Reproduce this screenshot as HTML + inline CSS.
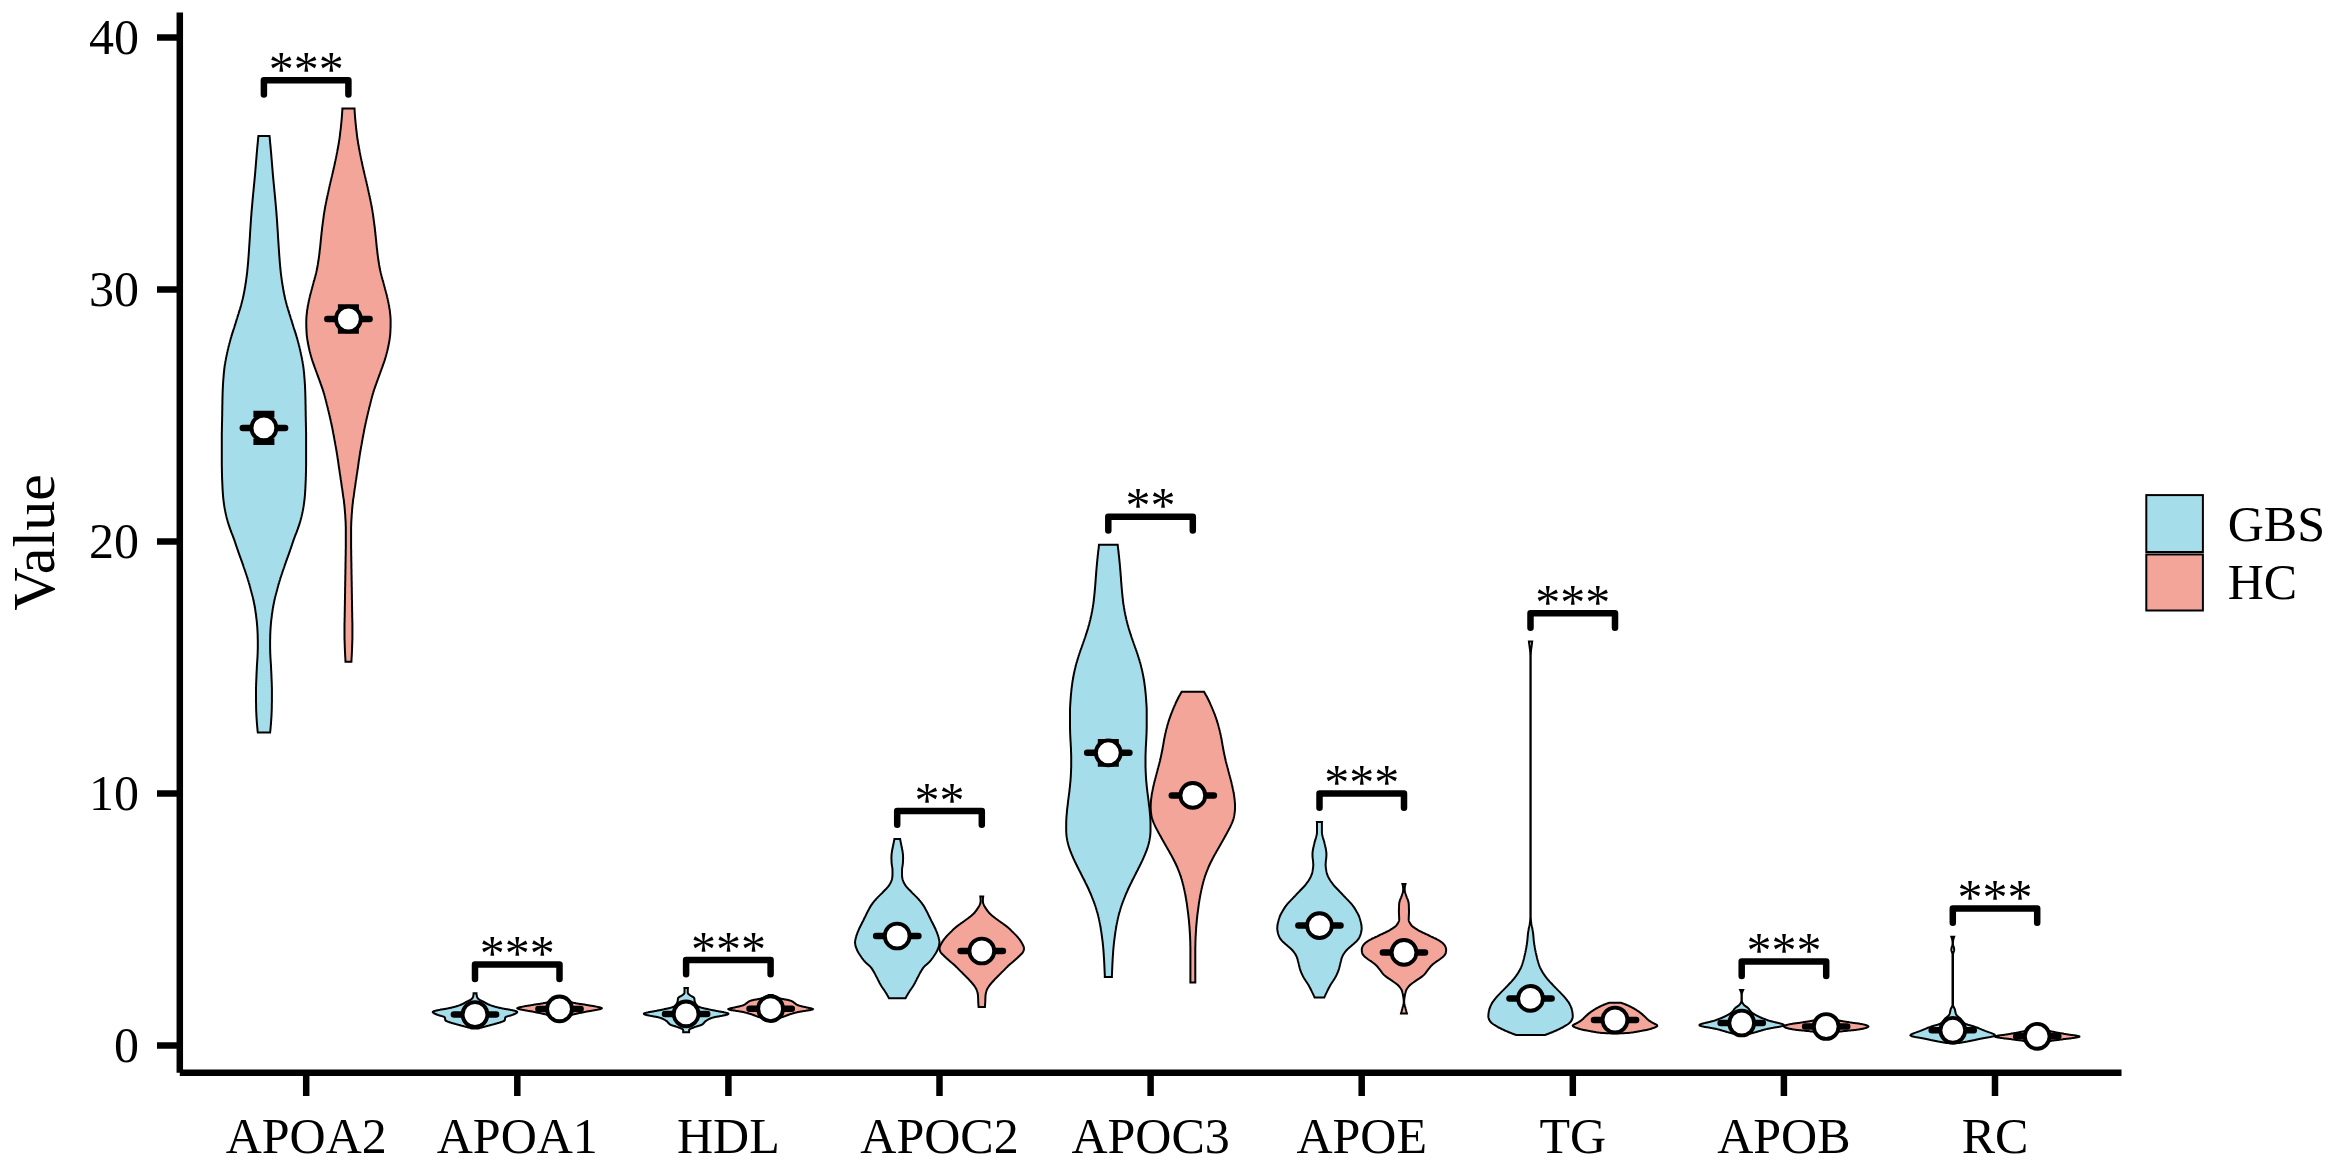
<!DOCTYPE html>
<html lang="en"><head><meta charset="utf-8"><title>Violin plot</title>
<style>html,body{margin:0;padding:0;background:#fff}body{width:2335px;height:1166px;overflow:hidden}svg{display:block}text{font-family:"Liberation Serif",serif;fill:#000}</style>
</head><body>
<svg width="2335" height="1166" viewBox="0 0 2335 1166">
<rect width="2335" height="1166" fill="#fff"/>
<g stroke="#000" stroke-width="2.0" stroke-linejoin="miter" stroke-miterlimit="10">
<path fill="#A6DDEA" d="M269.5,136.1 269.6,136.9 269.7,137.6 269.8,138.4 269.8,139.1 269.9,139.9 270.0,140.6 270.0,141.4 270.1,142.1 270.2,142.9 270.2,143.6 270.3,144.4 270.4,145.1 270.5,145.9 270.5,146.6 270.6,147.4 270.7,148.1 270.7,148.9 270.8,149.6 270.9,150.4 270.9,151.1 271.0,151.9 271.1,152.6 271.1,153.4 271.2,154.1 271.3,154.9 271.3,155.6 271.4,156.4 271.4,157.1 271.5,157.9 271.6,158.6 271.6,159.4 271.7,160.1 271.8,160.9 271.8,161.6 271.9,162.4 271.9,163.1 272.0,163.9 272.1,164.6 272.1,165.4 272.2,166.1 272.2,166.9 272.3,167.6 272.4,168.4 272.4,169.1 272.5,169.9 272.6,170.7 272.6,171.4 272.7,172.2 272.7,172.9 272.8,173.7 272.9,174.4 272.9,175.2 273.0,175.9 273.1,176.7 273.1,177.4 273.2,178.2 273.3,178.9 273.4,179.7 273.4,180.4 273.5,181.2 273.6,181.9 273.6,182.7 273.7,183.4 273.8,184.2 273.9,184.9 273.9,185.7 274.0,186.4 274.1,187.2 274.2,187.9 274.2,188.7 274.3,189.4 274.4,190.2 274.4,190.9 274.5,191.7 274.6,192.4 274.7,193.2 274.7,193.9 274.8,194.7 274.9,195.4 274.9,196.2 275.0,196.9 275.1,197.7 275.2,198.4 275.2,199.2 275.3,199.9 275.4,200.7 275.4,201.4 275.5,202.2 275.6,203.0 275.6,203.7 275.7,204.5 275.8,205.2 275.8,206.0 275.9,206.7 276.0,207.5 276.0,208.2 276.1,209.0 276.2,209.7 276.2,210.5 276.3,211.2 276.4,212.0 276.4,212.7 276.5,213.5 276.5,214.2 276.6,215.0 276.6,215.7 276.7,216.5 276.8,217.2 276.8,218.0 276.9,218.7 276.9,219.5 277.0,220.2 277.0,221.0 277.1,221.7 277.1,222.5 277.2,223.2 277.2,224.0 277.3,224.7 277.3,225.5 277.4,226.2 277.4,227.0 277.5,227.7 277.5,228.5 277.6,229.2 277.6,230.0 277.7,230.7 277.7,231.5 277.8,232.2 277.8,233.0 277.9,233.7 277.9,234.5 277.9,235.2 278.0,236.0 278.0,236.8 278.1,237.5 278.1,238.3 278.2,239.0 278.2,239.8 278.3,240.5 278.3,241.3 278.4,242.0 278.4,242.8 278.5,243.5 278.5,244.3 278.6,245.0 278.6,245.8 278.7,246.5 278.7,247.3 278.8,248.0 278.8,248.8 278.9,249.5 278.9,250.3 279.0,251.0 279.0,251.8 279.1,252.5 279.1,253.3 279.2,254.0 279.2,254.8 279.3,255.5 279.3,256.3 279.4,257.0 279.5,257.8 279.5,258.5 279.6,259.3 279.6,260.0 279.7,260.8 279.7,261.5 279.8,262.3 279.9,263.0 279.9,263.8 280.0,264.5 280.1,265.3 280.1,266.0 280.2,266.8 280.3,267.5 280.4,268.3 280.4,269.1 280.5,269.8 280.6,270.6 280.7,271.3 280.7,272.1 280.8,272.8 280.9,273.6 281.0,274.3 281.1,275.1 281.2,275.8 281.3,276.6 281.4,277.3 281.5,278.1 281.6,278.8 281.7,279.6 281.8,280.3 281.9,281.1 282.0,281.8 282.1,282.6 282.2,283.3 282.4,284.1 282.5,284.8 282.6,285.6 282.7,286.3 282.8,287.1 283.0,287.8 283.1,288.6 283.2,289.3 283.4,290.1 283.5,290.8 283.6,291.6 283.8,292.3 283.9,293.1 284.1,293.8 284.2,294.6 284.4,295.3 284.5,296.1 284.7,296.8 284.9,297.6 285.0,298.3 285.2,299.1 285.4,299.8 285.6,300.6 285.8,301.3 286.0,302.1 286.2,302.9 286.4,303.6 286.6,304.4 286.8,305.1 287.0,305.9 287.2,306.6 287.4,307.4 287.7,308.1 287.9,308.9 288.1,309.6 288.4,310.4 288.6,311.1 288.8,311.9 289.1,312.6 289.3,313.4 289.5,314.1 289.8,314.9 290.0,315.6 290.2,316.4 290.5,317.1 290.7,317.9 290.9,318.6 291.2,319.4 291.4,320.1 291.6,320.9 291.9,321.6 292.1,322.4 292.3,323.1 292.5,323.9 292.8,324.6 293.0,325.4 293.3,326.1 293.5,326.9 293.7,327.6 294.0,328.4 294.2,329.1 294.5,329.9 294.7,330.6 294.9,331.4 295.2,332.1 295.4,332.9 295.7,333.6 295.9,334.4 296.1,335.2 296.4,335.9 296.6,336.7 296.8,337.4 297.1,338.2 297.3,338.9 297.5,339.7 297.7,340.4 297.9,341.2 298.1,341.9 298.3,342.7 298.5,343.4 298.7,344.2 298.9,344.9 299.1,345.7 299.3,346.4 299.5,347.2 299.6,347.9 299.8,348.7 300.0,349.4 300.2,350.2 300.3,350.9 300.5,351.7 300.7,352.4 300.8,353.2 301.0,353.9 301.1,354.7 301.3,355.4 301.5,356.2 301.6,356.9 301.8,357.7 301.9,358.4 302.0,359.2 302.2,359.9 302.3,360.7 302.5,361.4 302.6,362.2 302.7,362.9 302.8,363.7 303.0,364.4 303.1,365.2 303.2,365.9 303.3,366.7 303.4,367.4 303.5,368.2 303.6,369.0 303.7,369.7 303.8,370.5 303.8,371.2 303.9,372.0 304.0,372.7 304.1,373.5 304.1,374.2 304.2,375.0 304.3,375.7 304.3,376.5 304.4,377.2 304.4,378.0 304.5,378.7 304.6,379.5 304.6,380.2 304.7,381.0 304.7,381.7 304.8,382.5 304.8,383.2 304.9,384.0 304.9,384.7 305.0,385.5 305.0,386.2 305.0,387.0 305.1,387.7 305.1,388.5 305.1,389.2 305.2,390.0 305.2,390.7 305.2,391.5 305.3,392.2 305.3,393.0 305.3,393.7 305.3,394.5 305.3,395.2 305.4,396.0 305.4,396.7 305.4,397.5 305.4,398.2 305.4,399.0 305.5,399.7 305.5,400.5 305.5,401.3 305.5,402.0 305.5,402.8 305.5,403.5 305.5,404.3 305.6,405.0 305.6,405.8 305.6,406.5 305.6,407.3 305.6,408.0 305.6,408.8 305.6,409.5 305.6,410.3 305.7,411.0 305.7,411.8 305.7,412.5 305.7,413.3 305.7,414.0 305.7,414.8 305.7,415.5 305.7,416.3 305.8,417.0 305.8,417.8 305.8,418.5 305.8,419.3 305.8,420.0 305.8,420.8 305.8,421.5 305.9,422.3 305.9,423.0 305.9,423.8 305.9,424.5 305.9,425.3 305.9,426.0 306.0,426.8 306.0,427.5 306.0,428.3 306.0,429.0 306.0,429.8 306.0,430.5 306.0,431.3 306.1,432.0 306.1,432.8 306.1,433.5 306.1,434.3 306.1,435.1 306.1,435.8 306.1,436.6 306.1,437.3 306.1,438.1 306.1,438.8 306.1,439.6 306.1,440.3 306.1,441.1 306.1,441.8 306.1,442.6 306.1,443.3 306.1,444.1 306.1,444.8 306.1,445.6 306.1,446.3 306.1,447.1 306.1,447.8 306.1,448.6 306.1,449.3 306.1,450.1 306.1,450.8 306.1,451.6 306.1,452.3 306.1,453.1 306.1,453.8 306.1,454.6 306.1,455.3 306.1,456.1 306.1,456.8 306.1,457.6 306.1,458.3 306.1,459.1 306.1,459.8 306.1,460.6 306.1,461.3 306.1,462.1 306.1,462.8 306.1,463.6 306.1,464.3 306.1,465.1 306.1,465.8 306.1,466.6 306.0,467.3 306.0,468.1 306.0,468.9 306.0,469.6 306.0,470.4 306.0,471.1 306.0,471.9 306.0,472.6 305.9,473.4 305.9,474.1 305.9,474.9 305.9,475.6 305.9,476.4 305.8,477.1 305.8,477.9 305.8,478.6 305.8,479.4 305.7,480.1 305.7,480.9 305.7,481.6 305.6,482.4 305.6,483.1 305.6,483.9 305.5,484.6 305.5,485.4 305.5,486.1 305.4,486.9 305.4,487.6 305.4,488.4 305.3,489.1 305.3,489.9 305.2,490.6 305.2,491.4 305.1,492.1 305.1,492.9 305.0,493.6 305.0,494.4 304.9,495.1 304.9,495.9 304.8,496.6 304.7,497.4 304.6,498.1 304.6,498.9 304.5,499.6 304.4,500.4 304.3,501.2 304.2,501.9 304.1,502.7 304.0,503.4 303.9,504.2 303.8,504.9 303.7,505.7 303.6,506.4 303.4,507.2 303.3,507.9 303.2,508.7 303.0,509.4 302.9,510.2 302.7,510.9 302.6,511.7 302.4,512.4 302.3,513.2 302.1,513.9 301.9,514.7 301.8,515.4 301.6,516.2 301.4,516.9 301.2,517.7 301.0,518.4 300.8,519.2 300.6,519.9 300.4,520.7 300.2,521.4 300.0,522.2 299.8,522.9 299.5,523.7 299.3,524.4 299.1,525.2 298.8,525.9 298.6,526.7 298.3,527.4 298.1,528.2 297.8,528.9 297.5,529.7 297.2,530.4 297.0,531.2 296.7,531.9 296.4,532.7 296.1,533.4 295.8,534.2 295.5,535.0 295.2,535.7 294.9,536.5 294.6,537.2 294.4,538.0 294.1,538.7 293.8,539.5 293.5,540.2 293.3,541.0 293.0,541.7 292.8,542.5 292.5,543.2 292.3,544.0 292.0,544.7 291.8,545.5 291.5,546.2 291.3,547.0 291.0,547.7 290.8,548.5 290.5,549.2 290.2,550.0 290.0,550.7 289.7,551.5 289.5,552.2 289.2,553.0 288.9,553.7 288.7,554.5 288.4,555.2 288.1,556.0 287.9,556.7 287.6,557.5 287.3,558.2 287.0,559.0 286.8,559.7 286.5,560.5 286.2,561.2 286.0,562.0 285.7,562.7 285.4,563.5 285.2,564.2 284.9,565.0 284.6,565.7 284.4,566.5 284.1,567.3 283.8,568.0 283.6,568.8 283.3,569.5 283.0,570.3 282.8,571.0 282.5,571.8 282.3,572.5 282.0,573.3 281.8,574.0 281.5,574.8 281.3,575.5 281.0,576.3 280.8,577.0 280.5,577.8 280.3,578.5 280.1,579.3 279.9,580.0 279.6,580.8 279.4,581.5 279.2,582.3 279.0,583.0 278.7,583.8 278.5,584.5 278.3,585.3 278.1,586.0 277.9,586.8 277.7,587.5 277.5,588.3 277.3,589.0 277.1,589.8 276.9,590.5 276.7,591.3 276.5,592.0 276.3,592.8 276.1,593.5 275.9,594.3 275.7,595.0 275.5,595.8 275.3,596.5 275.1,597.3 274.9,598.0 274.8,598.8 274.6,599.5 274.4,600.3 274.3,601.1 274.1,601.8 274.0,602.6 273.8,603.3 273.7,604.1 273.5,604.8 273.4,605.6 273.2,606.3 273.1,607.1 273.0,607.8 272.8,608.6 272.7,609.3 272.6,610.1 272.5,610.8 272.4,611.6 272.3,612.3 272.2,613.1 272.1,613.8 271.9,614.6 271.8,615.3 271.8,616.1 271.7,616.8 271.6,617.6 271.5,618.3 271.4,619.1 271.3,619.8 271.2,620.6 271.1,621.3 271.1,622.1 271.0,622.8 270.9,623.6 270.9,624.3 270.8,625.1 270.7,625.8 270.7,626.6 270.6,627.3 270.6,628.1 270.5,628.8 270.5,629.6 270.4,630.3 270.4,631.1 270.4,631.8 270.3,632.6 270.3,633.4 270.3,634.1 270.2,634.9 270.2,635.6 270.2,636.4 270.2,637.1 270.2,637.9 270.2,638.6 270.1,639.4 270.1,640.1 270.1,640.9 270.1,641.6 270.1,642.4 270.1,643.1 270.1,643.9 270.1,644.6 270.1,645.4 270.1,646.1 270.1,646.9 270.1,647.6 270.1,648.4 270.1,649.1 270.2,649.9 270.2,650.6 270.2,651.4 270.2,652.1 270.2,652.9 270.3,653.6 270.3,654.4 270.3,655.1 270.4,655.9 270.4,656.6 270.4,657.4 270.5,658.1 270.5,658.9 270.6,659.6 270.6,660.4 270.7,661.1 270.7,661.9 270.8,662.6 270.8,663.4 270.9,664.1 270.9,664.9 271.0,665.6 271.0,666.4 271.0,667.2 271.1,667.9 271.1,668.7 271.1,669.4 271.2,670.2 271.2,670.9 271.3,671.7 271.3,672.4 271.3,673.2 271.4,673.9 271.4,674.7 271.4,675.4 271.5,676.2 271.5,676.9 271.5,677.7 271.5,678.4 271.6,679.2 271.6,679.9 271.6,680.7 271.7,681.4 271.7,682.2 271.7,682.9 271.8,683.7 271.8,684.4 271.8,685.2 271.8,685.9 271.8,686.7 271.9,687.4 271.9,688.2 271.9,688.9 271.9,689.7 271.9,690.4 271.9,691.2 271.9,691.9 271.9,692.7 271.9,693.4 271.9,694.2 271.9,694.9 271.9,695.7 271.9,696.4 271.9,697.2 271.9,697.9 271.9,698.7 271.9,699.5 271.9,700.2 271.9,701.0 271.9,701.7 271.9,702.5 271.8,703.2 271.8,704.0 271.8,704.7 271.8,705.5 271.8,706.2 271.8,707.0 271.8,707.7 271.8,708.5 271.7,709.2 271.7,710.0 271.7,710.7 271.7,711.5 271.6,712.2 271.6,713.0 271.6,713.7 271.5,714.5 271.5,715.2 271.5,716.0 271.4,716.7 271.4,717.5 271.3,718.2 271.3,719.0 271.2,719.7 271.2,720.5 271.1,721.2 271.1,722.0 271.0,722.7 271.0,723.5 270.9,724.2 270.8,725.0 270.8,725.7 270.7,726.5 270.6,727.2 270.6,728.0 270.5,728.7 270.4,729.5 270.4,730.2 270.3,731.0 270.2,731.7 270.1,732.5 257.8,732.5 257.7,731.7 257.6,731.0 257.5,730.2 257.5,729.5 257.4,728.7 257.3,728.0 257.3,727.2 257.2,726.5 257.1,725.7 257.1,725.0 257.0,724.2 256.9,723.5 256.9,722.7 256.8,722.0 256.8,721.2 256.7,720.5 256.7,719.7 256.6,719.0 256.6,718.2 256.5,717.5 256.5,716.7 256.4,716.0 256.4,715.2 256.4,714.5 256.3,713.7 256.3,713.0 256.3,712.2 256.2,711.5 256.2,710.7 256.2,710.0 256.2,709.2 256.1,708.5 256.1,707.7 256.1,707.0 256.1,706.2 256.1,705.5 256.1,704.7 256.1,704.0 256.1,703.2 256.0,702.5 256.0,701.7 256.0,701.0 256.0,700.2 256.0,699.5 256.0,698.7 256.0,697.9 256.0,697.2 256.0,696.4 256.0,695.7 256.0,694.9 256.0,694.2 256.0,693.4 256.0,692.7 256.0,691.9 256.0,691.2 256.0,690.4 256.0,689.7 256.0,688.9 256.0,688.2 256.0,687.4 256.1,686.7 256.1,685.9 256.1,685.2 256.1,684.4 256.1,683.7 256.2,682.9 256.2,682.2 256.2,681.4 256.3,680.7 256.3,679.9 256.3,679.2 256.4,678.4 256.4,677.7 256.4,676.9 256.4,676.2 256.5,675.4 256.5,674.7 256.5,673.9 256.6,673.2 256.6,672.4 256.6,671.7 256.7,670.9 256.7,670.2 256.8,669.4 256.8,668.7 256.8,667.9 256.9,667.2 256.9,666.4 256.9,665.6 257.0,664.9 257.0,664.1 257.1,663.4 257.1,662.6 257.2,661.9 257.2,661.1 257.3,660.4 257.3,659.6 257.4,658.9 257.4,658.1 257.5,657.4 257.5,656.6 257.5,655.9 257.6,655.1 257.6,654.4 257.6,653.6 257.7,652.9 257.7,652.1 257.7,651.4 257.7,650.6 257.7,649.9 257.8,649.1 257.8,648.4 257.8,647.6 257.8,646.9 257.8,646.1 257.8,645.4 257.8,644.6 257.8,643.9 257.8,643.1 257.8,642.4 257.8,641.6 257.8,640.9 257.8,640.1 257.8,639.4 257.7,638.6 257.7,637.9 257.7,637.1 257.7,636.4 257.7,635.6 257.7,634.9 257.6,634.1 257.6,633.4 257.6,632.6 257.5,631.8 257.5,631.1 257.5,630.3 257.4,629.6 257.4,628.8 257.3,628.1 257.3,627.3 257.2,626.6 257.2,625.8 257.1,625.1 257.0,624.3 257.0,623.6 256.9,622.8 256.8,622.1 256.8,621.3 256.7,620.6 256.6,619.8 256.5,619.1 256.4,618.3 256.3,617.6 256.2,616.8 256.1,616.1 256.1,615.3 256.0,614.6 255.8,613.8 255.7,613.1 255.6,612.3 255.5,611.6 255.4,610.8 255.3,610.1 255.2,609.3 255.1,608.6 254.9,607.8 254.8,607.1 254.7,606.3 254.5,605.6 254.4,604.8 254.2,604.1 254.1,603.3 253.9,602.6 253.8,601.8 253.6,601.1 253.5,600.3 253.3,599.5 253.1,598.8 253.0,598.0 252.8,597.3 252.6,596.5 252.4,595.8 252.2,595.0 252.0,594.3 251.8,593.5 251.6,592.8 251.4,592.0 251.2,591.3 251.0,590.5 250.8,589.8 250.6,589.0 250.4,588.3 250.2,587.5 250.0,586.8 249.8,586.0 249.6,585.3 249.4,584.5 249.2,583.8 248.9,583.0 248.7,582.3 248.5,581.5 248.3,580.8 248.0,580.0 247.8,579.3 247.6,578.5 247.4,577.8 247.1,577.0 246.9,576.3 246.6,575.5 246.4,574.8 246.1,574.0 245.9,573.3 245.6,572.5 245.4,571.8 245.1,571.0 244.9,570.3 244.6,569.5 244.3,568.8 244.1,568.0 243.8,567.3 243.5,566.5 243.3,565.7 243.0,565.0 242.7,564.2 242.5,563.5 242.2,562.7 241.9,562.0 241.7,561.2 241.4,560.5 241.1,559.7 240.9,559.0 240.6,558.2 240.3,557.5 240.0,556.7 239.8,556.0 239.5,555.2 239.2,554.5 239.0,553.7 238.7,553.0 238.4,552.2 238.2,551.5 237.9,550.7 237.7,550.0 237.4,549.2 237.1,548.5 236.9,547.7 236.6,547.0 236.4,546.2 236.1,545.5 235.9,544.7 235.6,544.0 235.4,543.2 235.1,542.5 234.9,541.7 234.6,541.0 234.4,540.2 234.1,539.5 233.8,538.7 233.5,538.0 233.3,537.2 233.0,536.5 232.7,535.7 232.4,535.0 232.1,534.2 231.8,533.4 231.5,532.7 231.2,531.9 230.9,531.2 230.7,530.4 230.4,529.7 230.1,528.9 229.8,528.2 229.6,527.4 229.3,526.7 229.1,525.9 228.8,525.2 228.6,524.4 228.4,523.7 228.1,522.9 227.9,522.2 227.7,521.4 227.5,520.7 227.3,519.9 227.1,519.2 226.9,518.4 226.7,517.7 226.5,516.9 226.3,516.2 226.1,515.4 226.0,514.7 225.8,513.9 225.6,513.2 225.5,512.4 225.3,511.7 225.2,510.9 225.0,510.2 224.9,509.4 224.7,508.7 224.6,507.9 224.5,507.2 224.3,506.4 224.2,505.7 224.1,504.9 224.0,504.2 223.9,503.4 223.8,502.7 223.7,501.9 223.6,501.2 223.5,500.4 223.4,499.6 223.3,498.9 223.3,498.1 223.2,497.4 223.1,496.6 223.0,495.9 223.0,495.1 222.9,494.4 222.9,493.6 222.8,492.9 222.8,492.1 222.7,491.4 222.7,490.6 222.6,489.9 222.6,489.1 222.5,488.4 222.5,487.6 222.5,486.9 222.4,486.1 222.4,485.4 222.4,484.6 222.3,483.9 222.3,483.1 222.3,482.4 222.2,481.6 222.2,480.9 222.2,480.1 222.1,479.4 222.1,478.6 222.1,477.9 222.1,477.1 222.0,476.4 222.0,475.6 222.0,474.9 222.0,474.1 222.0,473.4 221.9,472.6 221.9,471.9 221.9,471.1 221.9,470.4 221.9,469.6 221.9,468.9 221.9,468.1 221.9,467.3 221.8,466.6 221.8,465.8 221.8,465.1 221.8,464.3 221.8,463.6 221.8,462.8 221.8,462.1 221.8,461.3 221.8,460.6 221.8,459.8 221.8,459.1 221.8,458.3 221.8,457.6 221.8,456.8 221.8,456.1 221.8,455.3 221.8,454.6 221.8,453.8 221.8,453.1 221.8,452.3 221.8,451.6 221.8,450.8 221.8,450.1 221.8,449.3 221.8,448.6 221.8,447.8 221.8,447.1 221.8,446.3 221.8,445.6 221.8,444.8 221.8,444.1 221.8,443.3 221.8,442.6 221.8,441.8 221.8,441.1 221.8,440.3 221.8,439.6 221.8,438.8 221.8,438.1 221.8,437.3 221.8,436.6 221.8,435.8 221.8,435.1 221.8,434.3 221.8,433.5 221.8,432.8 221.8,432.0 221.9,431.3 221.9,430.5 221.9,429.8 221.9,429.0 221.9,428.3 221.9,427.5 221.9,426.8 222.0,426.0 222.0,425.3 222.0,424.5 222.0,423.8 222.0,423.0 222.0,422.3 222.1,421.5 222.1,420.8 222.1,420.0 222.1,419.3 222.1,418.5 222.1,417.8 222.1,417.0 222.2,416.3 222.2,415.5 222.2,414.8 222.2,414.0 222.2,413.3 222.2,412.5 222.2,411.8 222.2,411.0 222.3,410.3 222.3,409.5 222.3,408.8 222.3,408.0 222.3,407.3 222.3,406.5 222.3,405.8 222.3,405.0 222.4,404.3 222.4,403.5 222.4,402.8 222.4,402.0 222.4,401.3 222.4,400.5 222.4,399.7 222.5,399.0 222.5,398.2 222.5,397.5 222.5,396.7 222.5,396.0 222.6,395.2 222.6,394.5 222.6,393.7 222.6,393.0 222.6,392.2 222.7,391.5 222.7,390.7 222.7,390.0 222.8,389.2 222.8,388.5 222.8,387.7 222.9,387.0 222.9,386.2 222.9,385.5 223.0,384.7 223.0,384.0 223.1,383.2 223.1,382.5 223.2,381.7 223.2,381.0 223.3,380.2 223.3,379.5 223.4,378.7 223.5,378.0 223.5,377.2 223.6,376.5 223.6,375.7 223.7,375.0 223.8,374.2 223.8,373.5 223.9,372.7 224.0,372.0 224.1,371.2 224.1,370.5 224.2,369.7 224.3,369.0 224.4,368.2 224.5,367.4 224.6,366.7 224.7,365.9 224.8,365.2 224.9,364.4 225.1,363.7 225.2,362.9 225.3,362.2 225.4,361.4 225.6,360.7 225.7,359.9 225.9,359.2 226.0,358.4 226.1,357.7 226.3,356.9 226.4,356.2 226.6,355.4 226.8,354.7 226.9,353.9 227.1,353.2 227.2,352.4 227.4,351.7 227.6,350.9 227.7,350.2 227.9,349.4 228.1,348.7 228.3,347.9 228.4,347.2 228.6,346.4 228.8,345.7 229.0,344.9 229.2,344.2 229.4,343.4 229.6,342.7 229.8,341.9 230.0,341.2 230.2,340.4 230.4,339.7 230.6,338.9 230.8,338.2 231.1,337.4 231.3,336.7 231.5,335.9 231.8,335.2 232.0,334.4 232.2,333.6 232.5,332.9 232.7,332.1 233.0,331.4 233.2,330.6 233.4,329.9 233.7,329.1 233.9,328.4 234.2,327.6 234.4,326.9 234.6,326.1 234.9,325.4 235.1,324.6 235.4,323.9 235.6,323.1 235.8,322.4 236.0,321.6 236.3,320.9 236.5,320.1 236.7,319.4 237.0,318.6 237.2,317.9 237.4,317.1 237.7,316.4 237.9,315.6 238.1,314.9 238.4,314.1 238.6,313.4 238.8,312.6 239.1,311.9 239.3,311.1 239.5,310.4 239.8,309.6 240.0,308.9 240.2,308.1 240.5,307.4 240.7,306.6 240.9,305.9 241.1,305.1 241.3,304.4 241.5,303.6 241.7,302.9 241.9,302.1 242.1,301.3 242.3,300.6 242.5,299.8 242.7,299.1 242.9,298.3 243.0,297.6 243.2,296.8 243.4,296.1 243.5,295.3 243.7,294.6 243.8,293.8 244.0,293.1 244.1,292.3 244.3,291.6 244.4,290.8 244.5,290.1 244.7,289.3 244.8,288.6 244.9,287.8 245.1,287.1 245.2,286.3 245.3,285.6 245.4,284.8 245.5,284.1 245.7,283.3 245.8,282.6 245.9,281.8 246.0,281.1 246.1,280.3 246.2,279.6 246.3,278.8 246.4,278.1 246.5,277.3 246.6,276.6 246.7,275.8 246.8,275.1 246.9,274.3 247.0,273.6 247.1,272.8 247.2,272.1 247.2,271.3 247.3,270.6 247.4,269.8 247.5,269.1 247.5,268.3 247.6,267.5 247.7,266.8 247.8,266.0 247.8,265.3 247.9,264.5 248.0,263.8 248.0,263.0 248.1,262.3 248.2,261.5 248.2,260.8 248.3,260.0 248.3,259.3 248.4,258.5 248.4,257.8 248.5,257.0 248.6,256.3 248.6,255.5 248.7,254.8 248.7,254.0 248.8,253.3 248.8,252.5 248.9,251.8 248.9,251.0 249.0,250.3 249.0,249.5 249.1,248.8 249.1,248.0 249.2,247.3 249.2,246.5 249.3,245.8 249.3,245.0 249.4,244.3 249.4,243.5 249.5,242.8 249.5,242.0 249.6,241.3 249.6,240.5 249.7,239.8 249.7,239.0 249.8,238.3 249.8,237.5 249.9,236.8 249.9,236.0 250.0,235.2 250.0,234.5 250.0,233.7 250.1,233.0 250.1,232.2 250.2,231.5 250.2,230.7 250.3,230.0 250.3,229.2 250.4,228.5 250.4,227.7 250.5,227.0 250.5,226.2 250.6,225.5 250.6,224.7 250.7,224.0 250.7,223.2 250.8,222.5 250.8,221.7 250.9,221.0 250.9,220.2 251.0,219.5 251.0,218.7 251.1,218.0 251.1,217.2 251.2,216.5 251.3,215.7 251.3,215.0 251.4,214.2 251.4,213.5 251.5,212.7 251.5,212.0 251.6,211.2 251.7,210.5 251.7,209.7 251.8,209.0 251.9,208.2 251.9,207.5 252.0,206.7 252.1,206.0 252.1,205.2 252.2,204.5 252.3,203.7 252.3,203.0 252.4,202.2 252.5,201.4 252.5,200.7 252.6,199.9 252.7,199.2 252.7,198.4 252.8,197.7 252.9,196.9 253.0,196.2 253.0,195.4 253.1,194.7 253.2,193.9 253.2,193.2 253.3,192.4 253.4,191.7 253.5,190.9 253.5,190.2 253.6,189.4 253.7,188.7 253.7,187.9 253.8,187.2 253.9,186.4 254.0,185.7 254.0,184.9 254.1,184.2 254.2,183.4 254.3,182.7 254.3,181.9 254.4,181.2 254.5,180.4 254.5,179.7 254.6,178.9 254.7,178.2 254.8,177.4 254.8,176.7 254.9,175.9 255.0,175.2 255.0,174.4 255.1,173.7 255.2,172.9 255.2,172.2 255.3,171.4 255.3,170.7 255.4,169.9 255.5,169.1 255.5,168.4 255.6,167.6 255.7,166.9 255.7,166.1 255.8,165.4 255.8,164.6 255.9,163.9 256.0,163.1 256.0,162.4 256.1,161.6 256.1,160.9 256.2,160.1 256.3,159.4 256.3,158.6 256.4,157.9 256.5,157.1 256.5,156.4 256.6,155.6 256.6,154.9 256.7,154.1 256.8,153.4 256.8,152.6 256.9,151.9 257.0,151.1 257.0,150.4 257.1,149.6 257.2,148.9 257.2,148.1 257.3,147.4 257.4,146.6 257.4,145.9 257.5,145.1 257.6,144.4 257.7,143.6 257.7,142.9 257.8,142.1 257.9,141.4 257.9,140.6 258.0,139.9 258.1,139.1 258.1,138.4 258.2,137.6 258.3,136.9 258.4,136.1Z"/>
<path fill="#F3A59A" d="M354.5,108.5 354.5,109.3 354.6,110.0 354.6,110.8 354.7,111.5 354.7,112.3 354.8,113.0 354.8,113.8 354.9,114.5 354.9,115.3 355.0,116.0 355.0,116.8 355.1,117.5 355.2,118.3 355.2,119.0 355.3,119.8 355.4,120.5 355.4,121.3 355.5,122.0 355.6,122.8 355.7,123.5 355.7,124.3 355.8,125.0 355.9,125.8 356.0,126.5 356.0,127.3 356.1,128.0 356.2,128.8 356.3,129.5 356.4,130.3 356.5,131.1 356.6,131.8 356.7,132.6 356.8,133.3 356.8,134.1 356.9,134.8 357.0,135.6 357.1,136.3 357.2,137.1 357.3,137.8 357.4,138.6 357.5,139.3 357.6,140.1 357.8,140.8 357.9,141.6 358.0,142.3 358.1,143.1 358.2,143.8 358.4,144.6 358.5,145.3 358.6,146.1 358.8,146.8 358.9,147.6 359.0,148.3 359.2,149.1 359.3,149.8 359.5,150.6 359.6,151.4 359.8,152.1 359.9,152.9 360.1,153.6 360.2,154.4 360.4,155.1 360.5,155.9 360.7,156.6 360.8,157.4 361.0,158.1 361.1,158.9 361.3,159.6 361.4,160.4 361.6,161.1 361.8,161.9 361.9,162.6 362.1,163.4 362.2,164.1 362.4,164.9 362.6,165.6 362.7,166.4 362.9,167.1 363.1,167.9 363.2,168.6 363.4,169.4 363.6,170.1 363.8,170.9 363.9,171.6 364.1,172.4 364.3,173.2 364.5,173.9 364.7,174.7 364.8,175.4 365.0,176.2 365.2,176.9 365.4,177.7 365.6,178.4 365.7,179.2 365.9,179.9 366.1,180.7 366.3,181.4 366.5,182.2 366.6,182.9 366.8,183.7 367.0,184.4 367.1,185.2 367.3,185.9 367.5,186.7 367.7,187.4 367.8,188.2 368.0,188.9 368.1,189.7 368.3,190.4 368.5,191.2 368.6,191.9 368.8,192.7 369.0,193.4 369.1,194.2 369.3,195.0 369.5,195.7 369.6,196.5 369.8,197.2 369.9,198.0 370.1,198.7 370.3,199.5 370.4,200.2 370.6,201.0 370.7,201.7 370.9,202.5 371.0,203.2 371.2,204.0 371.3,204.7 371.5,205.5 371.6,206.2 371.7,207.0 371.9,207.7 372.0,208.5 372.1,209.2 372.3,210.0 372.4,210.7 372.5,211.5 372.6,212.2 372.8,213.0 372.9,213.7 373.0,214.5 373.1,215.3 373.2,216.0 373.3,216.8 373.4,217.5 373.5,218.3 373.6,219.0 373.7,219.8 373.8,220.5 373.9,221.3 374.0,222.0 374.1,222.8 374.2,223.5 374.3,224.3 374.4,225.0 374.5,225.8 374.6,226.5 374.7,227.3 374.8,228.0 374.9,228.8 374.9,229.5 375.0,230.3 375.1,231.0 375.2,231.8 375.3,232.5 375.4,233.3 375.4,234.0 375.5,234.8 375.6,235.5 375.7,236.3 375.8,237.1 375.8,237.8 375.9,238.6 376.0,239.3 376.1,240.1 376.1,240.8 376.2,241.6 376.3,242.3 376.4,243.1 376.4,243.8 376.5,244.6 376.6,245.3 376.7,246.1 376.7,246.8 376.8,247.6 376.9,248.3 377.0,249.1 377.1,249.8 377.2,250.6 377.3,251.3 377.3,252.1 377.4,252.8 377.5,253.6 377.6,254.3 377.7,255.1 377.8,255.8 377.9,256.6 378.0,257.3 378.1,258.1 378.2,258.9 378.3,259.6 378.4,260.4 378.5,261.1 378.7,261.9 378.8,262.6 378.9,263.4 379.0,264.1 379.1,264.9 379.3,265.6 379.4,266.4 379.5,267.1 379.7,267.9 379.8,268.6 380.0,269.4 380.1,270.1 380.3,270.9 380.5,271.6 380.6,272.4 380.8,273.1 381.0,273.9 381.2,274.6 381.4,275.4 381.6,276.1 381.8,276.9 382.0,277.6 382.2,278.4 382.4,279.2 382.6,279.9 382.8,280.7 383.1,281.4 383.3,282.2 383.5,282.9 383.7,283.7 383.9,284.4 384.1,285.2 384.3,285.9 384.5,286.7 384.7,287.4 384.9,288.2 385.1,288.9 385.3,289.7 385.5,290.4 385.7,291.2 385.9,291.9 386.1,292.7 386.3,293.4 386.5,294.2 386.7,294.9 386.9,295.7 387.0,296.4 387.2,297.2 387.4,297.9 387.6,298.7 387.7,299.4 387.9,300.2 388.1,301.0 388.2,301.7 388.4,302.5 388.5,303.2 388.7,304.0 388.8,304.7 389.0,305.5 389.1,306.2 389.2,307.0 389.3,307.7 389.4,308.5 389.6,309.2 389.7,310.0 389.8,310.7 389.9,311.5 390.0,312.2 390.0,313.0 390.1,313.7 390.2,314.5 390.3,315.2 390.4,316.0 390.4,316.7 390.5,317.5 390.5,318.2 390.6,319.0 390.6,319.7 390.6,320.5 390.6,321.2 390.6,322.0 390.6,322.8 390.6,323.5 390.6,324.3 390.6,325.0 390.6,325.8 390.6,326.5 390.6,327.3 390.5,328.0 390.5,328.8 390.5,329.5 390.4,330.3 390.4,331.0 390.4,331.8 390.3,332.5 390.3,333.3 390.2,334.0 390.2,334.8 390.1,335.5 390.0,336.3 389.9,337.0 389.8,337.8 389.7,338.5 389.6,339.3 389.5,340.0 389.4,340.8 389.2,341.5 389.1,342.3 389.0,343.1 388.8,343.8 388.7,344.6 388.5,345.3 388.4,346.1 388.2,346.8 388.1,347.6 387.9,348.3 387.7,349.1 387.6,349.8 387.4,350.6 387.2,351.3 387.0,352.1 386.8,352.8 386.6,353.6 386.4,354.3 386.2,355.1 386.0,355.8 385.8,356.6 385.6,357.3 385.3,358.1 385.1,358.8 384.9,359.6 384.6,360.3 384.4,361.1 384.1,361.8 383.9,362.6 383.6,363.3 383.3,364.1 383.1,364.9 382.8,365.6 382.5,366.4 382.3,367.1 382.0,367.9 381.7,368.6 381.4,369.4 381.2,370.1 380.9,370.9 380.6,371.6 380.3,372.4 380.1,373.1 379.8,373.9 379.5,374.6 379.3,375.4 379.0,376.1 378.7,376.9 378.4,377.6 378.2,378.4 377.9,379.1 377.6,379.9 377.3,380.6 377.1,381.4 376.8,382.1 376.5,382.9 376.3,383.6 376.0,384.4 375.7,385.1 375.5,385.9 375.2,386.7 374.9,387.4 374.7,388.2 374.4,388.9 374.1,389.7 373.9,390.4 373.7,391.2 373.4,391.9 373.2,392.7 373.0,393.4 372.7,394.2 372.5,394.9 372.3,395.7 372.1,396.4 371.9,397.2 371.7,397.9 371.5,398.7 371.3,399.4 371.1,400.2 370.9,400.9 370.7,401.7 370.5,402.4 370.4,403.2 370.2,403.9 370.0,404.7 369.8,405.4 369.6,406.2 369.4,407.0 369.2,407.7 369.0,408.5 368.9,409.2 368.7,410.0 368.5,410.7 368.3,411.5 368.1,412.2 368.0,413.0 367.8,413.7 367.6,414.5 367.4,415.2 367.3,416.0 367.1,416.7 366.9,417.5 366.7,418.2 366.6,419.0 366.4,419.7 366.2,420.5 366.1,421.2 365.9,422.0 365.7,422.7 365.6,423.5 365.4,424.2 365.3,425.0 365.1,425.7 364.9,426.5 364.8,427.2 364.6,428.0 364.5,428.8 364.3,429.5 364.2,430.3 364.0,431.0 363.9,431.8 363.8,432.5 363.6,433.3 363.5,434.0 363.3,434.8 363.2,435.5 363.1,436.3 362.9,437.0 362.8,437.8 362.6,438.5 362.5,439.3 362.4,440.0 362.2,440.8 362.1,441.5 362.0,442.3 361.8,443.0 361.7,443.8 361.6,444.5 361.4,445.3 361.3,446.0 361.1,446.8 361.0,447.5 360.9,448.3 360.7,449.1 360.6,449.8 360.5,450.6 360.4,451.3 360.2,452.1 360.1,452.8 360.0,453.6 359.9,454.3 359.7,455.1 359.6,455.8 359.5,456.6 359.4,457.3 359.3,458.1 359.2,458.8 359.1,459.6 358.9,460.3 358.8,461.1 358.7,461.8 358.6,462.6 358.5,463.3 358.4,464.1 358.3,464.8 358.2,465.6 358.1,466.3 358.0,467.1 357.9,467.8 357.8,468.6 357.6,469.3 357.5,470.1 357.4,470.9 357.3,471.6 357.2,472.4 357.1,473.1 357.0,473.9 356.8,474.6 356.7,475.4 356.6,476.1 356.5,476.9 356.4,477.6 356.3,478.4 356.2,479.1 356.1,479.9 355.9,480.6 355.8,481.4 355.7,482.1 355.6,482.9 355.5,483.6 355.4,484.4 355.3,485.1 355.2,485.9 355.1,486.6 355.0,487.4 354.8,488.1 354.7,488.9 354.6,489.6 354.5,490.4 354.4,491.1 354.3,491.9 354.2,492.7 354.1,493.4 354.0,494.2 353.9,494.9 353.8,495.7 353.7,496.4 353.6,497.2 353.4,497.9 353.3,498.7 353.2,499.4 353.1,500.2 353.0,500.9 352.9,501.7 352.9,502.4 352.8,503.2 352.7,503.9 352.6,504.7 352.5,505.4 352.4,506.2 352.4,506.9 352.3,507.7 352.2,508.4 352.2,509.2 352.1,509.9 352.0,510.7 352.0,511.4 351.9,512.2 351.9,513.0 351.8,513.7 351.7,514.5 351.7,515.2 351.6,516.0 351.6,516.7 351.6,517.5 351.5,518.2 351.5,519.0 351.4,519.7 351.4,520.5 351.3,521.2 351.3,522.0 351.3,522.7 351.2,523.5 351.2,524.2 351.2,525.0 351.2,525.7 351.1,526.5 351.1,527.2 351.1,528.0 351.1,528.7 351.1,529.5 351.1,530.2 351.1,531.0 351.1,531.7 351.1,532.5 351.1,533.2 351.1,534.0 351.1,534.8 351.1,535.5 351.1,536.3 351.1,537.0 351.1,537.8 351.1,538.5 351.1,539.3 351.1,540.0 351.1,540.8 351.1,541.5 351.1,542.3 351.1,543.0 351.1,543.8 351.1,544.5 351.1,545.3 351.1,546.0 351.1,546.8 351.1,547.5 351.1,548.3 351.1,549.0 351.2,549.8 351.2,550.5 351.2,551.3 351.2,552.0 351.2,552.8 351.2,553.5 351.2,554.3 351.2,555.0 351.2,555.8 351.3,556.6 351.3,557.3 351.3,558.1 351.3,558.8 351.3,559.6 351.3,560.3 351.3,561.1 351.3,561.8 351.4,562.6 351.4,563.3 351.4,564.1 351.4,564.8 351.4,565.6 351.4,566.3 351.4,567.1 351.4,567.8 351.4,568.6 351.5,569.3 351.5,570.1 351.5,570.8 351.5,571.6 351.5,572.3 351.5,573.1 351.5,573.8 351.5,574.6 351.6,575.3 351.6,576.1 351.6,576.9 351.6,577.6 351.6,578.4 351.6,579.1 351.6,579.9 351.6,580.6 351.7,581.4 351.7,582.1 351.7,582.9 351.7,583.6 351.7,584.4 351.7,585.1 351.7,585.9 351.7,586.6 351.8,587.4 351.8,588.1 351.8,588.9 351.8,589.6 351.8,590.4 351.8,591.1 351.8,591.9 351.8,592.6 351.8,593.4 351.9,594.1 351.9,594.9 351.9,595.6 351.9,596.4 351.9,597.1 351.9,597.9 351.9,598.7 351.9,599.4 352.0,600.2 352.0,600.9 352.0,601.7 352.0,602.4 352.0,603.2 352.0,603.9 352.0,604.7 352.0,605.4 352.1,606.2 352.1,606.9 352.1,607.7 352.1,608.4 352.1,609.2 352.1,609.9 352.1,610.7 352.1,611.4 352.2,612.2 352.2,612.9 352.2,613.7 352.2,614.4 352.2,615.2 352.2,615.9 352.2,616.7 352.2,617.4 352.3,618.2 352.3,618.9 352.3,619.7 352.3,620.5 352.3,621.2 352.3,622.0 352.4,622.7 352.4,623.5 352.4,624.2 352.4,625.0 352.4,625.7 352.4,626.5 352.4,627.2 352.4,628.0 352.4,628.7 352.4,629.5 352.4,630.2 352.4,631.0 352.4,631.7 352.4,632.5 352.4,633.2 352.4,634.0 352.4,634.7 352.4,635.5 352.4,636.2 352.4,637.0 352.4,637.7 352.4,638.5 352.4,639.2 352.3,640.0 352.3,640.8 352.3,641.5 352.3,642.3 352.2,643.0 352.2,643.8 352.2,644.5 352.2,645.3 352.1,646.0 352.1,646.8 352.1,647.5 352.1,648.3 352.0,649.0 352.0,649.8 352.0,650.5 351.9,651.3 351.9,652.0 351.9,652.8 351.8,653.5 351.8,654.3 351.8,655.0 351.7,655.8 351.7,656.5 351.6,657.3 351.6,658.0 351.5,658.8 351.5,659.5 351.5,660.3 351.4,661.0 351.4,661.8 345.5,661.8 345.5,661.0 345.4,660.3 345.4,659.5 345.4,658.8 345.3,658.0 345.3,657.3 345.2,656.5 345.2,655.8 345.1,655.0 345.1,654.3 345.1,653.5 345.0,652.8 345.0,652.0 345.0,651.3 344.9,650.5 344.9,649.8 344.9,649.0 344.8,648.3 344.8,647.5 344.8,646.8 344.8,646.0 344.7,645.3 344.7,644.5 344.7,643.8 344.7,643.0 344.6,642.3 344.6,641.5 344.6,640.8 344.6,640.0 344.5,639.2 344.5,638.5 344.5,637.7 344.5,637.0 344.5,636.2 344.5,635.5 344.5,634.7 344.5,634.0 344.5,633.2 344.5,632.5 344.5,631.7 344.5,631.0 344.5,630.2 344.5,629.5 344.5,628.7 344.5,628.0 344.5,627.2 344.5,626.5 344.5,625.7 344.5,625.0 344.5,624.2 344.5,623.5 344.5,622.7 344.6,622.0 344.6,621.2 344.6,620.5 344.6,619.7 344.6,618.9 344.6,618.2 344.7,617.4 344.7,616.7 344.7,615.9 344.7,615.2 344.7,614.4 344.7,613.7 344.7,612.9 344.7,612.2 344.8,611.4 344.8,610.7 344.8,609.9 344.8,609.2 344.8,608.4 344.8,607.7 344.8,606.9 344.8,606.2 344.9,605.4 344.9,604.7 344.9,603.9 344.9,603.2 344.9,602.4 344.9,601.7 344.9,600.9 344.9,600.2 345.0,599.4 345.0,598.7 345.0,597.9 345.0,597.1 345.0,596.4 345.0,595.6 345.0,594.9 345.0,594.1 345.1,593.4 345.1,592.6 345.1,591.9 345.1,591.1 345.1,590.4 345.1,589.6 345.1,588.9 345.1,588.1 345.1,587.4 345.2,586.6 345.2,585.9 345.2,585.1 345.2,584.4 345.2,583.6 345.2,582.9 345.2,582.1 345.2,581.4 345.3,580.6 345.3,579.9 345.3,579.1 345.3,578.4 345.3,577.6 345.3,576.9 345.3,576.1 345.3,575.3 345.4,574.6 345.4,573.8 345.4,573.1 345.4,572.3 345.4,571.6 345.4,570.8 345.4,570.1 345.4,569.3 345.5,568.6 345.5,567.8 345.5,567.1 345.5,566.3 345.5,565.6 345.5,564.8 345.5,564.1 345.5,563.3 345.5,562.6 345.6,561.8 345.6,561.1 345.6,560.3 345.6,559.6 345.6,558.8 345.6,558.1 345.6,557.3 345.6,556.6 345.7,555.8 345.7,555.0 345.7,554.3 345.7,553.5 345.7,552.8 345.7,552.0 345.7,551.3 345.7,550.5 345.7,549.8 345.8,549.0 345.8,548.3 345.8,547.5 345.8,546.8 345.8,546.0 345.8,545.3 345.8,544.5 345.8,543.8 345.8,543.0 345.8,542.3 345.8,541.5 345.8,540.8 345.8,540.0 345.8,539.3 345.8,538.5 345.8,537.8 345.8,537.0 345.8,536.3 345.8,535.5 345.8,534.8 345.8,534.0 345.8,533.2 345.8,532.5 345.8,531.7 345.8,531.0 345.8,530.2 345.8,529.5 345.8,528.7 345.8,528.0 345.8,527.2 345.8,526.5 345.7,525.7 345.7,525.0 345.7,524.2 345.7,523.5 345.6,522.7 345.6,522.0 345.6,521.2 345.5,520.5 345.5,519.7 345.4,519.0 345.4,518.2 345.3,517.5 345.3,516.7 345.3,516.0 345.2,515.2 345.2,514.5 345.1,513.7 345.0,513.0 345.0,512.2 344.9,511.4 344.9,510.7 344.8,509.9 344.7,509.2 344.7,508.4 344.6,507.7 344.5,506.9 344.5,506.2 344.4,505.4 344.3,504.7 344.2,503.9 344.1,503.2 344.0,502.4 344.0,501.7 343.9,500.9 343.8,500.2 343.7,499.4 343.6,498.7 343.5,497.9 343.3,497.2 343.2,496.4 343.1,495.7 343.0,494.9 342.9,494.2 342.8,493.4 342.7,492.7 342.6,491.9 342.5,491.1 342.4,490.4 342.3,489.6 342.2,488.9 342.1,488.1 341.9,487.4 341.8,486.6 341.7,485.9 341.6,485.1 341.5,484.4 341.4,483.6 341.3,482.9 341.2,482.1 341.1,481.4 341.0,480.6 340.8,479.9 340.7,479.1 340.6,478.4 340.5,477.6 340.4,476.9 340.3,476.1 340.2,475.4 340.1,474.6 339.9,473.9 339.8,473.1 339.7,472.4 339.6,471.6 339.5,470.9 339.4,470.1 339.3,469.3 339.1,468.6 339.0,467.8 338.9,467.1 338.8,466.3 338.7,465.6 338.6,464.8 338.5,464.1 338.4,463.3 338.3,462.6 338.2,461.8 338.1,461.1 338.0,460.3 337.8,459.6 337.7,458.8 337.6,458.1 337.5,457.3 337.4,456.6 337.3,455.8 337.2,455.1 337.0,454.3 336.9,453.6 336.8,452.8 336.7,452.1 336.5,451.3 336.4,450.6 336.3,449.8 336.2,449.1 336.0,448.3 335.9,447.5 335.8,446.8 335.6,446.0 335.5,445.3 335.3,444.5 335.2,443.8 335.1,443.0 334.9,442.3 334.8,441.5 334.7,440.8 334.5,440.0 334.4,439.3 334.3,438.5 334.1,437.8 334.0,437.0 333.8,436.3 333.7,435.5 333.6,434.8 333.4,434.0 333.3,433.3 333.1,432.5 333.0,431.8 332.9,431.0 332.7,430.3 332.6,429.5 332.4,428.8 332.3,428.0 332.1,427.2 332.0,426.5 331.8,425.7 331.6,425.0 331.5,424.2 331.3,423.5 331.2,422.7 331.0,422.0 330.8,421.2 330.7,420.5 330.5,419.7 330.3,419.0 330.2,418.2 330.0,417.5 329.8,416.7 329.6,416.0 329.5,415.2 329.3,414.5 329.1,413.7 328.9,413.0 328.8,412.2 328.6,411.5 328.4,410.7 328.2,410.0 328.0,409.2 327.9,408.5 327.7,407.7 327.5,407.0 327.3,406.2 327.1,405.4 326.9,404.7 326.7,403.9 326.5,403.2 326.4,402.4 326.2,401.7 326.0,400.9 325.8,400.2 325.6,399.4 325.4,398.7 325.2,397.9 325.0,397.2 324.8,396.4 324.6,395.7 324.4,394.9 324.2,394.2 323.9,393.4 323.7,392.7 323.5,391.9 323.2,391.2 323.0,390.4 322.8,389.7 322.5,388.9 322.2,388.2 322.0,387.4 321.7,386.7 321.4,385.9 321.2,385.1 320.9,384.4 320.6,383.6 320.4,382.9 320.1,382.1 319.8,381.4 319.6,380.6 319.3,379.9 319.0,379.1 318.7,378.4 318.5,377.6 318.2,376.9 317.9,376.1 317.6,375.4 317.4,374.6 317.1,373.9 316.8,373.1 316.6,372.4 316.3,371.6 316.0,370.9 315.7,370.1 315.5,369.4 315.2,368.6 314.9,367.9 314.6,367.1 314.4,366.4 314.1,365.6 313.8,364.9 313.6,364.1 313.3,363.3 313.0,362.6 312.8,361.8 312.5,361.1 312.3,360.3 312.0,359.6 311.8,358.8 311.6,358.1 311.3,357.3 311.1,356.6 310.9,355.8 310.7,355.1 310.5,354.3 310.3,353.6 310.1,352.8 309.9,352.1 309.7,351.3 309.5,350.6 309.3,349.8 309.2,349.1 309.0,348.3 308.8,347.6 308.7,346.8 308.5,346.1 308.4,345.3 308.2,344.6 308.1,343.8 307.9,343.1 307.8,342.3 307.7,341.5 307.5,340.8 307.4,340.0 307.3,339.3 307.2,338.5 307.1,337.8 307.0,337.0 306.9,336.3 306.8,335.5 306.7,334.8 306.7,334.0 306.6,333.3 306.6,332.5 306.5,331.8 306.5,331.0 306.5,330.3 306.4,329.5 306.4,328.8 306.4,328.0 306.3,327.3 306.3,326.5 306.3,325.8 306.3,325.0 306.3,324.3 306.3,323.5 306.2,322.8 306.3,322.0 306.3,321.2 306.3,320.5 306.3,319.7 306.3,319.0 306.4,318.2 306.4,317.5 306.5,316.7 306.5,316.0 306.6,315.2 306.7,314.5 306.8,313.7 306.9,313.0 306.9,312.2 307.0,311.5 307.1,310.7 307.2,310.0 307.3,309.2 307.5,308.5 307.6,307.7 307.7,307.0 307.8,306.2 307.9,305.5 308.1,304.7 308.2,304.0 308.4,303.2 308.5,302.5 308.7,301.7 308.8,301.0 309.0,300.2 309.2,299.4 309.3,298.7 309.5,297.9 309.7,297.2 309.9,296.4 310.0,295.7 310.2,294.9 310.4,294.2 310.6,293.4 310.8,292.7 311.0,291.9 311.2,291.2 311.4,290.4 311.6,289.7 311.8,288.9 312.0,288.2 312.2,287.4 312.4,286.7 312.6,285.9 312.8,285.2 313.0,284.4 313.2,283.7 313.4,282.9 313.6,282.2 313.8,281.4 314.1,280.7 314.3,279.9 314.5,279.2 314.7,278.4 314.9,277.6 315.1,276.9 315.3,276.1 315.5,275.4 315.7,274.6 315.9,273.9 316.1,273.1 316.3,272.4 316.4,271.6 316.6,270.9 316.8,270.1 316.9,269.4 317.1,268.6 317.2,267.9 317.4,267.1 317.5,266.4 317.6,265.6 317.8,264.9 317.9,264.1 318.0,263.4 318.1,262.6 318.2,261.9 318.4,261.1 318.5,260.4 318.6,259.6 318.7,258.9 318.8,258.1 318.9,257.3 319.0,256.6 319.1,255.8 319.2,255.1 319.3,254.3 319.4,253.6 319.5,252.8 319.6,252.1 319.6,251.3 319.7,250.6 319.8,249.8 319.9,249.1 320.0,248.3 320.1,247.6 320.2,246.8 320.2,246.1 320.3,245.3 320.4,244.6 320.5,243.8 320.5,243.1 320.6,242.3 320.7,241.6 320.8,240.8 320.8,240.1 320.9,239.3 321.0,238.6 321.1,237.8 321.1,237.1 321.2,236.3 321.3,235.5 321.4,234.8 321.5,234.0 321.5,233.3 321.6,232.5 321.7,231.8 321.8,231.0 321.9,230.3 322.0,229.5 322.0,228.8 322.1,228.0 322.2,227.3 322.3,226.5 322.4,225.8 322.5,225.0 322.6,224.3 322.7,223.5 322.8,222.8 322.9,222.0 323.0,221.3 323.1,220.5 323.2,219.8 323.3,219.0 323.4,218.3 323.5,217.5 323.6,216.8 323.7,216.0 323.8,215.3 323.9,214.5 324.0,213.7 324.1,213.0 324.3,212.2 324.4,211.5 324.5,210.7 324.6,210.0 324.8,209.2 324.9,208.5 325.0,207.7 325.2,207.0 325.3,206.2 325.4,205.5 325.6,204.7 325.7,204.0 325.9,203.2 326.0,202.5 326.2,201.7 326.3,201.0 326.5,200.2 326.6,199.5 326.8,198.7 327.0,198.0 327.1,197.2 327.3,196.5 327.4,195.7 327.6,195.0 327.8,194.2 327.9,193.4 328.1,192.7 328.3,191.9 328.4,191.2 328.6,190.4 328.8,189.7 328.9,188.9 329.1,188.2 329.2,187.4 329.4,186.7 329.6,185.9 329.8,185.2 329.9,184.4 330.1,183.7 330.3,182.9 330.4,182.2 330.6,181.4 330.8,180.7 331.0,179.9 331.2,179.2 331.3,178.4 331.5,177.7 331.7,176.9 331.9,176.2 332.1,175.4 332.2,174.7 332.4,173.9 332.6,173.2 332.8,172.4 333.0,171.6 333.1,170.9 333.3,170.1 333.5,169.4 333.7,168.6 333.8,167.9 334.0,167.1 334.2,166.4 334.3,165.6 334.5,164.9 334.7,164.1 334.8,163.4 335.0,162.6 335.1,161.9 335.3,161.1 335.5,160.4 335.6,159.6 335.8,158.9 335.9,158.1 336.1,157.4 336.2,156.6 336.4,155.9 336.5,155.1 336.7,154.4 336.8,153.6 337.0,152.9 337.1,152.1 337.3,151.4 337.4,150.6 337.6,149.8 337.7,149.1 337.9,148.3 338.0,147.6 338.1,146.8 338.3,146.1 338.4,145.3 338.5,144.6 338.7,143.8 338.8,143.1 338.9,142.3 339.0,141.6 339.1,140.8 339.3,140.1 339.4,139.3 339.5,138.6 339.6,137.8 339.7,137.1 339.8,136.3 339.9,135.6 340.0,134.8 340.1,134.1 340.1,133.3 340.2,132.6 340.3,131.8 340.4,131.1 340.5,130.3 340.6,129.5 340.7,128.8 340.8,128.0 340.9,127.3 340.9,126.5 341.0,125.8 341.1,125.0 341.2,124.3 341.2,123.5 341.3,122.8 341.4,122.0 341.5,121.3 341.5,120.5 341.6,119.8 341.7,119.0 341.7,118.3 341.8,117.5 341.9,116.8 341.9,116.0 342.0,115.3 342.0,114.5 342.1,113.8 342.1,113.0 342.2,112.3 342.2,111.5 342.3,110.8 342.3,110.0 342.4,109.3 342.4,108.5Z"/>
<path fill="#A6DDEA" d="M476.5,993.2 476.5,993.4 476.5,993.5 476.5,993.7 476.5,993.8 476.5,994.0 476.5,994.1 476.5,994.3 476.5,994.4 476.6,994.6 476.6,994.7 476.6,994.9 476.6,995.0 476.6,995.2 476.7,995.3 476.7,995.5 476.7,995.6 476.8,995.8 476.8,995.9 476.8,996.1 476.8,996.2 476.9,996.4 476.9,996.5 477.0,996.7 477.0,996.8 477.1,997.0 477.1,997.1 477.2,997.3 477.3,997.4 477.4,997.6 477.4,997.7 477.5,997.9 477.6,998.0 477.7,998.2 477.8,998.3 478.0,998.5 478.1,998.6 478.2,998.8 478.4,998.9 478.5,999.1 478.7,999.2 478.9,999.4 479.2,999.5 479.4,999.7 479.6,999.8 479.9,1000.0 480.2,1000.1 480.4,1000.3 480.7,1000.4 481.0,1000.6 481.3,1000.7 481.6,1000.9 481.9,1001.0 482.3,1001.2 482.6,1001.3 482.9,1001.5 483.2,1001.6 483.5,1001.8 483.8,1001.9 484.0,1002.1 484.3,1002.3 484.6,1002.4 484.9,1002.6 485.2,1002.7 485.4,1002.9 485.7,1003.0 486.0,1003.2 486.2,1003.3 486.5,1003.5 486.8,1003.6 487.1,1003.8 487.4,1003.9 487.7,1004.1 488.0,1004.2 488.3,1004.4 488.7,1004.5 489.0,1004.7 489.4,1004.8 489.7,1005.0 490.1,1005.1 490.5,1005.3 490.9,1005.4 491.4,1005.6 491.8,1005.7 492.3,1005.9 492.8,1006.0 493.3,1006.2 493.8,1006.3 494.3,1006.5 494.8,1006.6 495.3,1006.8 495.9,1006.9 496.4,1007.1 497.0,1007.2 497.6,1007.4 498.2,1007.5 498.8,1007.7 499.5,1007.8 500.2,1008.0 500.9,1008.1 501.6,1008.3 502.4,1008.4 503.2,1008.6 504.1,1008.7 504.9,1008.9 505.8,1009.0 506.6,1009.2 507.5,1009.3 508.4,1009.5 509.3,1009.6 510.1,1009.8 510.9,1009.9 511.7,1010.1 512.5,1010.2 513.2,1010.4 513.9,1010.5 514.5,1010.7 515.1,1010.9 515.6,1011.0 516.0,1011.2 516.4,1011.3 516.7,1011.5 517.0,1011.6 517.1,1011.8 517.2,1011.9 517.2,1012.1 517.2,1012.2 517.2,1012.4 517.1,1012.5 516.9,1012.7 516.7,1012.8 516.5,1013.0 516.3,1013.1 516.1,1013.3 515.8,1013.4 515.5,1013.6 515.2,1013.7 514.9,1013.9 514.5,1014.0 514.2,1014.2 513.8,1014.3 513.5,1014.5 513.1,1014.6 512.7,1014.8 512.3,1014.9 511.9,1015.1 511.5,1015.2 511.0,1015.4 510.5,1015.5 509.9,1015.7 509.4,1015.8 508.8,1016.0 508.2,1016.1 507.6,1016.3 507.1,1016.4 506.7,1016.6 506.3,1016.7 506.0,1016.9 505.7,1017.0 505.5,1017.2 505.4,1017.3 505.3,1017.5 505.3,1017.6 505.2,1017.8 505.2,1017.9 505.1,1018.1 505.1,1018.2 505.1,1018.4 505.1,1018.5 505.0,1018.7 505.0,1018.8 505.0,1019.0 505.0,1019.1 505.0,1019.3 504.9,1019.4 504.9,1019.6 504.9,1019.8 504.8,1019.9 504.7,1020.1 504.7,1020.2 504.6,1020.4 504.4,1020.5 504.3,1020.7 504.1,1020.8 503.8,1021.0 503.5,1021.1 503.2,1021.3 502.9,1021.4 502.5,1021.6 502.1,1021.7 501.6,1021.9 501.2,1022.0 500.8,1022.2 500.3,1022.3 499.9,1022.5 499.4,1022.6 498.9,1022.8 498.4,1022.9 497.9,1023.1 497.4,1023.2 496.9,1023.4 496.3,1023.5 495.8,1023.7 495.3,1023.8 494.7,1024.0 494.2,1024.1 493.6,1024.3 493.1,1024.4 492.5,1024.6 492.0,1024.7 491.4,1024.9 490.9,1025.0 490.3,1025.2 489.7,1025.3 489.2,1025.5 488.6,1025.6 488.1,1025.8 487.5,1025.9 486.9,1026.1 486.4,1026.2 485.8,1026.4 485.2,1026.5 484.7,1026.7 484.1,1026.8 483.6,1027.0 483.0,1027.1 482.5,1027.3 482.0,1027.4 481.4,1027.6 480.9,1027.7 480.4,1027.9 479.9,1028.0 479.4,1028.2 478.9,1028.3 478.4,1028.5 471.7,1028.5 471.2,1028.3 470.7,1028.2 470.2,1028.0 469.7,1027.9 469.2,1027.7 468.7,1027.6 468.1,1027.4 467.6,1027.3 467.1,1027.1 466.5,1027.0 466.0,1026.8 465.4,1026.7 464.9,1026.5 464.3,1026.4 463.7,1026.2 463.2,1026.1 462.6,1025.9 462.0,1025.8 461.5,1025.6 460.9,1025.5 460.4,1025.3 459.8,1025.2 459.2,1025.0 458.7,1024.9 458.1,1024.7 457.6,1024.6 457.0,1024.4 456.5,1024.3 455.9,1024.1 455.4,1024.0 454.8,1023.8 454.3,1023.7 453.8,1023.5 453.2,1023.4 452.7,1023.2 452.2,1023.1 451.7,1022.9 451.2,1022.8 450.7,1022.6 450.2,1022.5 449.8,1022.3 449.3,1022.2 448.9,1022.0 448.5,1021.9 448.0,1021.7 447.6,1021.6 447.2,1021.4 446.9,1021.3 446.6,1021.1 446.3,1021.0 446.0,1020.8 445.8,1020.7 445.7,1020.5 445.5,1020.4 445.4,1020.2 445.4,1020.1 445.3,1019.9 445.2,1019.8 445.2,1019.6 445.2,1019.4 445.1,1019.3 445.1,1019.1 445.1,1019.0 445.1,1018.8 445.1,1018.7 445.0,1018.5 445.0,1018.4 445.0,1018.2 445.0,1018.1 444.9,1017.9 444.9,1017.8 444.8,1017.6 444.8,1017.5 444.7,1017.3 444.6,1017.2 444.4,1017.0 444.1,1016.9 443.8,1016.7 443.4,1016.6 443.0,1016.4 442.5,1016.3 441.9,1016.1 441.3,1016.0 440.7,1015.8 440.2,1015.7 439.6,1015.5 439.1,1015.4 438.6,1015.2 438.2,1015.1 437.8,1014.9 437.4,1014.8 437.0,1014.6 436.6,1014.5 436.3,1014.3 435.9,1014.2 435.6,1014.0 435.2,1013.9 434.9,1013.7 434.6,1013.6 434.3,1013.4 434.0,1013.3 433.8,1013.1 433.6,1013.0 433.4,1012.8 433.2,1012.7 433.0,1012.5 432.9,1012.4 432.9,1012.2 432.8,1012.1 432.9,1011.9 433.0,1011.8 433.1,1011.6 433.4,1011.5 433.7,1011.3 434.1,1011.2 434.5,1011.0 435.0,1010.9 435.6,1010.7 436.2,1010.5 436.9,1010.4 437.6,1010.2 438.4,1010.1 439.2,1009.9 440.0,1009.8 440.8,1009.6 441.7,1009.5 442.6,1009.3 443.5,1009.2 444.3,1009.0 445.2,1008.9 446.0,1008.7 446.9,1008.6 447.7,1008.4 448.5,1008.3 449.2,1008.1 449.9,1008.0 450.6,1007.8 451.3,1007.7 451.9,1007.5 452.5,1007.4 453.1,1007.2 453.7,1007.1 454.2,1006.9 454.8,1006.8 455.3,1006.6 455.8,1006.5 456.3,1006.3 456.8,1006.2 457.3,1006.0 457.8,1005.9 458.3,1005.7 458.7,1005.6 459.2,1005.4 459.6,1005.3 460.0,1005.1 460.4,1005.0 460.7,1004.8 461.1,1004.7 461.4,1004.5 461.8,1004.4 462.1,1004.2 462.4,1004.1 462.7,1003.9 463.0,1003.8 463.3,1003.6 463.6,1003.5 463.9,1003.3 464.1,1003.2 464.4,1003.0 464.7,1002.9 464.9,1002.7 465.2,1002.6 465.5,1002.4 465.8,1002.3 466.1,1002.1 466.3,1001.9 466.6,1001.8 466.9,1001.6 467.2,1001.5 467.5,1001.3 467.8,1001.2 468.2,1001.0 468.5,1000.9 468.8,1000.7 469.1,1000.6 469.4,1000.4 469.7,1000.3 469.9,1000.1 470.2,1000.0 470.5,999.8 470.7,999.7 470.9,999.5 471.2,999.4 471.4,999.2 471.6,999.1 471.7,998.9 471.9,998.8 472.0,998.6 472.1,998.5 472.3,998.3 472.4,998.2 472.5,998.0 472.6,997.9 472.7,997.7 472.7,997.6 472.8,997.4 472.9,997.3 473.0,997.1 473.0,997.0 473.1,996.8 473.1,996.7 473.2,996.5 473.2,996.4 473.3,996.2 473.3,996.1 473.3,995.9 473.3,995.8 473.4,995.6 473.4,995.5 473.4,995.3 473.5,995.2 473.5,995.0 473.5,994.9 473.5,994.7 473.5,994.6 473.6,994.4 473.6,994.3 473.6,994.1 473.6,994.0 473.6,993.8 473.6,993.7 473.6,993.5 473.6,993.4 473.6,993.2Z"/>
<path fill="#F3A59A" d="M561.6,999.0 561.8,999.2 562.1,999.3 562.3,999.5 562.6,999.6 562.9,999.8 563.2,999.9 563.6,1000.1 564.0,1000.2 564.4,1000.4 564.8,1000.5 565.2,1000.7 565.7,1000.8 566.2,1001.0 566.7,1001.1 567.2,1001.3 567.7,1001.4 568.3,1001.6 568.8,1001.7 569.4,1001.9 570.0,1002.0 570.6,1002.2 571.3,1002.3 572.0,1002.5 572.7,1002.6 573.4,1002.8 574.3,1003.0 575.1,1003.1 576.0,1003.3 576.9,1003.4 577.9,1003.6 578.9,1003.7 579.9,1003.9 580.9,1004.0 581.8,1004.2 582.8,1004.3 583.8,1004.5 584.7,1004.6 585.6,1004.8 586.5,1004.9 587.4,1005.1 588.3,1005.2 589.2,1005.4 590.1,1005.5 591.0,1005.7 591.9,1005.8 592.8,1006.0 593.7,1006.1 594.6,1006.3 595.5,1006.4 596.4,1006.6 597.2,1006.8 598.0,1006.9 598.7,1007.1 599.3,1007.2 599.9,1007.4 600.5,1007.5 600.9,1007.7 601.3,1007.8 601.5,1008.0 601.7,1008.1 601.8,1008.3 601.7,1008.4 601.5,1008.6 601.3,1008.7 600.9,1008.9 600.4,1009.0 599.9,1009.2 599.2,1009.3 598.5,1009.5 597.8,1009.6 597.0,1009.8 596.1,1009.9 595.2,1010.1 594.3,1010.2 593.4,1010.4 592.5,1010.6 591.5,1010.7 590.6,1010.9 589.8,1011.0 588.9,1011.2 588.1,1011.3 587.3,1011.5 586.5,1011.6 585.8,1011.8 585.0,1011.9 584.3,1012.1 583.5,1012.2 582.8,1012.4 582.0,1012.5 581.3,1012.7 580.6,1012.8 579.8,1013.0 579.1,1013.1 578.4,1013.3 577.7,1013.4 577.0,1013.6 576.3,1013.7 575.6,1013.9 574.9,1014.0 574.2,1014.2 573.6,1014.4 573.0,1014.5 572.4,1014.7 571.8,1014.8 571.2,1015.0 570.6,1015.1 570.0,1015.3 569.5,1015.4 569.0,1015.6 568.4,1015.7 567.9,1015.9 567.4,1016.0 566.9,1016.2 566.4,1016.3 565.9,1016.5 565.4,1016.6 565.0,1016.8 564.5,1016.9 564.1,1017.1 563.6,1017.2 563.2,1017.4 562.8,1017.5 562.4,1017.7 562.0,1017.8 561.6,1018.0 557.5,1018.0 557.1,1017.8 556.7,1017.7 556.3,1017.5 555.9,1017.4 555.5,1017.2 555.0,1017.1 554.6,1016.9 554.1,1016.8 553.7,1016.6 553.2,1016.5 552.7,1016.3 552.2,1016.2 551.7,1016.0 551.2,1015.9 550.7,1015.7 550.1,1015.6 549.6,1015.4 549.1,1015.3 548.5,1015.1 547.9,1015.0 547.3,1014.8 546.7,1014.7 546.1,1014.5 545.5,1014.4 544.9,1014.2 544.2,1014.0 543.5,1013.9 542.8,1013.7 542.1,1013.6 541.4,1013.4 540.7,1013.3 540.0,1013.1 539.3,1013.0 538.5,1012.8 537.8,1012.7 537.1,1012.5 536.3,1012.4 535.6,1012.2 534.8,1012.1 534.1,1011.9 533.3,1011.8 532.6,1011.6 531.8,1011.5 531.0,1011.3 530.2,1011.2 529.3,1011.0 528.5,1010.9 527.6,1010.7 526.6,1010.6 525.7,1010.4 524.8,1010.2 523.9,1010.1 523.0,1009.9 522.1,1009.8 521.3,1009.6 520.6,1009.5 519.9,1009.3 519.2,1009.2 518.7,1009.0 518.2,1008.9 517.8,1008.7 517.6,1008.6 517.4,1008.4 517.3,1008.3 517.4,1008.1 517.6,1008.0 517.8,1007.8 518.2,1007.7 518.6,1007.5 519.2,1007.4 519.8,1007.2 520.4,1007.1 521.1,1006.9 521.9,1006.8 522.7,1006.6 523.6,1006.4 524.5,1006.3 525.4,1006.1 526.3,1006.0 527.2,1005.8 528.1,1005.7 529.0,1005.5 529.9,1005.4 530.8,1005.2 531.7,1005.1 532.6,1004.9 533.5,1004.8 534.4,1004.6 535.3,1004.5 536.3,1004.3 537.3,1004.2 538.2,1004.0 539.2,1003.9 540.2,1003.7 541.2,1003.6 542.2,1003.4 543.1,1003.3 544.0,1003.1 544.8,1003.0 545.7,1002.8 546.4,1002.6 547.1,1002.5 547.8,1002.3 548.5,1002.2 549.1,1002.0 549.7,1001.9 550.3,1001.7 550.8,1001.6 551.4,1001.4 551.9,1001.3 552.4,1001.1 552.9,1001.0 553.4,1000.8 553.9,1000.7 554.3,1000.5 554.7,1000.4 555.1,1000.2 555.5,1000.1 555.9,999.9 556.2,999.8 556.5,999.6 556.8,999.5 557.0,999.3 557.3,999.2 557.5,999.0Z"/>
<path fill="#A6DDEA" d="M687.9,988.0 687.9,988.2 687.9,988.3 687.9,988.5 687.9,988.6 687.8,988.8 687.8,988.9 687.8,989.1 687.8,989.2 687.8,989.4 687.8,989.5 687.8,989.7 687.8,989.8 687.8,990.0 687.8,990.1 687.8,990.3 687.8,990.4 687.8,990.6 687.8,990.7 687.8,990.9 687.8,991.0 687.8,991.2 687.8,991.3 687.8,991.5 687.8,991.6 687.8,991.8 687.8,991.9 687.8,992.1 687.8,992.2 687.8,992.4 687.8,992.5 687.8,992.7 687.8,992.8 687.9,993.0 687.9,993.1 688.0,993.3 688.0,993.4 688.1,993.6 688.2,993.7 688.4,993.9 688.5,994.0 688.7,994.2 688.8,994.3 689.0,994.5 689.2,994.6 689.4,994.8 689.5,994.9 689.7,995.1 689.9,995.2 690.2,995.4 690.4,995.5 690.6,995.7 690.9,995.8 691.1,996.0 691.4,996.1 691.7,996.3 692.0,996.4 692.3,996.6 692.5,996.7 692.8,996.9 693.1,997.1 693.3,997.2 693.6,997.4 693.7,997.5 693.9,997.7 694.0,997.8 694.1,998.0 694.2,998.1 694.3,998.3 694.3,998.4 694.4,998.6 694.4,998.7 694.4,998.9 694.4,999.0 694.4,999.2 694.4,999.3 694.4,999.5 694.4,999.6 694.5,999.8 694.5,999.9 694.5,1000.1 694.5,1000.2 694.5,1000.4 694.5,1000.5 694.5,1000.7 694.6,1000.8 694.6,1001.0 694.6,1001.1 694.7,1001.3 694.7,1001.4 694.7,1001.6 694.8,1001.7 694.8,1001.9 694.9,1002.0 694.9,1002.2 695.0,1002.3 695.0,1002.5 695.1,1002.6 695.2,1002.8 695.2,1002.9 695.3,1003.1 695.4,1003.2 695.4,1003.4 695.5,1003.5 695.6,1003.7 695.7,1003.8 695.8,1004.0 695.9,1004.1 696.0,1004.3 696.1,1004.4 696.2,1004.6 696.3,1004.7 696.4,1004.9 696.6,1005.0 696.7,1005.2 696.8,1005.3 697.0,1005.5 697.2,1005.6 697.3,1005.8 697.5,1006.0 697.7,1006.1 697.9,1006.3 698.1,1006.4 698.4,1006.6 698.7,1006.7 699.0,1006.9 699.4,1007.0 699.7,1007.2 700.2,1007.3 700.7,1007.5 701.2,1007.6 701.7,1007.8 702.3,1007.9 702.9,1008.1 703.6,1008.2 704.2,1008.4 704.9,1008.5 705.6,1008.7 706.3,1008.8 707.0,1009.0 707.7,1009.1 708.4,1009.3 709.1,1009.4 709.8,1009.6 710.4,1009.7 711.1,1009.9 711.9,1010.0 712.6,1010.2 713.3,1010.3 714.1,1010.5 714.9,1010.6 715.7,1010.8 716.5,1010.9 717.3,1011.1 718.2,1011.2 719.0,1011.4 719.9,1011.5 720.7,1011.7 721.6,1011.8 722.4,1012.0 723.2,1012.1 723.9,1012.3 724.6,1012.4 725.3,1012.6 725.9,1012.7 726.5,1012.9 727.0,1013.0 727.4,1013.2 727.8,1013.3 728.1,1013.5 728.3,1013.6 728.3,1013.8 728.4,1013.9 728.3,1014.1 728.1,1014.2 727.8,1014.4 727.4,1014.6 727.0,1014.7 726.4,1014.9 725.8,1015.0 725.2,1015.2 724.5,1015.3 723.7,1015.5 722.9,1015.6 722.1,1015.8 721.2,1015.9 720.4,1016.1 719.5,1016.2 718.7,1016.4 717.8,1016.5 717.0,1016.7 716.2,1016.8 715.5,1017.0 714.8,1017.1 714.1,1017.3 713.5,1017.4 712.9,1017.6 712.4,1017.7 711.9,1017.9 711.5,1018.0 711.1,1018.2 710.7,1018.3 710.3,1018.5 710.0,1018.6 709.6,1018.8 709.3,1018.9 709.0,1019.1 708.7,1019.2 708.4,1019.4 708.2,1019.5 707.9,1019.7 707.6,1019.8 707.4,1020.0 707.1,1020.1 706.9,1020.3 706.7,1020.4 706.4,1020.6 706.2,1020.7 706.0,1020.9 705.8,1021.0 705.6,1021.2 705.4,1021.3 705.3,1021.5 705.1,1021.6 704.9,1021.8 704.8,1021.9 704.6,1022.1 704.5,1022.2 704.4,1022.4 704.2,1022.5 704.1,1022.7 704.0,1022.8 703.9,1023.0 703.7,1023.1 703.6,1023.3 703.5,1023.5 703.3,1023.6 703.2,1023.8 703.0,1023.9 702.8,1024.1 702.6,1024.2 702.4,1024.4 702.2,1024.5 701.9,1024.7 701.6,1024.8 701.2,1025.0 700.9,1025.1 700.5,1025.3 700.0,1025.4 699.6,1025.6 699.1,1025.7 698.6,1025.9 698.1,1026.0 697.6,1026.2 697.1,1026.3 696.6,1026.5 696.1,1026.6 695.6,1026.8 695.2,1026.9 694.7,1027.1 694.3,1027.2 693.9,1027.4 693.5,1027.5 693.1,1027.7 692.7,1027.8 692.3,1028.0 691.9,1028.1 691.6,1028.3 691.2,1028.4 690.9,1028.6 690.6,1028.7 690.3,1028.9 690.0,1029.0 689.8,1029.2 689.6,1029.3 689.5,1029.5 689.4,1029.6 689.3,1029.8 689.2,1029.9 689.2,1030.1 689.1,1030.2 689.1,1030.4 689.1,1030.5 689.1,1030.7 689.1,1030.8 689.1,1031.0 689.1,1031.1 689.1,1031.3 689.1,1031.4 689.1,1031.6 689.1,1031.7 689.1,1031.9 689.1,1032.0 689.1,1032.2 683.2,1032.2 683.2,1032.0 683.2,1031.9 683.2,1031.7 683.2,1031.6 683.2,1031.4 683.2,1031.3 683.2,1031.1 683.2,1031.0 683.2,1030.8 683.2,1030.7 683.2,1030.5 683.2,1030.4 683.2,1030.2 683.1,1030.1 683.1,1029.9 683.0,1029.8 682.9,1029.6 682.8,1029.5 682.7,1029.3 682.5,1029.2 682.3,1029.0 682.0,1028.9 681.7,1028.7 681.4,1028.6 681.1,1028.4 680.7,1028.3 680.4,1028.1 680.0,1028.0 679.6,1027.8 679.2,1027.7 678.8,1027.5 678.4,1027.4 678.0,1027.2 677.6,1027.1 677.1,1026.9 676.7,1026.8 676.2,1026.6 675.7,1026.5 675.2,1026.3 674.7,1026.2 674.2,1026.0 673.7,1025.9 673.2,1025.7 672.7,1025.6 672.3,1025.4 671.8,1025.3 671.4,1025.1 671.1,1025.0 670.7,1024.8 670.4,1024.7 670.1,1024.5 669.9,1024.4 669.7,1024.2 669.5,1024.1 669.3,1023.9 669.1,1023.8 669.0,1023.6 668.8,1023.5 668.7,1023.3 668.6,1023.1 668.4,1023.0 668.3,1022.8 668.2,1022.7 668.1,1022.5 667.9,1022.4 667.8,1022.2 667.7,1022.1 667.5,1021.9 667.4,1021.8 667.2,1021.6 667.0,1021.5 666.9,1021.3 666.7,1021.2 666.5,1021.0 666.3,1020.9 666.1,1020.7 665.9,1020.6 665.6,1020.4 665.4,1020.3 665.2,1020.1 664.9,1020.0 664.7,1019.8 664.4,1019.7 664.1,1019.5 663.9,1019.4 663.6,1019.2 663.3,1019.1 663.0,1018.9 662.7,1018.8 662.3,1018.6 662.0,1018.5 661.6,1018.3 661.2,1018.2 660.8,1018.0 660.4,1017.9 659.9,1017.7 659.4,1017.6 658.8,1017.4 658.2,1017.3 657.5,1017.1 656.8,1017.0 656.1,1016.8 655.3,1016.7 654.5,1016.5 653.6,1016.4 652.8,1016.2 651.9,1016.1 651.1,1015.9 650.2,1015.8 649.4,1015.6 648.6,1015.5 647.8,1015.3 647.1,1015.2 646.5,1015.0 645.9,1014.9 645.3,1014.7 644.9,1014.6 644.5,1014.4 644.2,1014.2 644.0,1014.1 643.9,1013.9 644.0,1013.8 644.0,1013.6 644.2,1013.5 644.5,1013.3 644.9,1013.2 645.3,1013.0 645.8,1012.9 646.4,1012.7 647.0,1012.6 647.7,1012.4 648.4,1012.3 649.1,1012.1 649.9,1012.0 650.7,1011.8 651.6,1011.7 652.4,1011.5 653.3,1011.4 654.1,1011.2 655.0,1011.1 655.8,1010.9 656.6,1010.8 657.4,1010.6 658.2,1010.5 659.0,1010.3 659.7,1010.2 660.4,1010.0 661.2,1009.9 661.9,1009.7 662.5,1009.6 663.2,1009.4 663.9,1009.3 664.6,1009.1 665.3,1009.0 666.0,1008.8 666.7,1008.7 667.4,1008.5 668.1,1008.4 668.7,1008.2 669.4,1008.1 670.0,1007.9 670.6,1007.8 671.1,1007.6 671.6,1007.5 672.1,1007.3 672.6,1007.2 672.9,1007.0 673.3,1006.9 673.6,1006.7 673.9,1006.6 674.2,1006.4 674.4,1006.3 674.6,1006.1 674.8,1006.0 675.0,1005.8 675.1,1005.6 675.3,1005.5 675.5,1005.3 675.6,1005.2 675.7,1005.0 675.9,1004.9 676.0,1004.7 676.1,1004.6 676.2,1004.4 676.3,1004.3 676.4,1004.1 676.5,1004.0 676.6,1003.8 676.7,1003.7 676.8,1003.5 676.9,1003.4 676.9,1003.2 677.0,1003.1 677.1,1002.9 677.1,1002.8 677.2,1002.6 677.3,1002.5 677.3,1002.3 677.4,1002.2 677.4,1002.0 677.5,1001.9 677.5,1001.7 677.6,1001.6 677.6,1001.4 677.6,1001.3 677.7,1001.1 677.7,1001.0 677.7,1000.8 677.8,1000.7 677.8,1000.5 677.8,1000.4 677.8,1000.2 677.8,1000.1 677.8,999.9 677.8,999.8 677.9,999.6 677.9,999.5 677.9,999.3 677.9,999.2 677.9,999.0 677.9,998.9 677.9,998.7 677.9,998.6 678.0,998.4 678.0,998.3 678.1,998.1 678.2,998.0 678.3,997.8 678.4,997.7 678.6,997.5 678.7,997.4 679.0,997.2 679.2,997.1 679.5,996.9 679.8,996.7 680.0,996.6 680.3,996.4 680.6,996.3 680.9,996.1 681.2,996.0 681.4,995.8 681.7,995.7 681.9,995.5 682.1,995.4 682.4,995.2 682.6,995.1 682.8,994.9 682.9,994.8 683.1,994.6 683.3,994.5 683.5,994.3 683.6,994.2 683.8,994.0 683.9,993.9 684.1,993.7 684.2,993.6 684.3,993.4 684.3,993.3 684.4,993.1 684.4,993.0 684.5,992.8 684.5,992.7 684.5,992.5 684.5,992.4 684.5,992.2 684.5,992.1 684.5,991.9 684.5,991.8 684.5,991.6 684.5,991.5 684.5,991.3 684.5,991.2 684.5,991.0 684.5,990.9 684.5,990.7 684.5,990.6 684.5,990.4 684.5,990.3 684.5,990.1 684.5,990.0 684.5,989.8 684.5,989.7 684.5,989.5 684.5,989.4 684.5,989.2 684.5,989.1 684.5,988.9 684.5,988.8 684.4,988.6 684.4,988.5 684.4,988.3 684.4,988.2 684.4,988.0Z"/>
<path fill="#F3A59A" d="M772.7,995.0 772.8,995.2 773.0,995.3 773.1,995.5 773.3,995.6 773.5,995.8 773.7,995.9 774.0,996.1 774.2,996.2 774.5,996.4 774.8,996.5 775.2,996.7 775.5,996.8 775.9,997.0 776.3,997.1 776.7,997.3 777.1,997.4 777.5,997.6 777.9,997.7 778.4,997.9 778.9,998.0 779.4,998.2 779.9,998.3 780.5,998.5 781.1,998.6 781.7,998.8 782.4,998.9 783.2,999.1 784.0,999.2 784.8,999.4 785.6,999.5 786.5,999.7 787.3,999.8 788.0,1000.0 788.7,1000.2 789.4,1000.3 789.9,1000.5 790.4,1000.6 790.9,1000.8 791.3,1000.9 791.6,1001.1 791.9,1001.2 792.2,1001.4 792.5,1001.5 792.7,1001.7 792.9,1001.8 793.1,1002.0 793.3,1002.1 793.5,1002.3 793.7,1002.4 793.9,1002.6 794.1,1002.7 794.3,1002.9 794.5,1003.0 794.7,1003.2 794.9,1003.3 795.1,1003.5 795.3,1003.6 795.5,1003.8 795.6,1003.9 795.8,1004.1 796.1,1004.2 796.3,1004.4 796.5,1004.5 796.8,1004.7 797.1,1004.8 797.4,1005.0 797.8,1005.2 798.2,1005.3 798.7,1005.5 799.2,1005.6 799.7,1005.8 800.3,1005.9 800.8,1006.1 801.4,1006.2 802.0,1006.4 802.7,1006.5 803.3,1006.7 803.9,1006.8 804.6,1007.0 805.3,1007.1 806.0,1007.3 806.7,1007.4 807.5,1007.6 808.2,1007.7 809.0,1007.9 809.7,1008.0 810.4,1008.2 811.0,1008.3 811.6,1008.5 812.1,1008.6 812.5,1008.8 812.7,1008.9 812.9,1009.1 812.8,1009.2 812.6,1009.4 812.3,1009.5 811.8,1009.7 811.2,1009.8 810.5,1010.0 809.7,1010.2 808.7,1010.3 807.8,1010.5 806.7,1010.6 805.7,1010.8 804.7,1010.9 803.6,1011.1 802.6,1011.2 801.7,1011.4 800.8,1011.5 800.0,1011.7 799.2,1011.8 798.5,1012.0 797.8,1012.1 797.1,1012.3 796.5,1012.4 795.9,1012.6 795.3,1012.7 794.7,1012.9 794.2,1013.0 793.6,1013.2 793.1,1013.3 792.6,1013.5 792.1,1013.6 791.6,1013.8 791.1,1013.9 790.6,1014.1 790.1,1014.2 789.7,1014.4 789.2,1014.5 788.8,1014.7 788.4,1014.8 787.9,1015.0 787.5,1015.2 787.1,1015.3 786.7,1015.5 786.3,1015.6 785.9,1015.8 785.5,1015.9 785.2,1016.1 784.8,1016.2 784.3,1016.4 783.9,1016.5 783.5,1016.7 783.1,1016.8 782.6,1017.0 782.2,1017.1 781.7,1017.3 781.3,1017.4 780.8,1017.6 780.4,1017.7 779.9,1017.9 779.4,1018.0 778.9,1018.2 778.4,1018.3 777.9,1018.5 777.4,1018.6 776.9,1018.8 776.4,1018.9 775.9,1019.1 775.4,1019.2 774.8,1019.4 774.3,1019.5 773.8,1019.7 773.2,1019.8 772.7,1020.0 768.6,1020.0 768.1,1019.8 767.5,1019.7 767.0,1019.5 766.5,1019.4 765.9,1019.2 765.4,1019.1 764.9,1018.9 764.4,1018.8 763.9,1018.6 763.4,1018.5 762.9,1018.3 762.4,1018.2 761.9,1018.0 761.4,1017.9 760.9,1017.7 760.5,1017.6 760.0,1017.4 759.6,1017.3 759.1,1017.1 758.7,1017.0 758.2,1016.8 757.8,1016.7 757.4,1016.5 757.0,1016.4 756.5,1016.2 756.1,1016.1 755.8,1015.9 755.4,1015.8 755.0,1015.6 754.6,1015.5 754.2,1015.3 753.8,1015.2 753.4,1015.0 752.9,1014.8 752.5,1014.7 752.1,1014.5 751.6,1014.4 751.2,1014.2 750.7,1014.1 750.2,1013.9 749.7,1013.8 749.2,1013.6 748.7,1013.5 748.2,1013.3 747.7,1013.2 747.1,1013.0 746.6,1012.9 746.0,1012.7 745.4,1012.6 744.8,1012.4 744.2,1012.3 743.5,1012.1 742.8,1012.0 742.1,1011.8 741.3,1011.7 740.5,1011.5 739.6,1011.4 738.7,1011.2 737.7,1011.1 736.6,1010.9 735.6,1010.8 734.6,1010.6 733.5,1010.5 732.6,1010.3 731.6,1010.2 730.8,1010.0 730.1,1009.8 729.5,1009.7 729.0,1009.5 728.7,1009.4 728.5,1009.2 728.4,1009.1 728.6,1008.9 728.8,1008.8 729.2,1008.6 729.7,1008.5 730.3,1008.3 730.9,1008.2 731.6,1008.0 732.3,1007.9 733.1,1007.7 733.8,1007.6 734.6,1007.4 735.3,1007.3 736.0,1007.1 736.7,1007.0 737.4,1006.8 738.0,1006.7 738.6,1006.5 739.3,1006.4 739.9,1006.2 740.5,1006.1 741.0,1005.9 741.6,1005.8 742.1,1005.6 742.6,1005.5 743.1,1005.3 743.5,1005.2 743.9,1005.0 744.2,1004.8 744.5,1004.7 744.8,1004.5 745.0,1004.4 745.2,1004.2 745.5,1004.1 745.7,1003.9 745.8,1003.8 746.0,1003.6 746.2,1003.5 746.4,1003.3 746.6,1003.2 746.8,1003.0 747.0,1002.9 747.2,1002.7 747.4,1002.6 747.6,1002.4 747.8,1002.3 748.0,1002.1 748.2,1002.0 748.4,1001.8 748.6,1001.7 748.8,1001.5 749.1,1001.4 749.4,1001.2 749.7,1001.1 750.0,1000.9 750.4,1000.8 750.9,1000.6 751.4,1000.5 751.9,1000.3 752.6,1000.2 753.3,1000.0 754.0,999.8 754.8,999.7 755.7,999.5 756.5,999.4 757.3,999.2 758.1,999.1 758.9,998.9 759.6,998.8 760.2,998.6 760.8,998.5 761.4,998.3 761.9,998.2 762.4,998.0 762.9,997.9 763.4,997.7 763.8,997.6 764.2,997.4 764.6,997.3 765.0,997.1 765.4,997.0 765.8,996.8 766.1,996.7 766.5,996.5 766.8,996.4 767.1,996.2 767.3,996.1 767.6,995.9 767.8,995.8 768.0,995.6 768.2,995.5 768.3,995.3 768.5,995.2 768.6,995.0Z"/>
<path fill="#A6DDEA" d="M900.1,839.0 900.2,839.8 900.4,840.5 900.5,841.3 900.7,842.0 900.8,842.8 901.0,843.5 901.1,844.3 901.3,845.0 901.4,845.8 901.6,846.5 901.7,847.3 901.9,848.1 902.0,848.8 902.2,849.6 902.3,850.3 902.5,851.1 902.6,851.8 902.7,852.6 902.8,853.3 902.9,854.1 903.0,854.9 903.0,855.6 903.0,856.4 903.1,857.1 903.1,857.9 903.1,858.6 903.0,859.4 903.0,860.1 903.0,860.9 903.0,861.6 902.9,862.4 902.9,863.2 902.8,863.9 902.7,864.7 902.6,865.4 902.5,866.2 902.3,866.9 902.2,867.7 902.1,868.4 902.1,869.2 902.0,870.0 902.0,870.7 902.0,871.5 902.0,872.2 902.0,873.0 902.0,873.7 902.0,874.5 902.0,875.2 902.1,876.0 902.1,876.7 902.2,877.5 902.4,878.3 902.5,879.0 902.7,879.8 903.0,880.5 903.3,881.3 903.6,882.0 903.9,882.8 904.3,883.5 904.8,884.3 905.3,885.1 905.8,885.8 906.4,886.6 907.0,887.3 907.7,888.1 908.3,888.8 909.0,889.6 909.8,890.3 910.5,891.1 911.3,891.8 912.0,892.6 912.8,893.4 913.6,894.1 914.3,894.9 915.1,895.6 915.8,896.4 916.6,897.1 917.3,897.9 918.0,898.6 918.7,899.4 919.3,900.2 920.0,900.9 920.6,901.7 921.2,902.4 921.8,903.2 922.3,903.9 922.8,904.7 923.4,905.4 923.8,906.2 924.3,906.9 924.8,907.7 925.2,908.5 925.6,909.2 926.0,910.0 926.4,910.7 926.8,911.5 927.2,912.2 927.6,913.0 927.9,913.7 928.3,914.5 928.7,915.3 929.0,916.0 929.4,916.8 929.8,917.5 930.1,918.3 930.5,919.0 930.9,919.8 931.2,920.5 931.6,921.3 932.0,922.0 932.4,922.8 932.8,923.6 933.1,924.3 933.5,925.1 933.9,925.8 934.3,926.6 934.6,927.3 935.0,928.1 935.4,928.8 935.7,929.6 936.0,930.4 936.4,931.1 936.7,931.9 937.0,932.6 937.3,933.4 937.5,934.1 937.8,934.9 938.1,935.6 938.3,936.4 938.5,937.1 938.7,937.9 938.9,938.7 939.1,939.4 939.2,940.2 939.4,940.9 939.4,941.7 939.5,942.4 939.4,943.2 939.3,943.9 939.2,944.7 939.1,945.5 938.9,946.2 938.7,947.0 938.4,947.7 938.1,948.5 937.8,949.2 937.5,950.0 937.1,950.7 936.7,951.5 936.3,952.2 935.9,953.0 935.4,953.8 934.9,954.5 934.4,955.3 933.9,956.0 933.4,956.8 932.9,957.5 932.3,958.3 931.7,959.0 931.2,959.8 930.6,960.6 929.9,961.3 929.2,962.1 928.5,962.8 927.7,963.6 926.9,964.3 926.0,965.1 925.1,965.8 924.3,966.6 923.6,967.3 923.0,968.1 922.5,968.9 922.0,969.6 921.5,970.4 921.1,971.1 920.7,971.9 920.2,972.6 919.8,973.4 919.4,974.1 919.0,974.9 918.6,975.7 918.2,976.4 917.8,977.2 917.4,977.9 917.0,978.7 916.7,979.4 916.3,980.2 915.9,980.9 915.5,981.7 915.2,982.4 914.8,983.2 914.3,984.0 913.9,984.7 913.4,985.5 913.0,986.2 912.5,987.0 912.0,987.7 911.5,988.5 911.0,989.2 910.4,990.0 909.9,990.8 909.4,991.5 909.0,992.3 908.5,993.0 908.0,993.8 907.6,994.5 907.2,995.3 906.7,996.0 906.3,996.8 905.9,997.5 905.5,998.3 889.0,998.3 888.6,997.5 888.2,996.8 887.8,996.0 887.3,995.3 886.9,994.5 886.5,993.8 886.0,993.0 885.5,992.3 885.1,991.5 884.6,990.8 884.1,990.0 883.5,989.2 883.0,988.5 882.5,987.7 882.0,987.0 881.5,986.2 881.1,985.5 880.6,984.7 880.2,984.0 879.7,983.2 879.3,982.4 879.0,981.7 878.6,980.9 878.2,980.2 877.8,979.4 877.5,978.7 877.1,977.9 876.7,977.2 876.3,976.4 875.9,975.7 875.5,974.9 875.1,974.1 874.7,973.4 874.3,972.6 873.8,971.9 873.4,971.1 873.0,970.4 872.5,969.6 872.0,968.9 871.5,968.1 870.9,967.3 870.2,966.6 869.4,965.8 868.5,965.1 867.6,964.3 866.8,963.6 866.0,962.8 865.3,962.1 864.6,961.3 863.9,960.6 863.3,959.8 862.8,959.0 862.2,958.3 861.6,957.5 861.1,956.8 860.6,956.0 860.1,955.3 859.6,954.5 859.1,953.8 858.6,953.0 858.2,952.2 857.8,951.5 857.4,950.7 857.0,950.0 856.7,949.2 856.4,948.5 856.1,947.7 855.8,947.0 855.6,946.2 855.4,945.5 855.3,944.7 855.2,943.9 855.1,943.2 855.0,942.4 855.1,941.7 855.1,940.9 855.3,940.2 855.4,939.4 855.6,938.7 855.8,937.9 856.0,937.1 856.2,936.4 856.4,935.6 856.7,934.9 857.0,934.1 857.2,933.4 857.5,932.6 857.8,931.9 858.1,931.1 858.5,930.4 858.8,929.6 859.1,928.8 859.5,928.1 859.9,927.3 860.2,926.6 860.6,925.8 861.0,925.1 861.4,924.3 861.7,923.6 862.1,922.8 862.5,922.0 862.9,921.3 863.3,920.5 863.6,919.8 864.0,919.0 864.4,918.3 864.7,917.5 865.1,916.8 865.5,916.0 865.8,915.3 866.2,914.5 866.6,913.7 866.9,913.0 867.3,912.2 867.7,911.5 868.1,910.7 868.5,910.0 868.9,909.2 869.3,908.5 869.7,907.7 870.2,906.9 870.7,906.2 871.1,905.4 871.7,904.7 872.2,903.9 872.7,903.2 873.3,902.4 873.9,901.7 874.5,900.9 875.2,900.2 875.8,899.4 876.5,898.6 877.2,897.9 877.9,897.1 878.7,896.4 879.4,895.6 880.2,894.9 880.9,894.1 881.7,893.4 882.5,892.6 883.2,891.8 884.0,891.1 884.7,890.3 885.5,889.6 886.2,888.8 886.8,888.1 887.5,887.3 888.1,886.6 888.7,885.8 889.2,885.1 889.7,884.3 890.2,883.5 890.6,882.8 890.9,882.0 891.2,881.3 891.5,880.5 891.8,879.8 892.0,879.0 892.1,878.3 892.3,877.5 892.4,876.7 892.4,876.0 892.5,875.2 892.5,874.5 892.5,873.7 892.5,873.0 892.5,872.2 892.5,871.5 892.5,870.7 892.5,870.0 892.4,869.2 892.4,868.4 892.3,867.7 892.2,866.9 892.0,866.2 891.9,865.4 891.8,864.7 891.7,863.9 891.6,863.2 891.6,862.4 891.5,861.6 891.5,860.9 891.5,860.1 891.5,859.4 891.4,858.6 891.4,857.9 891.4,857.1 891.5,856.4 891.5,855.6 891.5,854.9 891.6,854.1 891.7,853.3 891.8,852.6 891.9,851.8 892.0,851.1 892.2,850.3 892.3,849.6 892.5,848.8 892.6,848.1 892.8,847.3 892.9,846.5 893.1,845.8 893.2,845.0 893.4,844.3 893.5,843.5 893.7,842.8 893.8,842.0 894.0,841.3 894.1,840.5 894.3,839.8 894.4,839.0Z"/>
<path fill="#F3A59A" d="M983.2,896.6 983.1,897.4 983.0,898.1 982.9,898.9 982.9,899.6 982.9,900.4 982.9,901.1 982.9,901.9 983.0,902.6 983.2,903.4 983.5,904.2 983.8,904.9 984.2,905.7 984.6,906.4 985.0,907.2 985.5,907.9 986.0,908.7 986.5,909.4 987.0,910.2 987.6,911.0 988.2,911.7 988.8,912.5 989.5,913.2 990.3,914.0 991.1,914.7 991.9,915.5 992.8,916.2 993.8,917.0 994.8,917.8 995.7,918.5 996.8,919.3 997.8,920.0 998.8,920.8 999.9,921.5 1001.0,922.3 1002.1,923.0 1003.1,923.8 1004.2,924.6 1005.2,925.3 1006.2,926.1 1007.1,926.8 1008.0,927.6 1008.8,928.3 1009.7,929.1 1010.5,929.8 1011.3,930.6 1012.1,931.4 1012.9,932.1 1013.6,932.9 1014.4,933.6 1015.1,934.4 1015.9,935.1 1016.6,935.9 1017.2,936.6 1017.9,937.4 1018.5,938.2 1019.1,938.9 1019.7,939.7 1020.2,940.4 1020.7,941.2 1021.2,941.9 1021.7,942.7 1022.1,943.4 1022.5,944.2 1022.9,945.0 1023.2,945.7 1023.5,946.5 1023.8,947.2 1023.9,948.0 1024.0,948.7 1023.9,949.5 1023.7,950.2 1023.5,951.0 1023.1,951.8 1022.7,952.5 1022.1,953.3 1021.4,954.0 1020.6,954.8 1019.8,955.5 1019.1,956.3 1018.3,957.0 1017.5,957.8 1016.7,958.5 1015.8,959.3 1015.0,960.1 1014.1,960.8 1013.3,961.6 1012.4,962.3 1011.5,963.1 1010.6,963.8 1009.7,964.6 1008.9,965.3 1008.0,966.1 1007.2,966.9 1006.4,967.6 1005.7,968.4 1005.0,969.1 1004.3,969.9 1003.5,970.6 1002.8,971.4 1002.0,972.1 1001.2,972.9 1000.4,973.7 999.7,974.4 998.9,975.2 998.1,975.9 997.4,976.7 996.7,977.4 995.9,978.2 995.2,978.9 994.5,979.7 993.8,980.5 993.1,981.2 992.4,982.0 991.8,982.7 991.1,983.5 990.5,984.2 989.9,985.0 989.3,985.7 988.8,986.5 988.3,987.3 987.8,988.0 987.4,988.8 987.0,989.5 986.7,990.3 986.4,991.0 986.2,991.8 986.0,992.5 985.9,993.3 985.7,994.1 985.6,994.8 985.5,995.6 985.5,996.3 985.4,997.1 985.4,997.8 985.4,998.6 985.3,999.3 985.3,1000.1 985.3,1000.9 985.3,1001.6 985.2,1002.4 985.2,1003.1 985.1,1003.9 985.1,1004.6 985.0,1005.4 985.0,1006.1 984.9,1006.9 978.6,1006.9 978.5,1006.1 978.5,1005.4 978.4,1004.6 978.4,1003.9 978.3,1003.1 978.3,1002.4 978.2,1001.6 978.2,1000.9 978.2,1000.1 978.2,999.3 978.1,998.6 978.1,997.8 978.1,997.1 978.0,996.3 978.0,995.6 977.9,994.8 977.8,994.1 977.6,993.3 977.5,992.5 977.3,991.8 977.1,991.0 976.8,990.3 976.5,989.5 976.1,988.8 975.7,988.0 975.2,987.3 974.7,986.5 974.2,985.7 973.6,985.0 973.0,984.2 972.4,983.5 971.7,982.7 971.1,982.0 970.4,981.2 969.7,980.5 969.0,979.7 968.3,978.9 967.6,978.2 966.8,977.4 966.1,976.7 965.4,975.9 964.6,975.2 963.8,974.4 963.1,973.7 962.3,972.9 961.5,972.1 960.7,971.4 960.0,970.6 959.2,969.9 958.5,969.1 957.8,968.4 957.1,967.6 956.3,966.9 955.5,966.1 954.6,965.3 953.8,964.6 952.9,963.8 952.0,963.1 951.1,962.3 950.2,961.6 949.4,960.8 948.5,960.1 947.7,959.3 946.8,958.5 946.0,957.8 945.2,957.0 944.4,956.3 943.7,955.5 942.9,954.8 942.1,954.0 941.4,953.3 940.8,952.5 940.4,951.8 940.0,951.0 939.8,950.2 939.6,949.5 939.5,948.7 939.6,948.0 939.7,947.2 940.0,946.5 940.3,945.7 940.6,945.0 941.0,944.2 941.4,943.4 941.8,942.7 942.3,941.9 942.8,941.2 943.3,940.4 943.8,939.7 944.4,938.9 945.0,938.2 945.6,937.4 946.3,936.6 946.9,935.9 947.6,935.1 948.4,934.4 949.1,933.6 949.9,932.9 950.6,932.1 951.4,931.4 952.2,930.6 953.0,929.8 953.8,929.1 954.7,928.3 955.5,927.6 956.4,926.8 957.3,926.1 958.3,925.3 959.3,924.6 960.4,923.8 961.4,923.0 962.5,922.3 963.6,921.5 964.7,920.8 965.7,920.0 966.7,919.3 967.8,918.5 968.7,917.8 969.7,917.0 970.7,916.2 971.6,915.5 972.4,914.7 973.2,914.0 974.0,913.2 974.7,912.5 975.3,911.7 975.9,911.0 976.5,910.2 977.0,909.4 977.5,908.7 978.0,907.9 978.5,907.2 978.9,906.4 979.3,905.7 979.7,904.9 980.0,904.2 980.3,903.4 980.5,902.6 980.6,901.9 980.6,901.1 980.6,900.4 980.6,899.6 980.6,898.9 980.5,898.1 980.4,897.4 980.3,896.6Z"/>
<path fill="#A6DDEA" d="M1117.7,544.8 1117.8,545.6 1117.9,546.3 1117.9,547.1 1118.0,547.8 1118.1,548.6 1118.2,549.3 1118.3,550.1 1118.4,550.8 1118.5,551.6 1118.6,552.3 1118.6,553.1 1118.7,553.8 1118.8,554.6 1118.9,555.3 1119.0,556.1 1119.1,556.8 1119.1,557.6 1119.2,558.3 1119.3,559.1 1119.4,559.8 1119.4,560.6 1119.5,561.3 1119.6,562.1 1119.7,562.8 1119.7,563.6 1119.8,564.3 1119.9,565.1 1119.9,565.8 1120.0,566.6 1120.1,567.3 1120.1,568.1 1120.2,568.9 1120.3,569.6 1120.3,570.4 1120.4,571.1 1120.5,571.9 1120.5,572.6 1120.6,573.4 1120.6,574.1 1120.7,574.9 1120.7,575.6 1120.8,576.4 1120.9,577.1 1120.9,577.9 1121.0,578.6 1121.0,579.4 1121.1,580.1 1121.1,580.9 1121.2,581.6 1121.2,582.4 1121.3,583.1 1121.4,583.9 1121.4,584.6 1121.5,585.4 1121.5,586.1 1121.6,586.9 1121.7,587.6 1121.7,588.4 1121.8,589.1 1121.9,589.9 1121.9,590.7 1122.0,591.4 1122.1,592.2 1122.1,592.9 1122.2,593.7 1122.3,594.4 1122.4,595.2 1122.4,595.9 1122.5,596.7 1122.6,597.4 1122.7,598.2 1122.8,598.9 1122.9,599.7 1122.9,600.4 1123.0,601.2 1123.1,601.9 1123.2,602.7 1123.3,603.4 1123.4,604.2 1123.6,604.9 1123.7,605.7 1123.8,606.4 1123.9,607.2 1124.0,607.9 1124.2,608.7 1124.3,609.4 1124.4,610.2 1124.6,610.9 1124.7,611.7 1124.9,612.4 1125.0,613.2 1125.2,614.0 1125.3,614.7 1125.5,615.5 1125.7,616.2 1125.8,617.0 1126.0,617.7 1126.2,618.5 1126.3,619.2 1126.5,620.0 1126.7,620.7 1126.9,621.5 1127.1,622.2 1127.3,623.0 1127.4,623.7 1127.6,624.5 1127.8,625.2 1128.1,626.0 1128.3,626.7 1128.5,627.5 1128.7,628.2 1128.9,629.0 1129.1,629.7 1129.4,630.5 1129.6,631.2 1129.8,632.0 1130.1,632.7 1130.3,633.5 1130.6,634.2 1130.8,635.0 1131.1,635.7 1131.3,636.5 1131.6,637.3 1131.9,638.0 1132.1,638.8 1132.4,639.5 1132.6,640.3 1132.9,641.0 1133.2,641.8 1133.4,642.5 1133.7,643.3 1134.0,644.0 1134.2,644.8 1134.5,645.5 1134.8,646.3 1135.0,647.0 1135.3,647.8 1135.6,648.5 1135.8,649.3 1136.1,650.0 1136.4,650.8 1136.6,651.5 1136.9,652.3 1137.1,653.0 1137.4,653.8 1137.6,654.5 1137.9,655.3 1138.1,656.0 1138.3,656.8 1138.6,657.5 1138.8,658.3 1139.0,659.1 1139.3,659.8 1139.5,660.6 1139.7,661.3 1139.9,662.1 1140.2,662.8 1140.4,663.6 1140.6,664.3 1140.8,665.1 1141.0,665.8 1141.1,666.6 1141.3,667.3 1141.5,668.1 1141.7,668.8 1141.9,669.6 1142.0,670.3 1142.2,671.1 1142.4,671.8 1142.5,672.6 1142.7,673.3 1142.8,674.1 1143.0,674.8 1143.1,675.6 1143.3,676.3 1143.4,677.1 1143.5,677.8 1143.7,678.6 1143.8,679.3 1143.9,680.1 1144.1,680.8 1144.2,681.6 1144.3,682.4 1144.4,683.1 1144.5,683.9 1144.6,684.6 1144.7,685.4 1144.8,686.1 1144.9,686.9 1145.0,687.6 1145.1,688.4 1145.2,689.1 1145.3,689.9 1145.3,690.6 1145.4,691.4 1145.5,692.1 1145.6,692.9 1145.6,693.6 1145.7,694.4 1145.8,695.1 1145.8,695.9 1145.9,696.6 1146.0,697.4 1146.0,698.1 1146.1,698.9 1146.1,699.6 1146.2,700.4 1146.2,701.1 1146.3,701.9 1146.3,702.6 1146.4,703.4 1146.4,704.2 1146.5,704.9 1146.5,705.7 1146.6,706.4 1146.6,707.2 1146.6,707.9 1146.7,708.7 1146.7,709.4 1146.7,710.2 1146.7,710.9 1146.7,711.7 1146.7,712.4 1146.7,713.2 1146.7,713.9 1146.7,714.7 1146.7,715.4 1146.7,716.2 1146.7,716.9 1146.7,717.7 1146.7,718.4 1146.7,719.2 1146.7,719.9 1146.7,720.7 1146.7,721.4 1146.7,722.2 1146.7,722.9 1146.7,723.7 1146.7,724.4 1146.7,725.2 1146.7,725.9 1146.7,726.7 1146.7,727.5 1146.7,728.2 1146.7,729.0 1146.6,729.7 1146.6,730.5 1146.6,731.2 1146.6,732.0 1146.6,732.7 1146.5,733.5 1146.5,734.2 1146.5,735.0 1146.4,735.7 1146.4,736.5 1146.4,737.2 1146.3,738.0 1146.3,738.7 1146.3,739.5 1146.2,740.2 1146.2,741.0 1146.1,741.7 1146.1,742.5 1146.0,743.2 1146.0,744.0 1146.0,744.7 1145.9,745.5 1145.9,746.2 1145.8,747.0 1145.8,747.7 1145.8,748.5 1145.7,749.2 1145.7,750.0 1145.7,750.8 1145.7,751.5 1145.6,752.3 1145.6,753.0 1145.6,753.8 1145.6,754.5 1145.5,755.3 1145.5,756.0 1145.5,756.8 1145.5,757.5 1145.5,758.3 1145.5,759.0 1145.5,759.8 1145.5,760.5 1145.5,761.3 1145.5,762.0 1145.5,762.8 1145.5,763.5 1145.5,764.3 1145.5,765.0 1145.5,765.8 1145.5,766.5 1145.5,767.3 1145.6,768.0 1145.6,768.8 1145.6,769.5 1145.6,770.3 1145.7,771.0 1145.7,771.8 1145.7,772.6 1145.8,773.3 1145.8,774.1 1145.8,774.8 1145.9,775.6 1145.9,776.3 1146.0,777.1 1146.0,777.8 1146.1,778.6 1146.1,779.3 1146.2,780.1 1146.2,780.8 1146.3,781.6 1146.4,782.3 1146.5,783.1 1146.5,783.8 1146.6,784.6 1146.7,785.3 1146.7,786.1 1146.8,786.8 1146.9,787.6 1147.0,788.3 1147.1,789.1 1147.2,789.8 1147.2,790.6 1147.3,791.3 1147.4,792.1 1147.5,792.8 1147.6,793.6 1147.7,794.3 1147.8,795.1 1147.9,795.9 1148.0,796.6 1148.1,797.4 1148.2,798.1 1148.3,798.9 1148.4,799.6 1148.5,800.4 1148.6,801.1 1148.7,801.9 1148.8,802.6 1148.8,803.4 1148.9,804.1 1149.0,804.9 1149.1,805.6 1149.2,806.4 1149.3,807.1 1149.4,807.9 1149.5,808.6 1149.6,809.4 1149.6,810.1 1149.7,810.9 1149.8,811.6 1149.8,812.4 1149.9,813.1 1150.0,813.9 1150.0,814.6 1150.1,815.4 1150.2,816.1 1150.2,816.9 1150.3,817.6 1150.3,818.4 1150.4,819.2 1150.4,819.9 1150.4,820.7 1150.5,821.4 1150.5,822.2 1150.5,822.9 1150.5,823.7 1150.5,824.4 1150.5,825.2 1150.5,825.9 1150.5,826.7 1150.5,827.4 1150.5,828.2 1150.5,828.9 1150.5,829.7 1150.5,830.4 1150.5,831.2 1150.5,831.9 1150.4,832.7 1150.4,833.4 1150.3,834.2 1150.3,834.9 1150.2,835.7 1150.1,836.4 1150.0,837.2 1149.9,837.9 1149.7,838.7 1149.6,839.4 1149.5,840.2 1149.3,841.0 1149.1,841.7 1149.0,842.5 1148.8,843.2 1148.6,844.0 1148.4,844.7 1148.2,845.5 1148.0,846.2 1147.8,847.0 1147.5,847.7 1147.3,848.5 1147.0,849.2 1146.8,850.0 1146.5,850.7 1146.2,851.5 1145.9,852.2 1145.6,853.0 1145.3,853.7 1145.0,854.5 1144.7,855.2 1144.3,856.0 1144.0,856.7 1143.7,857.5 1143.4,858.2 1143.0,859.0 1142.7,859.7 1142.3,860.5 1142.0,861.2 1141.6,862.0 1141.2,862.7 1140.9,863.5 1140.5,864.3 1140.1,865.0 1139.8,865.8 1139.4,866.5 1139.0,867.3 1138.6,868.0 1138.2,868.8 1137.9,869.5 1137.5,870.3 1137.1,871.0 1136.7,871.8 1136.3,872.5 1136.0,873.3 1135.6,874.0 1135.2,874.8 1134.8,875.5 1134.4,876.3 1134.1,877.0 1133.7,877.8 1133.3,878.5 1132.9,879.3 1132.5,880.0 1132.2,880.8 1131.8,881.5 1131.4,882.3 1131.1,883.0 1130.7,883.8 1130.3,884.5 1130.0,885.3 1129.6,886.1 1129.2,886.8 1128.9,887.6 1128.5,888.3 1128.2,889.1 1127.8,889.8 1127.5,890.6 1127.2,891.3 1126.8,892.1 1126.5,892.8 1126.2,893.6 1125.8,894.3 1125.5,895.1 1125.2,895.8 1124.9,896.6 1124.6,897.3 1124.3,898.1 1124.0,898.8 1123.7,899.6 1123.4,900.3 1123.1,901.1 1122.8,901.8 1122.6,902.6 1122.3,903.3 1122.0,904.1 1121.8,904.8 1121.5,905.6 1121.3,906.3 1121.0,907.1 1120.8,907.8 1120.5,908.6 1120.3,909.4 1120.1,910.1 1119.9,910.9 1119.7,911.6 1119.4,912.4 1119.2,913.1 1119.0,913.9 1118.8,914.6 1118.6,915.4 1118.4,916.1 1118.3,916.9 1118.1,917.6 1117.9,918.4 1117.7,919.1 1117.6,919.9 1117.4,920.6 1117.3,921.4 1117.1,922.1 1117.0,922.9 1116.8,923.6 1116.7,924.4 1116.5,925.1 1116.4,925.9 1116.3,926.6 1116.1,927.4 1116.0,928.1 1115.9,928.9 1115.8,929.6 1115.7,930.4 1115.5,931.1 1115.4,931.9 1115.3,932.7 1115.2,933.4 1115.1,934.2 1115.0,934.9 1114.9,935.7 1114.8,936.4 1114.7,937.2 1114.6,937.9 1114.5,938.7 1114.4,939.4 1114.3,940.2 1114.2,940.9 1114.1,941.7 1114.0,942.4 1113.9,943.2 1113.9,943.9 1113.8,944.7 1113.7,945.4 1113.6,946.2 1113.6,946.9 1113.5,947.7 1113.4,948.4 1113.4,949.2 1113.3,949.9 1113.2,950.7 1113.2,951.4 1113.1,952.2 1113.1,952.9 1113.0,953.7 1113.0,954.5 1112.9,955.2 1112.9,956.0 1112.8,956.7 1112.8,957.5 1112.7,958.2 1112.7,959.0 1112.6,959.7 1112.6,960.5 1112.6,961.2 1112.5,962.0 1112.5,962.7 1112.4,963.5 1112.4,964.2 1112.4,965.0 1112.3,965.7 1112.3,966.5 1112.3,967.2 1112.2,968.0 1112.2,968.7 1112.2,969.5 1112.1,970.2 1112.1,971.0 1112.1,971.7 1112.0,972.5 1112.0,973.2 1112.0,974.0 1111.9,974.7 1111.9,975.5 1111.9,976.2 1111.9,977.0 1104.8,977.0 1104.8,976.2 1104.8,975.5 1104.8,974.7 1104.7,974.0 1104.7,973.2 1104.7,972.5 1104.6,971.7 1104.6,971.0 1104.6,970.2 1104.5,969.5 1104.5,968.7 1104.5,968.0 1104.4,967.2 1104.4,966.5 1104.4,965.7 1104.3,965.0 1104.3,964.2 1104.3,963.5 1104.2,962.7 1104.2,962.0 1104.1,961.2 1104.1,960.5 1104.1,959.7 1104.0,959.0 1104.0,958.2 1103.9,957.5 1103.9,956.7 1103.8,956.0 1103.8,955.2 1103.7,954.5 1103.7,953.7 1103.6,952.9 1103.6,952.2 1103.5,951.4 1103.5,950.7 1103.4,949.9 1103.3,949.2 1103.3,948.4 1103.2,947.7 1103.1,946.9 1103.1,946.2 1103.0,945.4 1102.9,944.7 1102.8,943.9 1102.8,943.2 1102.7,942.4 1102.6,941.7 1102.5,940.9 1102.4,940.2 1102.3,939.4 1102.2,938.7 1102.1,937.9 1102.0,937.2 1101.9,936.4 1101.8,935.7 1101.7,934.9 1101.6,934.2 1101.5,933.4 1101.4,932.7 1101.3,931.9 1101.2,931.1 1101.0,930.4 1100.9,929.6 1100.8,928.9 1100.7,928.1 1100.6,927.4 1100.4,926.6 1100.3,925.9 1100.2,925.1 1100.0,924.4 1099.9,923.6 1099.7,922.9 1099.6,922.1 1099.4,921.4 1099.3,920.6 1099.1,919.9 1099.0,919.1 1098.8,918.4 1098.6,917.6 1098.4,916.9 1098.3,916.1 1098.1,915.4 1097.9,914.6 1097.7,913.9 1097.5,913.1 1097.3,912.4 1097.0,911.6 1096.8,910.9 1096.6,910.1 1096.4,909.4 1096.2,908.6 1095.9,907.8 1095.7,907.1 1095.4,906.3 1095.2,905.6 1094.9,904.8 1094.7,904.1 1094.4,903.3 1094.1,902.6 1093.9,901.8 1093.6,901.1 1093.3,900.3 1093.0,899.6 1092.7,898.8 1092.4,898.1 1092.1,897.3 1091.8,896.6 1091.5,895.8 1091.2,895.1 1090.9,894.3 1090.5,893.6 1090.2,892.8 1089.9,892.1 1089.5,891.3 1089.2,890.6 1088.9,889.8 1088.5,889.1 1088.2,888.3 1087.8,887.6 1087.5,886.8 1087.1,886.1 1086.7,885.3 1086.4,884.5 1086.0,883.8 1085.6,883.0 1085.3,882.3 1084.9,881.5 1084.5,880.8 1084.2,880.0 1083.8,879.3 1083.4,878.5 1083.0,877.8 1082.6,877.0 1082.3,876.3 1081.9,875.5 1081.5,874.8 1081.1,874.0 1080.7,873.3 1080.4,872.5 1080.0,871.8 1079.6,871.0 1079.2,870.3 1078.8,869.5 1078.5,868.8 1078.1,868.0 1077.7,867.3 1077.3,866.5 1076.9,865.8 1076.6,865.0 1076.2,864.3 1075.8,863.5 1075.5,862.7 1075.1,862.0 1074.7,861.2 1074.4,860.5 1074.0,859.7 1073.7,859.0 1073.3,858.2 1073.0,857.5 1072.7,856.7 1072.4,856.0 1072.0,855.2 1071.7,854.5 1071.4,853.7 1071.1,853.0 1070.8,852.2 1070.5,851.5 1070.2,850.7 1069.9,850.0 1069.7,849.2 1069.4,848.5 1069.2,847.7 1068.9,847.0 1068.7,846.2 1068.5,845.5 1068.3,844.7 1068.1,844.0 1067.9,843.2 1067.7,842.5 1067.6,841.7 1067.4,841.0 1067.2,840.2 1067.1,839.4 1067.0,838.7 1066.8,837.9 1066.7,837.2 1066.6,836.4 1066.5,835.7 1066.4,834.9 1066.4,834.2 1066.3,833.4 1066.3,832.7 1066.2,831.9 1066.2,831.2 1066.2,830.4 1066.2,829.7 1066.2,828.9 1066.2,828.2 1066.1,827.4 1066.2,826.7 1066.2,825.9 1066.2,825.2 1066.2,824.4 1066.2,823.7 1066.2,822.9 1066.2,822.2 1066.2,821.4 1066.3,820.7 1066.3,819.9 1066.3,819.2 1066.4,818.4 1066.4,817.6 1066.5,816.9 1066.5,816.1 1066.6,815.4 1066.7,814.6 1066.7,813.9 1066.8,813.1 1066.9,812.4 1066.9,811.6 1067.0,810.9 1067.1,810.1 1067.1,809.4 1067.2,808.6 1067.3,807.9 1067.4,807.1 1067.5,806.4 1067.6,805.6 1067.7,804.9 1067.8,804.1 1067.9,803.4 1067.9,802.6 1068.0,801.9 1068.1,801.1 1068.2,800.4 1068.3,799.6 1068.4,798.9 1068.5,798.1 1068.6,797.4 1068.7,796.6 1068.8,795.9 1068.9,795.1 1069.0,794.3 1069.1,793.6 1069.2,792.8 1069.3,792.1 1069.4,791.3 1069.5,790.6 1069.5,789.8 1069.6,789.1 1069.7,788.3 1069.8,787.6 1069.9,786.8 1070.0,786.1 1070.0,785.3 1070.1,784.6 1070.2,783.8 1070.2,783.1 1070.3,782.3 1070.4,781.6 1070.5,780.8 1070.5,780.1 1070.6,779.3 1070.6,778.6 1070.7,777.8 1070.7,777.1 1070.8,776.3 1070.8,775.6 1070.9,774.8 1070.9,774.1 1070.9,773.3 1071.0,772.6 1071.0,771.8 1071.0,771.0 1071.1,770.3 1071.1,769.5 1071.1,768.8 1071.1,768.0 1071.2,767.3 1071.2,766.5 1071.2,765.8 1071.2,765.0 1071.2,764.3 1071.2,763.5 1071.2,762.8 1071.2,762.0 1071.2,761.3 1071.2,760.5 1071.2,759.8 1071.2,759.0 1071.2,758.3 1071.2,757.5 1071.2,756.8 1071.2,756.0 1071.2,755.3 1071.1,754.5 1071.1,753.8 1071.1,753.0 1071.1,752.3 1071.0,751.5 1071.0,750.8 1071.0,750.0 1071.0,749.2 1070.9,748.5 1070.9,747.7 1070.9,747.0 1070.8,746.2 1070.8,745.5 1070.7,744.7 1070.7,744.0 1070.7,743.2 1070.6,742.5 1070.6,741.7 1070.5,741.0 1070.5,740.2 1070.4,739.5 1070.4,738.7 1070.4,738.0 1070.3,737.2 1070.3,736.5 1070.3,735.7 1070.2,735.0 1070.2,734.2 1070.2,733.5 1070.1,732.7 1070.1,732.0 1070.1,731.2 1070.1,730.5 1070.1,729.7 1070.0,729.0 1070.0,728.2 1070.0,727.5 1070.0,726.7 1070.0,725.9 1070.0,725.2 1070.0,724.4 1070.0,723.7 1070.0,722.9 1070.0,722.2 1070.0,721.4 1070.0,720.7 1070.0,719.9 1070.0,719.2 1070.0,718.4 1070.0,717.7 1070.0,716.9 1070.0,716.2 1070.0,715.4 1070.0,714.7 1070.0,713.9 1070.0,713.2 1070.0,712.4 1070.0,711.7 1070.0,710.9 1070.0,710.2 1070.0,709.4 1070.0,708.7 1070.1,707.9 1070.1,707.2 1070.1,706.4 1070.2,705.7 1070.2,704.9 1070.3,704.2 1070.3,703.4 1070.4,702.6 1070.4,701.9 1070.5,701.1 1070.5,700.4 1070.6,699.6 1070.6,698.9 1070.7,698.1 1070.7,697.4 1070.8,696.6 1070.9,695.9 1070.9,695.1 1071.0,694.4 1071.1,693.6 1071.1,692.9 1071.2,692.1 1071.3,691.4 1071.4,690.6 1071.4,689.9 1071.5,689.1 1071.6,688.4 1071.7,687.6 1071.8,686.9 1071.9,686.1 1072.0,685.4 1072.1,684.6 1072.2,683.9 1072.3,683.1 1072.4,682.4 1072.5,681.6 1072.6,680.8 1072.8,680.1 1072.9,679.3 1073.0,678.6 1073.2,677.8 1073.3,677.1 1073.4,676.3 1073.6,675.6 1073.7,674.8 1073.9,674.1 1074.0,673.3 1074.2,672.6 1074.3,671.8 1074.5,671.1 1074.7,670.3 1074.8,669.6 1075.0,668.8 1075.2,668.1 1075.4,667.3 1075.6,666.6 1075.7,665.8 1075.9,665.1 1076.1,664.3 1076.3,663.6 1076.5,662.8 1076.8,662.1 1077.0,661.3 1077.2,660.6 1077.4,659.8 1077.7,659.1 1077.9,658.3 1078.1,657.5 1078.4,656.8 1078.6,656.0 1078.8,655.3 1079.1,654.5 1079.3,653.8 1079.6,653.0 1079.8,652.3 1080.1,651.5 1080.3,650.8 1080.6,650.0 1080.9,649.3 1081.1,648.5 1081.4,647.8 1081.7,647.0 1081.9,646.3 1082.2,645.5 1082.5,644.8 1082.7,644.0 1083.0,643.3 1083.3,642.5 1083.5,641.8 1083.8,641.0 1084.1,640.3 1084.3,639.5 1084.6,638.8 1084.8,638.0 1085.1,637.3 1085.4,636.5 1085.6,635.7 1085.9,635.0 1086.1,634.2 1086.4,633.5 1086.6,632.7 1086.9,632.0 1087.1,631.2 1087.3,630.5 1087.6,629.7 1087.8,629.0 1088.0,628.2 1088.2,627.5 1088.4,626.7 1088.6,626.0 1088.9,625.2 1089.1,624.5 1089.3,623.7 1089.4,623.0 1089.6,622.2 1089.8,621.5 1090.0,620.7 1090.2,620.0 1090.4,619.2 1090.5,618.5 1090.7,617.7 1090.9,617.0 1091.0,616.2 1091.2,615.5 1091.4,614.7 1091.5,614.0 1091.7,613.2 1091.8,612.4 1092.0,611.7 1092.1,610.9 1092.3,610.2 1092.4,609.4 1092.5,608.7 1092.7,607.9 1092.8,607.2 1092.9,606.4 1093.0,605.7 1093.1,604.9 1093.3,604.2 1093.4,603.4 1093.5,602.7 1093.6,601.9 1093.7,601.2 1093.8,600.4 1093.8,599.7 1093.9,598.9 1094.0,598.2 1094.1,597.4 1094.2,596.7 1094.3,595.9 1094.3,595.2 1094.4,594.4 1094.5,593.7 1094.6,592.9 1094.6,592.2 1094.7,591.4 1094.8,590.7 1094.8,589.9 1094.9,589.1 1095.0,588.4 1095.0,587.6 1095.1,586.9 1095.2,586.1 1095.2,585.4 1095.3,584.6 1095.3,583.9 1095.4,583.1 1095.5,582.4 1095.5,581.6 1095.6,580.9 1095.6,580.1 1095.7,579.4 1095.7,578.6 1095.8,577.9 1095.8,577.1 1095.9,576.4 1096.0,575.6 1096.0,574.9 1096.1,574.1 1096.1,573.4 1096.2,572.6 1096.2,571.9 1096.3,571.1 1096.4,570.4 1096.4,569.6 1096.5,568.9 1096.6,568.1 1096.6,567.3 1096.7,566.6 1096.8,565.8 1096.8,565.1 1096.9,564.3 1097.0,563.6 1097.0,562.8 1097.1,562.1 1097.2,561.3 1097.3,560.6 1097.3,559.8 1097.4,559.1 1097.5,558.3 1097.6,557.6 1097.6,556.8 1097.7,556.1 1097.8,555.3 1097.9,554.6 1098.0,553.8 1098.1,553.1 1098.1,552.3 1098.2,551.6 1098.3,550.8 1098.4,550.1 1098.5,549.3 1098.6,548.6 1098.7,547.8 1098.8,547.1 1098.8,546.3 1098.9,545.6 1099.0,544.8Z"/>
<path fill="#F3A59A" d="M1204.0,691.8 1204.5,692.6 1204.9,693.3 1205.3,694.1 1205.7,694.8 1206.2,695.6 1206.6,696.3 1207.0,697.1 1207.4,697.8 1207.7,698.6 1208.1,699.3 1208.5,700.1 1208.9,700.8 1209.2,701.6 1209.6,702.3 1210.0,703.1 1210.3,703.9 1210.6,704.6 1211.0,705.4 1211.3,706.1 1211.6,706.9 1212.0,707.6 1212.3,708.4 1212.6,709.1 1212.9,709.9 1213.2,710.6 1213.5,711.4 1213.8,712.1 1214.1,712.9 1214.4,713.6 1214.7,714.4 1215.0,715.2 1215.2,715.9 1215.5,716.7 1215.8,717.4 1216.0,718.2 1216.3,718.9 1216.6,719.7 1216.8,720.4 1217.0,721.2 1217.3,721.9 1217.5,722.7 1217.7,723.4 1218.0,724.2 1218.2,724.9 1218.4,725.7 1218.6,726.5 1218.8,727.2 1219.0,728.0 1219.2,728.7 1219.4,729.5 1219.6,730.2 1219.8,731.0 1219.9,731.7 1220.1,732.5 1220.3,733.2 1220.5,734.0 1220.6,734.7 1220.8,735.5 1220.9,736.2 1221.1,737.0 1221.2,737.8 1221.4,738.5 1221.5,739.3 1221.7,740.0 1221.8,740.8 1221.9,741.5 1222.0,742.3 1222.2,743.0 1222.3,743.8 1222.4,744.5 1222.6,745.3 1222.7,746.0 1222.8,746.8 1223.0,747.5 1223.1,748.3 1223.2,749.1 1223.4,749.8 1223.5,750.6 1223.7,751.3 1223.8,752.1 1224.0,752.8 1224.1,753.6 1224.3,754.3 1224.4,755.1 1224.6,755.8 1224.8,756.6 1224.9,757.3 1225.1,758.1 1225.3,758.8 1225.4,759.6 1225.6,760.4 1225.8,761.1 1226.0,761.9 1226.2,762.6 1226.4,763.4 1226.6,764.1 1226.8,764.9 1227.0,765.6 1227.2,766.4 1227.4,767.1 1227.6,767.9 1227.8,768.6 1228.0,769.4 1228.2,770.2 1228.4,770.9 1228.6,771.7 1228.8,772.4 1229.0,773.2 1229.2,773.9 1229.4,774.7 1229.6,775.4 1229.8,776.2 1230.0,776.9 1230.2,777.7 1230.4,778.4 1230.6,779.2 1230.8,779.9 1231.0,780.7 1231.2,781.5 1231.4,782.2 1231.6,783.0 1231.7,783.7 1231.9,784.5 1232.1,785.2 1232.2,786.0 1232.4,786.7 1232.6,787.5 1232.7,788.2 1232.9,789.0 1233.0,789.7 1233.2,790.5 1233.3,791.2 1233.5,792.0 1233.6,792.8 1233.8,793.5 1233.9,794.3 1234.0,795.0 1234.1,795.8 1234.2,796.5 1234.3,797.3 1234.4,798.0 1234.5,798.8 1234.6,799.5 1234.7,800.3 1234.7,801.0 1234.8,801.8 1234.9,802.5 1234.9,803.3 1235.0,804.1 1235.0,804.8 1235.0,805.6 1235.0,806.3 1235.0,807.1 1235.0,807.8 1235.0,808.6 1235.0,809.3 1234.9,810.1 1234.9,810.8 1234.8,811.6 1234.7,812.3 1234.6,813.1 1234.5,813.8 1234.4,814.6 1234.3,815.4 1234.1,816.1 1234.0,816.9 1233.8,817.6 1233.6,818.4 1233.4,819.1 1233.1,819.9 1232.9,820.6 1232.6,821.4 1232.3,822.1 1232.0,822.9 1231.7,823.6 1231.3,824.4 1231.0,825.1 1230.6,825.9 1230.3,826.7 1229.9,827.4 1229.5,828.2 1229.1,828.9 1228.7,829.7 1228.3,830.4 1227.9,831.2 1227.5,831.9 1227.1,832.7 1226.7,833.4 1226.3,834.2 1225.9,834.9 1225.5,835.7 1225.0,836.4 1224.6,837.2 1224.2,838.0 1223.8,838.7 1223.4,839.5 1222.9,840.2 1222.5,841.0 1222.1,841.7 1221.7,842.5 1221.2,843.2 1220.8,844.0 1220.4,844.7 1220.0,845.5 1219.5,846.2 1219.1,847.0 1218.7,847.7 1218.2,848.5 1217.8,849.3 1217.4,850.0 1216.9,850.8 1216.5,851.5 1216.1,852.3 1215.7,853.0 1215.3,853.8 1214.8,854.5 1214.4,855.3 1214.0,856.0 1213.6,856.8 1213.2,857.5 1212.8,858.3 1212.4,859.0 1212.1,859.8 1211.7,860.6 1211.3,861.3 1210.9,862.1 1210.5,862.8 1210.2,863.6 1209.8,864.3 1209.5,865.1 1209.1,865.8 1208.8,866.6 1208.4,867.3 1208.1,868.1 1207.8,868.8 1207.5,869.6 1207.2,870.3 1206.9,871.1 1206.6,871.9 1206.3,872.6 1206.0,873.4 1205.8,874.1 1205.5,874.9 1205.2,875.6 1205.0,876.4 1204.7,877.1 1204.5,877.9 1204.3,878.6 1204.0,879.4 1203.8,880.1 1203.6,880.9 1203.4,881.6 1203.2,882.4 1203.0,883.2 1202.8,883.9 1202.6,884.7 1202.4,885.4 1202.2,886.2 1202.0,886.9 1201.9,887.7 1201.7,888.4 1201.5,889.2 1201.4,889.9 1201.2,890.7 1201.0,891.4 1200.9,892.2 1200.7,892.9 1200.6,893.7 1200.4,894.5 1200.3,895.2 1200.2,896.0 1200.0,896.7 1199.9,897.5 1199.8,898.2 1199.6,899.0 1199.5,899.7 1199.4,900.5 1199.3,901.2 1199.1,902.0 1199.0,902.7 1198.9,903.5 1198.8,904.2 1198.7,905.0 1198.6,905.8 1198.5,906.5 1198.4,907.3 1198.3,908.0 1198.2,908.8 1198.1,909.5 1198.0,910.3 1197.9,911.0 1197.8,911.8 1197.7,912.5 1197.6,913.3 1197.5,914.0 1197.4,914.8 1197.3,915.6 1197.2,916.3 1197.2,917.1 1197.1,917.8 1197.0,918.6 1196.9,919.3 1196.8,920.1 1196.8,920.8 1196.7,921.6 1196.6,922.3 1196.6,923.1 1196.5,923.8 1196.4,924.6 1196.4,925.3 1196.3,926.1 1196.2,926.9 1196.2,927.6 1196.1,928.4 1196.1,929.1 1196.0,929.9 1196.0,930.6 1195.9,931.4 1195.9,932.1 1195.8,932.9 1195.8,933.6 1195.8,934.4 1195.7,935.1 1195.7,935.9 1195.6,936.6 1195.6,937.4 1195.6,938.2 1195.5,938.9 1195.5,939.7 1195.5,940.4 1195.5,941.2 1195.4,941.9 1195.4,942.7 1195.4,943.4 1195.4,944.2 1195.4,944.9 1195.4,945.7 1195.3,946.4 1195.3,947.2 1195.3,947.9 1195.3,948.7 1195.3,949.5 1195.3,950.2 1195.3,951.0 1195.3,951.7 1195.3,952.5 1195.3,953.2 1195.3,954.0 1195.3,954.7 1195.3,955.5 1195.3,956.2 1195.3,957.0 1195.3,957.7 1195.3,958.5 1195.3,959.2 1195.3,960.0 1195.3,960.8 1195.3,961.5 1195.3,962.3 1195.3,963.0 1195.3,963.8 1195.3,964.5 1195.3,965.3 1195.3,966.0 1195.3,966.8 1195.3,967.5 1195.3,968.3 1195.3,969.0 1195.3,969.8 1195.3,970.5 1195.3,971.3 1195.3,972.1 1195.3,972.8 1195.3,973.6 1195.3,974.3 1195.3,975.1 1195.3,975.8 1195.3,976.6 1195.3,977.3 1195.3,978.1 1195.3,978.8 1195.3,979.6 1195.3,980.3 1195.3,981.1 1195.3,981.8 1195.3,982.6 1190.4,982.6 1190.4,981.8 1190.4,981.1 1190.4,980.3 1190.4,979.6 1190.4,978.8 1190.4,978.1 1190.4,977.3 1190.4,976.6 1190.4,975.8 1190.4,975.1 1190.4,974.3 1190.4,973.6 1190.4,972.8 1190.4,972.1 1190.4,971.3 1190.4,970.5 1190.4,969.8 1190.4,969.0 1190.4,968.3 1190.4,967.5 1190.4,966.8 1190.4,966.0 1190.4,965.3 1190.4,964.5 1190.4,963.8 1190.4,963.0 1190.4,962.3 1190.4,961.5 1190.4,960.8 1190.4,960.0 1190.4,959.2 1190.4,958.5 1190.4,957.7 1190.4,957.0 1190.4,956.2 1190.4,955.5 1190.4,954.7 1190.4,954.0 1190.4,953.2 1190.4,952.5 1190.4,951.7 1190.4,951.0 1190.4,950.2 1190.4,949.5 1190.4,948.7 1190.4,947.9 1190.4,947.2 1190.4,946.4 1190.3,945.7 1190.3,944.9 1190.3,944.2 1190.3,943.4 1190.3,942.7 1190.3,941.9 1190.2,941.2 1190.2,940.4 1190.2,939.7 1190.2,938.9 1190.1,938.2 1190.1,937.4 1190.1,936.6 1190.0,935.9 1190.0,935.1 1189.9,934.4 1189.9,933.6 1189.9,932.9 1189.8,932.1 1189.8,931.4 1189.7,930.6 1189.7,929.9 1189.6,929.1 1189.6,928.4 1189.5,927.6 1189.5,926.9 1189.4,926.1 1189.3,925.3 1189.3,924.6 1189.2,923.8 1189.1,923.1 1189.1,922.3 1189.0,921.6 1188.9,920.8 1188.9,920.1 1188.8,919.3 1188.7,918.6 1188.6,917.8 1188.5,917.1 1188.5,916.3 1188.4,915.6 1188.3,914.8 1188.2,914.0 1188.1,913.3 1188.0,912.5 1187.9,911.8 1187.8,911.0 1187.7,910.3 1187.6,909.5 1187.5,908.8 1187.4,908.0 1187.3,907.3 1187.2,906.5 1187.1,905.8 1187.0,905.0 1186.9,904.2 1186.8,903.5 1186.7,902.7 1186.6,902.0 1186.4,901.2 1186.3,900.5 1186.2,899.7 1186.1,899.0 1185.9,898.2 1185.8,897.5 1185.7,896.7 1185.5,896.0 1185.4,895.2 1185.3,894.5 1185.1,893.7 1185.0,892.9 1184.8,892.2 1184.7,891.4 1184.5,890.7 1184.3,889.9 1184.2,889.2 1184.0,888.4 1183.8,887.7 1183.7,886.9 1183.5,886.2 1183.3,885.4 1183.1,884.7 1182.9,883.9 1182.7,883.2 1182.5,882.4 1182.3,881.6 1182.1,880.9 1181.9,880.1 1181.7,879.4 1181.4,878.6 1181.2,877.9 1181.0,877.1 1180.7,876.4 1180.5,875.6 1180.2,874.9 1179.9,874.1 1179.7,873.4 1179.4,872.6 1179.1,871.9 1178.8,871.1 1178.5,870.3 1178.2,869.6 1177.9,868.8 1177.6,868.1 1177.3,867.3 1176.9,866.6 1176.6,865.8 1176.2,865.1 1175.9,864.3 1175.5,863.6 1175.2,862.8 1174.8,862.1 1174.4,861.3 1174.0,860.6 1173.6,859.8 1173.3,859.0 1172.9,858.3 1172.5,857.5 1172.1,856.8 1171.7,856.0 1171.3,855.3 1170.9,854.5 1170.4,853.8 1170.0,853.0 1169.6,852.3 1169.2,851.5 1168.8,850.8 1168.3,850.0 1167.9,849.3 1167.5,848.5 1167.0,847.7 1166.6,847.0 1166.2,846.2 1165.7,845.5 1165.3,844.7 1164.9,844.0 1164.5,843.2 1164.0,842.5 1163.6,841.7 1163.2,841.0 1162.8,840.2 1162.3,839.5 1161.9,838.7 1161.5,838.0 1161.1,837.2 1160.7,836.4 1160.2,835.7 1159.8,834.9 1159.4,834.2 1159.0,833.4 1158.6,832.7 1158.2,831.9 1157.8,831.2 1157.4,830.4 1157.0,829.7 1156.6,828.9 1156.2,828.2 1155.8,827.4 1155.4,826.7 1155.1,825.9 1154.7,825.1 1154.4,824.4 1154.0,823.6 1153.7,822.9 1153.4,822.1 1153.1,821.4 1152.8,820.6 1152.6,819.9 1152.3,819.1 1152.1,818.4 1151.9,817.6 1151.7,816.9 1151.6,816.1 1151.4,815.4 1151.3,814.6 1151.2,813.8 1151.1,813.1 1151.0,812.3 1150.9,811.6 1150.8,810.8 1150.8,810.1 1150.7,809.3 1150.7,808.6 1150.7,807.8 1150.6,807.1 1150.7,806.3 1150.7,805.6 1150.7,804.8 1150.7,804.1 1150.8,803.3 1150.8,802.5 1150.9,801.8 1151.0,801.0 1151.0,800.3 1151.1,799.5 1151.2,798.8 1151.3,798.0 1151.4,797.3 1151.5,796.5 1151.6,795.8 1151.7,795.0 1151.8,794.3 1151.9,793.5 1152.1,792.8 1152.2,792.0 1152.4,791.2 1152.5,790.5 1152.7,789.7 1152.8,789.0 1153.0,788.2 1153.1,787.5 1153.3,786.7 1153.5,786.0 1153.6,785.2 1153.8,784.5 1154.0,783.7 1154.1,783.0 1154.3,782.2 1154.5,781.5 1154.7,780.7 1154.9,779.9 1155.1,779.2 1155.3,778.4 1155.5,777.7 1155.7,776.9 1155.9,776.2 1156.1,775.4 1156.3,774.7 1156.5,773.9 1156.7,773.2 1156.9,772.4 1157.1,771.7 1157.3,770.9 1157.5,770.2 1157.7,769.4 1157.9,768.6 1158.1,767.9 1158.3,767.1 1158.5,766.4 1158.7,765.6 1158.9,764.9 1159.1,764.1 1159.3,763.4 1159.5,762.6 1159.7,761.9 1159.9,761.1 1160.1,760.4 1160.3,759.6 1160.4,758.8 1160.6,758.1 1160.8,757.3 1160.9,756.6 1161.1,755.8 1161.3,755.1 1161.4,754.3 1161.6,753.6 1161.7,752.8 1161.9,752.1 1162.0,751.3 1162.2,750.6 1162.3,749.8 1162.5,749.1 1162.6,748.3 1162.7,747.5 1162.9,746.8 1163.0,746.0 1163.1,745.3 1163.3,744.5 1163.4,743.8 1163.5,743.0 1163.7,742.3 1163.8,741.5 1163.9,740.8 1164.0,740.0 1164.2,739.3 1164.3,738.5 1164.5,737.8 1164.6,737.0 1164.8,736.2 1164.9,735.5 1165.1,734.7 1165.2,734.0 1165.4,733.2 1165.6,732.5 1165.8,731.7 1165.9,731.0 1166.1,730.2 1166.3,729.5 1166.5,728.7 1166.7,728.0 1166.9,727.2 1167.1,726.5 1167.3,725.7 1167.5,724.9 1167.7,724.2 1168.0,723.4 1168.2,722.7 1168.4,721.9 1168.7,721.2 1168.9,720.4 1169.1,719.7 1169.4,718.9 1169.7,718.2 1169.9,717.4 1170.2,716.7 1170.5,715.9 1170.7,715.2 1171.0,714.4 1171.3,713.6 1171.6,712.9 1171.9,712.1 1172.2,711.4 1172.5,710.6 1172.8,709.9 1173.1,709.1 1173.4,708.4 1173.7,707.6 1174.1,706.9 1174.4,706.1 1174.7,705.4 1175.1,704.6 1175.4,703.9 1175.7,703.1 1176.1,702.3 1176.5,701.6 1176.8,700.8 1177.2,700.1 1177.6,699.3 1178.0,698.6 1178.3,697.8 1178.7,697.1 1179.1,696.3 1179.5,695.6 1180.0,694.8 1180.4,694.1 1180.8,693.3 1181.2,692.6 1181.7,691.8Z"/>
<path fill="#A6DDEA" d="M1322.0,822.0 1321.9,822.8 1321.9,823.5 1321.9,824.3 1321.9,825.0 1321.9,825.8 1321.9,826.5 1321.9,827.3 1321.9,828.0 1321.9,828.8 1321.9,829.6 1321.9,830.3 1321.9,831.1 1321.9,831.8 1321.9,832.6 1322.0,833.3 1322.1,834.1 1322.2,834.9 1322.4,835.6 1322.6,836.4 1322.8,837.1 1323.0,837.9 1323.2,838.6 1323.4,839.4 1323.7,840.1 1323.9,840.9 1324.1,841.7 1324.4,842.4 1324.5,843.2 1324.7,843.9 1324.9,844.7 1325.1,845.4 1325.2,846.2 1325.4,846.9 1325.6,847.7 1325.7,848.5 1325.9,849.2 1326.0,850.0 1326.1,850.7 1326.2,851.5 1326.3,852.2 1326.4,853.0 1326.4,853.8 1326.4,854.5 1326.4,855.3 1326.4,856.0 1326.3,856.8 1326.3,857.5 1326.2,858.3 1326.1,859.0 1326.0,859.8 1325.9,860.6 1325.8,861.3 1325.8,862.1 1325.7,862.8 1325.7,863.6 1325.6,864.3 1325.6,865.1 1325.7,865.9 1325.7,866.6 1325.8,867.4 1325.9,868.1 1326.0,868.9 1326.1,869.6 1326.2,870.4 1326.4,871.1 1326.5,871.9 1326.7,872.7 1326.9,873.4 1327.1,874.2 1327.4,874.9 1327.7,875.7 1328.0,876.4 1328.4,877.2 1328.8,877.9 1329.2,878.7 1329.7,879.5 1330.1,880.2 1330.6,881.0 1331.1,881.7 1331.6,882.5 1332.2,883.2 1332.8,884.0 1333.4,884.8 1334.0,885.5 1334.7,886.3 1335.3,887.0 1336.0,887.8 1336.8,888.5 1337.5,889.3 1338.2,890.0 1339.0,890.8 1339.7,891.6 1340.4,892.3 1341.2,893.1 1341.9,893.8 1342.6,894.6 1343.3,895.3 1344.0,896.1 1344.7,896.8 1345.5,897.6 1346.2,898.4 1346.9,899.1 1347.7,899.9 1348.4,900.6 1349.1,901.4 1349.8,902.1 1350.5,902.9 1351.2,903.7 1351.8,904.4 1352.4,905.2 1353.0,905.9 1353.5,906.7 1354.1,907.4 1354.5,908.2 1355.0,908.9 1355.5,909.7 1356.0,910.5 1356.4,911.2 1356.8,912.0 1357.3,912.7 1357.7,913.5 1358.1,914.2 1358.4,915.0 1358.8,915.7 1359.1,916.5 1359.4,917.3 1359.7,918.0 1359.9,918.8 1360.1,919.5 1360.3,920.3 1360.5,921.0 1360.7,921.8 1360.9,922.6 1361.1,923.3 1361.2,924.1 1361.3,924.8 1361.5,925.6 1361.5,926.3 1361.6,927.1 1361.6,927.8 1361.7,928.6 1361.6,929.4 1361.5,930.1 1361.4,930.9 1361.3,931.6 1361.1,932.4 1360.9,933.1 1360.7,933.9 1360.5,934.6 1360.2,935.4 1359.9,936.2 1359.6,936.9 1359.2,937.7 1358.8,938.4 1358.3,939.2 1357.7,939.9 1357.1,940.7 1356.3,941.5 1355.5,942.2 1354.6,943.0 1353.8,943.7 1352.9,944.5 1352.0,945.2 1351.2,946.0 1350.3,946.7 1349.4,947.5 1348.6,948.3 1347.7,949.0 1347.0,949.8 1346.3,950.5 1345.6,951.3 1345.0,952.0 1344.5,952.8 1344.0,953.5 1343.5,954.3 1343.1,955.1 1342.7,955.8 1342.3,956.6 1342.0,957.3 1341.7,958.1 1341.5,958.8 1341.3,959.6 1341.1,960.4 1340.9,961.1 1340.7,961.9 1340.5,962.6 1340.3,963.4 1340.1,964.1 1340.0,964.9 1339.8,965.6 1339.6,966.4 1339.4,967.2 1339.2,967.9 1339.0,968.7 1338.8,969.4 1338.6,970.2 1338.3,970.9 1338.0,971.7 1337.7,972.5 1337.4,973.2 1337.0,974.0 1336.7,974.7 1336.3,975.5 1335.9,976.2 1335.5,977.0 1335.1,977.7 1334.6,978.5 1334.2,979.3 1333.7,980.0 1333.2,980.8 1332.7,981.5 1332.2,982.3 1331.7,983.0 1331.2,983.8 1330.7,984.5 1330.3,985.3 1329.9,986.1 1329.5,986.8 1329.1,987.6 1328.7,988.3 1328.3,989.1 1327.9,989.8 1327.5,990.6 1327.1,991.4 1326.8,992.1 1326.4,992.9 1326.0,993.6 1325.7,994.4 1325.3,995.1 1325.0,995.9 1324.6,996.6 1324.3,997.4 1314.6,997.4 1314.3,996.6 1313.9,995.9 1313.6,995.1 1313.2,994.4 1312.9,993.6 1312.5,992.9 1312.1,992.1 1311.8,991.4 1311.4,990.6 1311.0,989.8 1310.6,989.1 1310.2,988.3 1309.8,987.6 1309.4,986.8 1309.0,986.1 1308.6,985.3 1308.2,984.5 1307.7,983.8 1307.2,983.0 1306.7,982.3 1306.2,981.5 1305.7,980.8 1305.2,980.0 1304.7,979.3 1304.3,978.5 1303.8,977.7 1303.4,977.0 1303.0,976.2 1302.6,975.5 1302.2,974.7 1301.9,974.0 1301.5,973.2 1301.2,972.5 1300.9,971.7 1300.6,970.9 1300.3,970.2 1300.1,969.4 1299.9,968.7 1299.7,967.9 1299.5,967.2 1299.3,966.4 1299.1,965.6 1298.9,964.9 1298.8,964.1 1298.6,963.4 1298.4,962.6 1298.2,961.9 1298.0,961.1 1297.8,960.4 1297.6,959.6 1297.4,958.8 1297.2,958.1 1296.9,957.3 1296.6,956.6 1296.2,955.8 1295.8,955.1 1295.4,954.3 1294.9,953.5 1294.4,952.8 1293.9,952.0 1293.3,951.3 1292.6,950.5 1291.9,949.8 1291.2,949.0 1290.3,948.3 1289.5,947.5 1288.6,946.7 1287.7,946.0 1286.9,945.2 1286.0,944.5 1285.1,943.7 1284.3,943.0 1283.4,942.2 1282.6,941.5 1281.8,940.7 1281.2,939.9 1280.6,939.2 1280.1,938.4 1279.7,937.7 1279.3,936.9 1279.0,936.2 1278.7,935.4 1278.4,934.6 1278.2,933.9 1278.0,933.1 1277.8,932.4 1277.6,931.6 1277.5,930.9 1277.4,930.1 1277.3,929.4 1277.2,928.6 1277.3,927.8 1277.3,927.1 1277.4,926.3 1277.4,925.6 1277.6,924.8 1277.7,924.1 1277.8,923.3 1278.0,922.6 1278.2,921.8 1278.4,921.0 1278.6,920.3 1278.8,919.5 1279.0,918.8 1279.2,918.0 1279.5,917.3 1279.8,916.5 1280.1,915.7 1280.5,915.0 1280.8,914.2 1281.2,913.5 1281.6,912.7 1282.1,912.0 1282.5,911.2 1282.9,910.5 1283.4,909.7 1283.9,908.9 1284.4,908.2 1284.8,907.4 1285.4,906.7 1285.9,905.9 1286.5,905.2 1287.1,904.4 1287.7,903.7 1288.4,902.9 1289.1,902.1 1289.8,901.4 1290.5,900.6 1291.2,899.9 1292.0,899.1 1292.7,898.4 1293.4,897.6 1294.2,896.8 1294.9,896.1 1295.6,895.3 1296.3,894.6 1297.0,893.8 1297.7,893.1 1298.5,892.3 1299.2,891.6 1299.9,890.8 1300.7,890.0 1301.4,889.3 1302.1,888.5 1302.9,887.8 1303.6,887.0 1304.2,886.3 1304.9,885.5 1305.5,884.8 1306.1,884.0 1306.7,883.2 1307.3,882.5 1307.8,881.7 1308.3,881.0 1308.8,880.2 1309.2,879.5 1309.7,878.7 1310.1,877.9 1310.5,877.2 1310.9,876.4 1311.2,875.7 1311.5,874.9 1311.8,874.2 1312.0,873.4 1312.2,872.7 1312.4,871.9 1312.5,871.1 1312.7,870.4 1312.8,869.6 1312.9,868.9 1313.0,868.1 1313.1,867.4 1313.2,866.6 1313.2,865.9 1313.3,865.1 1313.3,864.3 1313.2,863.6 1313.2,862.8 1313.1,862.1 1313.1,861.3 1313.0,860.6 1312.9,859.8 1312.8,859.0 1312.7,858.3 1312.6,857.5 1312.6,856.8 1312.5,856.0 1312.5,855.3 1312.5,854.5 1312.5,853.8 1312.5,853.0 1312.6,852.2 1312.7,851.5 1312.8,850.7 1312.9,850.0 1313.0,849.2 1313.2,848.5 1313.3,847.7 1313.5,846.9 1313.7,846.2 1313.8,845.4 1314.0,844.7 1314.2,843.9 1314.4,843.2 1314.5,842.4 1314.8,841.7 1315.0,840.9 1315.2,840.1 1315.5,839.4 1315.7,838.6 1315.9,837.9 1316.1,837.1 1316.3,836.4 1316.5,835.6 1316.7,834.9 1316.8,834.1 1316.9,833.3 1317.0,832.6 1317.0,831.8 1317.0,831.1 1317.0,830.3 1317.0,829.6 1317.0,828.8 1317.0,828.0 1317.0,827.3 1317.0,826.5 1317.0,825.8 1317.0,825.0 1317.0,824.3 1317.0,823.5 1317.0,822.8 1316.9,822.0Z"/>
<path fill="#F3A59A" d="M1405.5,884.0 1405.3,884.8 1405.1,885.5 1404.9,886.3 1404.8,887.0 1404.8,887.8 1404.7,888.5 1404.7,889.3 1404.7,890.1 1404.8,890.8 1404.9,891.6 1405.0,892.3 1405.3,893.1 1405.5,893.8 1405.8,894.6 1406.0,895.4 1406.3,896.1 1406.6,896.9 1406.8,897.6 1407.2,898.4 1407.5,899.1 1407.8,899.9 1408.1,900.7 1408.3,901.4 1408.5,902.2 1408.6,902.9 1408.7,903.7 1408.8,904.4 1408.8,905.2 1408.8,906.0 1408.9,906.7 1408.9,907.5 1408.9,908.2 1408.9,909.0 1409.0,909.7 1409.0,910.5 1409.0,911.3 1409.0,912.0 1409.0,912.8 1408.9,913.5 1408.9,914.3 1408.9,915.0 1408.8,915.8 1408.8,916.6 1408.8,917.3 1408.7,918.1 1408.7,918.8 1408.7,919.6 1408.8,920.4 1409.0,921.1 1409.3,921.9 1409.7,922.6 1410.1,923.4 1410.6,924.1 1411.1,924.9 1411.8,925.7 1412.6,926.4 1413.5,927.2 1414.6,927.9 1415.7,928.7 1416.9,929.4 1418.1,930.2 1419.5,931.0 1421.0,931.7 1422.5,932.5 1424.1,933.2 1425.7,934.0 1427.4,934.7 1429.0,935.5 1430.6,936.3 1432.2,937.0 1433.9,937.8 1435.5,938.5 1437.0,939.3 1438.4,940.0 1439.6,940.8 1440.7,941.6 1441.7,942.3 1442.6,943.1 1443.4,943.8 1444.1,944.6 1444.7,945.3 1445.2,946.1 1445.5,946.9 1445.8,947.6 1446.0,948.4 1446.1,949.1 1446.2,949.9 1446.1,950.6 1446.0,951.4 1445.9,952.2 1445.7,952.9 1445.5,953.7 1445.1,954.4 1444.6,955.2 1444.0,955.9 1443.1,956.7 1442.2,957.5 1441.2,958.2 1440.2,959.0 1439.2,959.7 1438.1,960.5 1437.0,961.2 1435.9,962.0 1434.9,962.8 1433.8,963.5 1432.9,964.3 1432.1,965.0 1431.3,965.8 1430.6,966.5 1429.9,967.3 1429.3,968.1 1428.7,968.8 1428.1,969.6 1427.5,970.3 1427.0,971.1 1426.4,971.8 1425.9,972.6 1425.3,973.4 1424.7,974.1 1424.0,974.9 1423.2,975.6 1422.2,976.4 1421.2,977.1 1420.1,977.9 1419.0,978.7 1417.8,979.4 1416.7,980.2 1415.6,980.9 1414.5,981.7 1413.4,982.5 1412.3,983.2 1411.3,984.0 1410.4,984.7 1409.6,985.5 1408.9,986.2 1408.2,987.0 1407.7,987.8 1407.2,988.5 1406.7,989.3 1406.3,990.0 1406.0,990.8 1405.8,991.5 1405.6,992.3 1405.4,993.1 1405.2,993.8 1405.0,994.6 1404.9,995.3 1404.8,996.1 1404.6,996.8 1404.5,997.6 1404.4,998.4 1404.3,999.1 1404.2,999.9 1404.2,1000.6 1404.1,1001.4 1404.2,1002.1 1404.2,1002.9 1404.3,1003.7 1404.5,1004.4 1404.7,1005.2 1404.9,1005.9 1405.1,1006.7 1405.3,1007.4 1405.5,1008.2 1405.7,1009.0 1405.9,1009.7 1406.1,1010.5 1406.3,1011.2 1406.5,1012.0 1406.7,1012.7 1406.9,1013.5 1401.0,1013.5 1401.2,1012.7 1401.4,1012.0 1401.6,1011.2 1401.8,1010.5 1402.0,1009.7 1402.2,1009.0 1402.4,1008.2 1402.6,1007.4 1402.8,1006.7 1403.0,1005.9 1403.2,1005.2 1403.4,1004.4 1403.6,1003.7 1403.7,1002.9 1403.7,1002.1 1403.8,1001.4 1403.7,1000.6 1403.7,999.9 1403.6,999.1 1403.5,998.4 1403.4,997.6 1403.3,996.8 1403.1,996.1 1403.0,995.3 1402.9,994.6 1402.7,993.8 1402.5,993.1 1402.3,992.3 1402.1,991.5 1401.9,990.8 1401.6,990.0 1401.2,989.3 1400.7,988.5 1400.2,987.8 1399.7,987.0 1399.0,986.2 1398.3,985.5 1397.5,984.7 1396.6,984.0 1395.6,983.2 1394.5,982.5 1393.4,981.7 1392.3,980.9 1391.2,980.2 1390.1,979.4 1388.9,978.7 1387.8,977.9 1386.7,977.1 1385.7,976.4 1384.7,975.6 1383.9,974.9 1383.2,974.1 1382.6,973.4 1382.0,972.6 1381.5,971.8 1380.9,971.1 1380.4,970.3 1379.8,969.6 1379.2,968.8 1378.6,968.1 1378.0,967.3 1377.3,966.5 1376.6,965.8 1375.8,965.0 1375.0,964.3 1374.1,963.5 1373.0,962.8 1372.0,962.0 1370.9,961.2 1369.8,960.5 1368.7,959.7 1367.7,959.0 1366.7,958.2 1365.7,957.5 1364.8,956.7 1363.9,955.9 1363.3,955.2 1362.8,954.4 1362.4,953.7 1362.2,952.9 1362.0,952.2 1361.9,951.4 1361.8,950.6 1361.8,949.9 1361.8,949.1 1361.9,948.4 1362.1,947.6 1362.4,946.9 1362.7,946.1 1363.2,945.3 1363.8,944.6 1364.5,943.8 1365.3,943.1 1366.2,942.3 1367.2,941.6 1368.3,940.8 1369.5,940.0 1370.9,939.3 1372.4,938.5 1374.0,937.8 1375.7,937.0 1377.3,936.3 1378.9,935.5 1380.5,934.7 1382.2,934.0 1383.8,933.2 1385.4,932.5 1386.9,931.7 1388.4,931.0 1389.8,930.2 1391.0,929.4 1392.2,928.7 1393.3,927.9 1394.4,927.2 1395.3,926.4 1396.1,925.7 1396.8,924.9 1397.3,924.1 1397.8,923.4 1398.2,922.6 1398.6,921.9 1398.9,921.1 1399.1,920.4 1399.2,919.6 1399.2,918.8 1399.2,918.1 1399.1,917.3 1399.1,916.6 1399.1,915.8 1399.0,915.0 1399.0,914.3 1399.0,913.5 1398.9,912.8 1398.9,912.0 1398.9,911.3 1398.9,910.5 1398.9,909.7 1399.0,909.0 1399.0,908.2 1399.0,907.5 1399.0,906.7 1399.1,906.0 1399.1,905.2 1399.1,904.4 1399.2,903.7 1399.3,902.9 1399.4,902.2 1399.6,901.4 1399.8,900.7 1400.1,899.9 1400.4,899.1 1400.7,898.4 1401.1,897.6 1401.3,896.9 1401.6,896.1 1401.9,895.4 1402.1,894.6 1402.4,893.8 1402.6,893.1 1402.9,892.3 1403.0,891.6 1403.1,890.8 1403.2,890.1 1403.2,889.3 1403.2,888.5 1403.1,887.8 1403.1,887.0 1403.0,886.3 1402.8,885.5 1402.6,884.8 1402.4,884.0Z"/>
<path fill="#A6DDEA" d="M1532.2,641.5 1532.1,642.3 1532.0,643.0 1531.9,643.8 1531.8,644.5 1531.7,645.3 1531.6,646.0 1531.5,646.8 1531.4,647.5 1531.3,648.3 1531.2,649.0 1531.1,649.8 1531.0,650.5 1531.0,651.3 1530.9,652.0 1530.8,652.8 1530.8,653.5 1530.8,654.3 1530.7,655.0 1530.7,655.8 1530.7,656.5 1530.7,657.3 1530.7,658.1 1530.7,658.8 1530.7,659.6 1530.7,660.3 1530.7,661.1 1530.7,661.8 1530.7,662.6 1530.7,663.3 1530.7,664.1 1530.7,664.8 1530.7,665.6 1530.7,666.3 1530.7,667.1 1530.7,667.8 1530.7,668.6 1530.7,669.3 1530.7,670.1 1530.7,670.8 1530.7,671.6 1530.7,672.3 1530.7,673.1 1530.7,673.9 1530.7,674.6 1530.7,675.4 1530.7,676.1 1530.7,676.9 1530.7,677.6 1530.7,678.4 1530.7,679.1 1530.7,679.9 1530.7,680.6 1530.7,681.4 1530.7,682.1 1530.7,682.9 1530.7,683.6 1530.7,684.4 1530.7,685.1 1530.7,685.9 1530.7,686.6 1530.7,687.4 1530.7,688.1 1530.7,688.9 1530.7,689.7 1530.7,690.4 1530.7,691.2 1530.7,691.9 1530.7,692.7 1530.7,693.4 1530.7,694.2 1530.7,694.9 1530.7,695.7 1530.7,696.4 1530.7,697.2 1530.7,697.9 1530.7,698.7 1530.7,699.4 1530.7,700.2 1530.7,700.9 1530.7,701.7 1530.7,702.4 1530.7,703.2 1530.7,703.9 1530.7,704.7 1530.7,705.5 1530.7,706.2 1530.7,707.0 1530.7,707.7 1530.7,708.5 1530.7,709.2 1530.7,710.0 1530.7,710.7 1530.7,711.5 1530.7,712.2 1530.7,713.0 1530.7,713.7 1530.7,714.5 1530.7,715.2 1530.7,716.0 1530.7,716.7 1530.7,717.5 1530.7,718.2 1530.7,719.0 1530.7,719.7 1530.7,720.5 1530.7,721.3 1530.7,722.0 1530.7,722.8 1530.7,723.5 1530.7,724.3 1530.7,725.0 1530.7,725.8 1530.7,726.5 1530.7,727.3 1530.7,728.0 1530.7,728.8 1530.7,729.5 1530.7,730.3 1530.7,731.0 1530.7,731.8 1530.7,732.5 1530.7,733.3 1530.7,734.0 1530.7,734.8 1530.7,735.5 1530.7,736.3 1530.7,737.1 1530.7,737.8 1530.7,738.6 1530.7,739.3 1530.7,740.1 1530.7,740.8 1530.7,741.6 1530.7,742.3 1530.7,743.1 1530.7,743.8 1530.7,744.6 1530.7,745.3 1530.7,746.1 1530.7,746.8 1530.7,747.6 1530.7,748.3 1530.7,749.1 1530.7,749.8 1530.7,750.6 1530.7,751.3 1530.7,752.1 1530.7,752.9 1530.7,753.6 1530.7,754.4 1530.7,755.1 1530.7,755.9 1530.7,756.6 1530.7,757.4 1530.7,758.1 1530.7,758.9 1530.7,759.6 1530.7,760.4 1530.7,761.1 1530.7,761.9 1530.7,762.6 1530.7,763.4 1530.7,764.1 1530.7,764.9 1530.7,765.6 1530.7,766.4 1530.7,767.1 1530.7,767.9 1530.7,768.7 1530.7,769.4 1530.7,770.2 1530.7,770.9 1530.7,771.7 1530.7,772.4 1530.7,773.2 1530.7,773.9 1530.7,774.7 1530.7,775.4 1530.7,776.2 1530.7,776.9 1530.7,777.7 1530.7,778.4 1530.7,779.2 1530.7,779.9 1530.7,780.7 1530.7,781.4 1530.7,782.2 1530.7,782.9 1530.7,783.7 1530.7,784.5 1530.7,785.2 1530.7,786.0 1530.7,786.7 1530.7,787.5 1530.7,788.2 1530.7,789.0 1530.7,789.7 1530.7,790.5 1530.7,791.2 1530.7,792.0 1530.7,792.7 1530.7,793.5 1530.7,794.2 1530.7,795.0 1530.7,795.7 1530.7,796.5 1530.7,797.2 1530.7,798.0 1530.7,798.7 1530.7,799.5 1530.7,800.3 1530.7,801.0 1530.7,801.8 1530.7,802.5 1530.7,803.3 1530.7,804.0 1530.7,804.8 1530.7,805.5 1530.7,806.3 1530.7,807.0 1530.7,807.8 1530.7,808.5 1530.7,809.3 1530.7,810.0 1530.7,810.8 1530.7,811.5 1530.7,812.3 1530.7,813.0 1530.7,813.8 1530.7,814.5 1530.7,815.3 1530.7,816.1 1530.7,816.8 1530.7,817.6 1530.7,818.3 1530.7,819.1 1530.7,819.8 1530.7,820.6 1530.7,821.3 1530.7,822.1 1530.7,822.8 1530.7,823.6 1530.7,824.3 1530.7,825.1 1530.7,825.8 1530.7,826.6 1530.7,827.3 1530.7,828.1 1530.7,828.8 1530.7,829.6 1530.7,830.3 1530.7,831.1 1530.7,831.9 1530.7,832.6 1530.7,833.4 1530.7,834.1 1530.7,834.9 1530.7,835.6 1530.7,836.4 1530.7,837.1 1530.7,837.9 1530.7,838.6 1530.7,839.4 1530.7,840.1 1530.7,840.9 1530.7,841.6 1530.7,842.4 1530.7,843.1 1530.7,843.9 1530.7,844.6 1530.7,845.4 1530.7,846.2 1530.7,846.9 1530.7,847.7 1530.7,848.4 1530.7,849.2 1530.7,849.9 1530.7,850.7 1530.7,851.4 1530.7,852.2 1530.7,852.9 1530.7,853.7 1530.7,854.4 1530.7,855.2 1530.7,855.9 1530.7,856.7 1530.7,857.4 1530.7,858.2 1530.7,858.9 1530.7,859.7 1530.7,860.4 1530.7,861.2 1530.7,862.0 1530.7,862.7 1530.7,863.5 1530.7,864.2 1530.7,865.0 1530.7,865.7 1530.7,866.5 1530.7,867.2 1530.7,868.0 1530.7,868.7 1530.7,869.5 1530.7,870.2 1530.7,871.0 1530.7,871.7 1530.7,872.5 1530.7,873.2 1530.7,874.0 1530.7,874.7 1530.7,875.5 1530.7,876.2 1530.7,877.0 1530.7,877.8 1530.7,878.5 1530.7,879.3 1530.7,880.0 1530.7,880.8 1530.7,881.5 1530.7,882.3 1530.7,883.0 1530.7,883.8 1530.7,884.5 1530.7,885.3 1530.7,886.0 1530.7,886.8 1530.7,887.5 1530.7,888.3 1530.7,889.0 1530.7,889.8 1530.7,890.5 1530.7,891.3 1530.7,892.0 1530.7,892.8 1530.7,893.6 1530.7,894.3 1530.7,895.1 1530.7,895.8 1530.7,896.6 1530.7,897.3 1530.7,898.1 1530.7,898.8 1530.7,899.6 1530.7,900.3 1530.7,901.1 1530.7,901.8 1530.7,902.6 1530.7,903.3 1530.7,904.1 1530.7,904.8 1530.7,905.6 1530.7,906.3 1530.7,907.1 1530.7,907.8 1530.7,908.6 1530.7,909.4 1530.7,910.1 1530.7,910.9 1530.7,911.6 1530.7,912.4 1530.7,913.1 1530.7,913.9 1530.7,914.6 1530.7,915.4 1530.7,916.1 1530.7,916.9 1530.7,917.6 1530.8,918.4 1530.8,919.1 1530.9,919.9 1530.9,920.6 1531.0,921.4 1531.1,922.1 1531.2,922.9 1531.3,923.6 1531.4,924.4 1531.6,925.2 1531.8,925.9 1531.9,926.7 1532.1,927.4 1532.3,928.2 1532.4,928.9 1532.5,929.7 1532.6,930.4 1532.8,931.2 1532.9,931.9 1533.0,932.7 1533.1,933.4 1533.2,934.2 1533.3,934.9 1533.3,935.7 1533.4,936.4 1533.5,937.2 1533.5,937.9 1533.6,938.7 1533.7,939.4 1533.7,940.2 1533.8,941.0 1533.9,941.7 1534.0,942.5 1534.1,943.2 1534.2,944.0 1534.3,944.7 1534.5,945.5 1534.6,946.2 1534.7,947.0 1534.8,947.7 1535.0,948.5 1535.1,949.2 1535.3,950.0 1535.4,950.7 1535.6,951.5 1535.7,952.2 1535.9,953.0 1536.1,953.7 1536.2,954.5 1536.4,955.2 1536.6,956.0 1536.8,956.8 1536.9,957.5 1537.1,958.3 1537.3,959.0 1537.5,959.8 1537.7,960.5 1537.9,961.3 1538.2,962.0 1538.4,962.8 1538.6,963.5 1538.9,964.3 1539.1,965.0 1539.4,965.8 1539.7,966.5 1540.0,967.3 1540.3,968.0 1540.7,968.8 1541.1,969.5 1541.5,970.3 1541.9,971.0 1542.3,971.8 1542.8,972.6 1543.3,973.3 1543.8,974.1 1544.3,974.8 1544.8,975.6 1545.4,976.3 1545.9,977.1 1546.5,977.8 1547.1,978.6 1547.7,979.3 1548.4,980.1 1549.0,980.8 1549.7,981.6 1550.4,982.3 1551.0,983.1 1551.8,983.8 1552.5,984.6 1553.2,985.3 1553.9,986.1 1554.6,986.8 1555.4,987.6 1556.1,988.4 1556.9,989.1 1557.6,989.9 1558.4,990.6 1559.1,991.4 1559.9,992.1 1560.6,992.9 1561.3,993.6 1562.0,994.4 1562.7,995.1 1563.5,995.9 1564.1,996.6 1564.8,997.4 1565.4,998.1 1566.0,998.9 1566.6,999.6 1567.2,1000.4 1567.7,1001.1 1568.3,1001.9 1568.8,1002.6 1569.2,1003.4 1569.7,1004.2 1570.0,1004.9 1570.4,1005.7 1570.7,1006.4 1571.0,1007.2 1571.3,1007.9 1571.5,1008.7 1571.8,1009.4 1572.0,1010.2 1572.2,1010.9 1572.3,1011.7 1572.4,1012.4 1572.5,1013.2 1572.6,1013.9 1572.7,1014.7 1572.7,1015.4 1572.8,1016.2 1572.7,1016.9 1572.6,1017.7 1572.4,1018.4 1572.1,1019.2 1571.8,1020.0 1571.4,1020.7 1570.8,1021.5 1570.2,1022.2 1569.4,1023.0 1568.5,1023.7 1567.4,1024.5 1566.3,1025.2 1565.1,1026.0 1563.8,1026.7 1562.5,1027.5 1561.0,1028.2 1559.5,1029.0 1557.9,1029.7 1556.3,1030.5 1554.6,1031.2 1552.8,1032.0 1550.9,1032.7 1549.0,1033.5 1547.0,1034.2 1545.0,1035.0 1516.1,1035.0 1514.1,1034.2 1512.1,1033.5 1510.2,1032.7 1508.3,1032.0 1506.5,1031.2 1504.8,1030.5 1503.2,1029.7 1501.6,1029.0 1500.1,1028.2 1498.6,1027.5 1497.3,1026.7 1496.0,1026.0 1494.8,1025.2 1493.7,1024.5 1492.6,1023.7 1491.7,1023.0 1490.9,1022.2 1490.3,1021.5 1489.7,1020.7 1489.3,1020.0 1489.0,1019.2 1488.7,1018.4 1488.5,1017.7 1488.4,1016.9 1488.3,1016.2 1488.4,1015.4 1488.4,1014.7 1488.5,1013.9 1488.6,1013.2 1488.7,1012.4 1488.8,1011.7 1488.9,1010.9 1489.1,1010.2 1489.3,1009.4 1489.6,1008.7 1489.8,1007.9 1490.1,1007.2 1490.4,1006.4 1490.7,1005.7 1491.1,1004.9 1491.4,1004.2 1491.9,1003.4 1492.3,1002.6 1492.8,1001.9 1493.4,1001.1 1493.9,1000.4 1494.5,999.6 1495.1,998.9 1495.7,998.1 1496.3,997.4 1497.0,996.6 1497.6,995.9 1498.4,995.1 1499.1,994.4 1499.8,993.6 1500.5,992.9 1501.2,992.1 1502.0,991.4 1502.7,990.6 1503.5,989.9 1504.2,989.1 1505.0,988.4 1505.7,987.6 1506.5,986.8 1507.2,986.1 1507.9,985.3 1508.6,984.6 1509.3,983.8 1510.1,983.1 1510.7,982.3 1511.4,981.6 1512.1,980.8 1512.7,980.1 1513.4,979.3 1514.0,978.6 1514.6,977.8 1515.2,977.1 1515.7,976.3 1516.3,975.6 1516.8,974.8 1517.3,974.1 1517.8,973.3 1518.3,972.6 1518.8,971.8 1519.2,971.0 1519.6,970.3 1520.0,969.5 1520.4,968.8 1520.8,968.0 1521.1,967.3 1521.4,966.5 1521.7,965.8 1522.0,965.0 1522.2,964.3 1522.5,963.5 1522.7,962.8 1522.9,962.0 1523.2,961.3 1523.4,960.5 1523.6,959.8 1523.8,959.0 1524.0,958.3 1524.2,957.5 1524.3,956.8 1524.5,956.0 1524.7,955.2 1524.9,954.5 1525.0,953.7 1525.2,953.0 1525.4,952.2 1525.5,951.5 1525.7,950.7 1525.8,950.0 1526.0,949.2 1526.1,948.5 1526.3,947.7 1526.4,947.0 1526.5,946.2 1526.6,945.5 1526.8,944.7 1526.9,944.0 1527.0,943.2 1527.1,942.5 1527.2,941.7 1527.3,941.0 1527.4,940.2 1527.4,939.4 1527.5,938.7 1527.6,937.9 1527.6,937.2 1527.7,936.4 1527.8,935.7 1527.8,934.9 1527.9,934.2 1528.0,933.4 1528.1,932.7 1528.2,931.9 1528.3,931.2 1528.5,930.4 1528.6,929.7 1528.7,928.9 1528.8,928.2 1529.0,927.4 1529.2,926.7 1529.3,925.9 1529.5,925.2 1529.7,924.4 1529.8,923.6 1529.9,922.9 1530.0,922.1 1530.1,921.4 1530.2,920.6 1530.2,919.9 1530.3,919.1 1530.3,918.4 1530.4,917.6 1530.4,916.9 1530.4,916.1 1530.4,915.4 1530.4,914.6 1530.4,913.9 1530.4,913.1 1530.4,912.4 1530.4,911.6 1530.4,910.9 1530.4,910.1 1530.4,909.4 1530.4,908.6 1530.4,907.8 1530.4,907.1 1530.4,906.3 1530.4,905.6 1530.4,904.8 1530.4,904.1 1530.4,903.3 1530.4,902.6 1530.4,901.8 1530.4,901.1 1530.4,900.3 1530.4,899.6 1530.4,898.8 1530.4,898.1 1530.4,897.3 1530.4,896.6 1530.4,895.8 1530.4,895.1 1530.4,894.3 1530.4,893.6 1530.4,892.8 1530.4,892.0 1530.4,891.3 1530.4,890.5 1530.4,889.8 1530.4,889.0 1530.4,888.3 1530.4,887.5 1530.4,886.8 1530.4,886.0 1530.4,885.3 1530.4,884.5 1530.4,883.8 1530.4,883.0 1530.4,882.3 1530.4,881.5 1530.4,880.8 1530.4,880.0 1530.4,879.3 1530.4,878.5 1530.4,877.8 1530.4,877.0 1530.4,876.2 1530.4,875.5 1530.4,874.7 1530.4,874.0 1530.4,873.2 1530.4,872.5 1530.4,871.7 1530.4,871.0 1530.4,870.2 1530.4,869.5 1530.4,868.7 1530.4,868.0 1530.4,867.2 1530.4,866.5 1530.4,865.7 1530.4,865.0 1530.4,864.2 1530.4,863.5 1530.4,862.7 1530.4,862.0 1530.4,861.2 1530.4,860.4 1530.4,859.7 1530.4,858.9 1530.4,858.2 1530.4,857.4 1530.4,856.7 1530.4,855.9 1530.4,855.2 1530.4,854.4 1530.4,853.7 1530.4,852.9 1530.4,852.2 1530.4,851.4 1530.4,850.7 1530.4,849.9 1530.4,849.2 1530.4,848.4 1530.4,847.7 1530.4,846.9 1530.4,846.2 1530.4,845.4 1530.4,844.6 1530.4,843.9 1530.4,843.1 1530.4,842.4 1530.4,841.6 1530.4,840.9 1530.4,840.1 1530.4,839.4 1530.4,838.6 1530.4,837.9 1530.4,837.1 1530.4,836.4 1530.4,835.6 1530.4,834.9 1530.4,834.1 1530.4,833.4 1530.4,832.6 1530.4,831.9 1530.4,831.1 1530.4,830.3 1530.4,829.6 1530.4,828.8 1530.4,828.1 1530.4,827.3 1530.4,826.6 1530.4,825.8 1530.4,825.1 1530.4,824.3 1530.4,823.6 1530.4,822.8 1530.4,822.1 1530.4,821.3 1530.4,820.6 1530.4,819.8 1530.4,819.1 1530.4,818.3 1530.4,817.6 1530.4,816.8 1530.4,816.1 1530.4,815.3 1530.4,814.5 1530.4,813.8 1530.4,813.0 1530.4,812.3 1530.4,811.5 1530.4,810.8 1530.4,810.0 1530.4,809.3 1530.4,808.5 1530.4,807.8 1530.4,807.0 1530.4,806.3 1530.4,805.5 1530.4,804.8 1530.4,804.0 1530.4,803.3 1530.4,802.5 1530.4,801.8 1530.4,801.0 1530.4,800.3 1530.4,799.5 1530.4,798.7 1530.4,798.0 1530.4,797.2 1530.4,796.5 1530.4,795.7 1530.4,795.0 1530.4,794.2 1530.4,793.5 1530.4,792.7 1530.4,792.0 1530.4,791.2 1530.4,790.5 1530.4,789.7 1530.4,789.0 1530.4,788.2 1530.4,787.5 1530.4,786.7 1530.4,786.0 1530.4,785.2 1530.4,784.5 1530.4,783.7 1530.4,782.9 1530.4,782.2 1530.4,781.4 1530.4,780.7 1530.4,779.9 1530.4,779.2 1530.4,778.4 1530.4,777.7 1530.4,776.9 1530.4,776.2 1530.4,775.4 1530.4,774.7 1530.4,773.9 1530.4,773.2 1530.4,772.4 1530.4,771.7 1530.4,770.9 1530.4,770.2 1530.4,769.4 1530.4,768.7 1530.4,767.9 1530.4,767.1 1530.4,766.4 1530.4,765.6 1530.4,764.9 1530.4,764.1 1530.4,763.4 1530.4,762.6 1530.4,761.9 1530.4,761.1 1530.4,760.4 1530.4,759.6 1530.4,758.9 1530.4,758.1 1530.4,757.4 1530.4,756.6 1530.4,755.9 1530.4,755.1 1530.4,754.4 1530.4,753.6 1530.4,752.9 1530.4,752.1 1530.4,751.3 1530.4,750.6 1530.4,749.8 1530.4,749.1 1530.4,748.3 1530.4,747.6 1530.4,746.8 1530.4,746.1 1530.4,745.3 1530.4,744.6 1530.4,743.8 1530.4,743.1 1530.4,742.3 1530.4,741.6 1530.4,740.8 1530.4,740.1 1530.4,739.3 1530.4,738.6 1530.4,737.8 1530.4,737.1 1530.4,736.3 1530.4,735.5 1530.4,734.8 1530.4,734.0 1530.4,733.3 1530.4,732.5 1530.4,731.8 1530.4,731.0 1530.4,730.3 1530.4,729.5 1530.4,728.8 1530.4,728.0 1530.4,727.3 1530.4,726.5 1530.4,725.8 1530.4,725.0 1530.4,724.3 1530.4,723.5 1530.4,722.8 1530.4,722.0 1530.4,721.3 1530.4,720.5 1530.4,719.7 1530.4,719.0 1530.4,718.2 1530.4,717.5 1530.4,716.7 1530.4,716.0 1530.4,715.2 1530.4,714.5 1530.4,713.7 1530.4,713.0 1530.4,712.2 1530.4,711.5 1530.4,710.7 1530.4,710.0 1530.4,709.2 1530.4,708.5 1530.4,707.7 1530.4,707.0 1530.4,706.2 1530.4,705.5 1530.4,704.7 1530.4,703.9 1530.4,703.2 1530.4,702.4 1530.4,701.7 1530.4,700.9 1530.4,700.2 1530.4,699.4 1530.4,698.7 1530.4,697.9 1530.4,697.2 1530.4,696.4 1530.4,695.7 1530.4,694.9 1530.4,694.2 1530.4,693.4 1530.4,692.7 1530.4,691.9 1530.4,691.2 1530.4,690.4 1530.4,689.7 1530.4,688.9 1530.4,688.1 1530.4,687.4 1530.4,686.6 1530.4,685.9 1530.4,685.1 1530.4,684.4 1530.4,683.6 1530.4,682.9 1530.4,682.1 1530.4,681.4 1530.4,680.6 1530.4,679.9 1530.4,679.1 1530.4,678.4 1530.4,677.6 1530.4,676.9 1530.4,676.1 1530.4,675.4 1530.4,674.6 1530.4,673.9 1530.4,673.1 1530.4,672.3 1530.4,671.6 1530.4,670.8 1530.4,670.1 1530.4,669.3 1530.4,668.6 1530.4,667.8 1530.4,667.1 1530.4,666.3 1530.4,665.6 1530.4,664.8 1530.4,664.1 1530.4,663.3 1530.4,662.6 1530.4,661.8 1530.4,661.1 1530.4,660.3 1530.4,659.6 1530.4,658.8 1530.4,658.1 1530.4,657.3 1530.4,656.5 1530.4,655.8 1530.4,655.0 1530.3,654.3 1530.3,653.5 1530.3,652.8 1530.2,652.0 1530.1,651.3 1530.1,650.5 1530.0,649.8 1529.9,649.0 1529.8,648.3 1529.7,647.5 1529.6,646.8 1529.5,646.0 1529.4,645.3 1529.3,644.5 1529.2,643.8 1529.1,643.0 1529.0,642.3 1528.9,641.5Z"/>
<path fill="#F3A59A" d="M1620.9,1002.7 1621.3,1002.9 1621.7,1003.0 1622.1,1003.2 1622.6,1003.3 1623.0,1003.5 1623.4,1003.6 1623.8,1003.8 1624.2,1003.9 1624.5,1004.1 1624.9,1004.2 1625.3,1004.4 1625.7,1004.5 1626.1,1004.7 1626.4,1004.8 1626.8,1005.0 1627.1,1005.1 1627.5,1005.3 1627.8,1005.4 1628.2,1005.6 1628.5,1005.7 1628.8,1005.9 1629.1,1006.0 1629.5,1006.2 1629.8,1006.3 1630.1,1006.5 1630.4,1006.6 1630.7,1006.8 1631.0,1006.9 1631.3,1007.1 1631.6,1007.2 1631.9,1007.4 1632.1,1007.5 1632.4,1007.7 1632.7,1007.8 1633.0,1008.0 1633.3,1008.1 1633.5,1008.3 1633.8,1008.4 1634.1,1008.6 1634.3,1008.7 1634.6,1008.9 1634.8,1009.0 1635.1,1009.2 1635.3,1009.3 1635.6,1009.5 1635.8,1009.6 1636.1,1009.8 1636.3,1009.9 1636.6,1010.1 1636.8,1010.2 1637.0,1010.4 1637.3,1010.6 1637.5,1010.7 1637.7,1010.9 1637.9,1011.0 1638.1,1011.2 1638.4,1011.3 1638.6,1011.5 1638.8,1011.6 1639.0,1011.8 1639.2,1011.9 1639.4,1012.1 1639.6,1012.2 1639.8,1012.4 1640.0,1012.5 1640.2,1012.7 1640.4,1012.8 1640.6,1013.0 1640.8,1013.1 1640.9,1013.3 1641.1,1013.4 1641.3,1013.6 1641.5,1013.7 1641.7,1013.9 1641.9,1014.0 1642.0,1014.2 1642.2,1014.3 1642.4,1014.5 1642.6,1014.6 1642.7,1014.8 1642.9,1014.9 1643.1,1015.1 1643.3,1015.2 1643.4,1015.4 1643.6,1015.5 1643.8,1015.7 1643.9,1015.8 1644.1,1016.0 1644.3,1016.1 1644.4,1016.3 1644.6,1016.4 1644.8,1016.6 1644.9,1016.7 1645.1,1016.9 1645.2,1017.0 1645.4,1017.2 1645.5,1017.3 1645.7,1017.5 1645.8,1017.6 1646.0,1017.8 1646.1,1017.9 1646.3,1018.1 1646.4,1018.3 1646.6,1018.4 1646.7,1018.6 1646.9,1018.7 1647.0,1018.9 1647.2,1019.0 1647.4,1019.2 1647.5,1019.3 1647.7,1019.5 1647.9,1019.6 1648.1,1019.8 1648.2,1019.9 1648.4,1020.1 1648.6,1020.2 1648.8,1020.4 1649.0,1020.5 1649.2,1020.7 1649.5,1020.8 1649.7,1021.0 1649.9,1021.1 1650.1,1021.3 1650.4,1021.4 1650.6,1021.6 1650.8,1021.7 1651.1,1021.9 1651.3,1022.0 1651.5,1022.2 1651.8,1022.3 1652.1,1022.5 1652.3,1022.6 1652.6,1022.8 1652.9,1022.9 1653.2,1023.1 1653.5,1023.2 1653.8,1023.4 1654.1,1023.5 1654.5,1023.7 1654.8,1023.8 1655.1,1024.0 1655.4,1024.1 1655.7,1024.3 1656.0,1024.4 1656.3,1024.6 1656.5,1024.7 1656.7,1024.9 1656.9,1025.0 1657.0,1025.2 1657.1,1025.3 1657.2,1025.5 1657.2,1025.6 1657.2,1025.8 1657.2,1026.0 1657.1,1026.1 1657.0,1026.3 1656.8,1026.4 1656.6,1026.6 1656.4,1026.7 1656.1,1026.9 1655.8,1027.0 1655.5,1027.2 1655.2,1027.3 1654.8,1027.5 1654.4,1027.6 1654.0,1027.8 1653.6,1027.9 1653.2,1028.1 1652.7,1028.2 1652.3,1028.4 1651.8,1028.5 1651.4,1028.7 1650.9,1028.8 1650.4,1029.0 1649.8,1029.1 1649.2,1029.3 1648.6,1029.4 1648.0,1029.6 1647.4,1029.7 1646.7,1029.9 1645.9,1030.0 1645.2,1030.2 1644.4,1030.3 1643.6,1030.5 1642.8,1030.6 1641.9,1030.8 1641.1,1030.9 1640.3,1031.1 1639.4,1031.2 1638.6,1031.4 1637.8,1031.5 1637.0,1031.7 1636.3,1031.8 1635.5,1032.0 1634.7,1032.1 1633.8,1032.3 1632.7,1032.4 1631.5,1032.6 1630.0,1032.7 1628.3,1032.9 1626.1,1033.0 1623.7,1033.2 1621.0,1033.3 1618.1,1033.5 1612.0,1033.5 1609.1,1033.3 1606.4,1033.2 1604.0,1033.0 1601.8,1032.9 1600.1,1032.7 1598.6,1032.6 1597.4,1032.4 1596.3,1032.3 1595.4,1032.1 1594.6,1032.0 1593.8,1031.8 1593.1,1031.7 1592.3,1031.5 1591.5,1031.4 1590.7,1031.2 1589.8,1031.1 1589.0,1030.9 1588.2,1030.8 1587.3,1030.6 1586.5,1030.5 1585.7,1030.3 1584.9,1030.2 1584.2,1030.0 1583.4,1029.9 1582.7,1029.7 1582.1,1029.6 1581.5,1029.4 1580.9,1029.3 1580.3,1029.1 1579.7,1029.0 1579.2,1028.8 1578.7,1028.7 1578.3,1028.5 1577.8,1028.4 1577.4,1028.2 1576.9,1028.1 1576.5,1027.9 1576.1,1027.8 1575.7,1027.6 1575.3,1027.5 1574.9,1027.3 1574.6,1027.2 1574.3,1027.0 1574.0,1026.9 1573.7,1026.7 1573.5,1026.6 1573.3,1026.4 1573.1,1026.3 1573.0,1026.1 1572.9,1026.0 1572.9,1025.8 1572.8,1025.6 1572.9,1025.5 1573.0,1025.3 1573.1,1025.2 1573.2,1025.0 1573.4,1024.9 1573.6,1024.7 1573.8,1024.6 1574.1,1024.4 1574.4,1024.3 1574.7,1024.1 1575.0,1024.0 1575.3,1023.8 1575.6,1023.7 1576.0,1023.5 1576.3,1023.4 1576.6,1023.2 1576.9,1023.1 1577.2,1022.9 1577.5,1022.8 1577.8,1022.6 1578.0,1022.5 1578.3,1022.3 1578.6,1022.2 1578.8,1022.0 1579.0,1021.9 1579.3,1021.7 1579.5,1021.6 1579.7,1021.4 1580.0,1021.3 1580.2,1021.1 1580.4,1021.0 1580.6,1020.8 1580.9,1020.7 1581.1,1020.5 1581.3,1020.4 1581.5,1020.2 1581.7,1020.1 1581.9,1019.9 1582.0,1019.8 1582.2,1019.6 1582.4,1019.5 1582.6,1019.3 1582.7,1019.2 1582.9,1019.0 1583.1,1018.9 1583.2,1018.7 1583.4,1018.6 1583.5,1018.4 1583.7,1018.3 1583.8,1018.1 1584.0,1017.9 1584.1,1017.8 1584.3,1017.6 1584.4,1017.5 1584.6,1017.3 1584.7,1017.2 1584.9,1017.0 1585.0,1016.9 1585.2,1016.7 1585.3,1016.6 1585.5,1016.4 1585.7,1016.3 1585.8,1016.1 1586.0,1016.0 1586.2,1015.8 1586.3,1015.7 1586.5,1015.5 1586.7,1015.4 1586.8,1015.2 1587.0,1015.1 1587.2,1014.9 1587.4,1014.8 1587.5,1014.6 1587.7,1014.5 1587.9,1014.3 1588.1,1014.2 1588.2,1014.0 1588.4,1013.9 1588.6,1013.7 1588.8,1013.6 1589.0,1013.4 1589.2,1013.3 1589.3,1013.1 1589.5,1013.0 1589.7,1012.8 1589.9,1012.7 1590.1,1012.5 1590.3,1012.4 1590.5,1012.2 1590.7,1012.1 1590.9,1011.9 1591.1,1011.8 1591.3,1011.6 1591.5,1011.5 1591.7,1011.3 1592.0,1011.2 1592.2,1011.0 1592.4,1010.9 1592.6,1010.7 1592.8,1010.6 1593.1,1010.4 1593.3,1010.2 1593.5,1010.1 1593.8,1009.9 1594.0,1009.8 1594.3,1009.6 1594.5,1009.5 1594.8,1009.3 1595.0,1009.2 1595.3,1009.0 1595.5,1008.9 1595.8,1008.7 1596.0,1008.6 1596.3,1008.4 1596.6,1008.3 1596.8,1008.1 1597.1,1008.0 1597.4,1007.8 1597.7,1007.7 1598.0,1007.5 1598.2,1007.4 1598.5,1007.2 1598.8,1007.1 1599.1,1006.9 1599.4,1006.8 1599.7,1006.6 1600.0,1006.5 1600.3,1006.3 1600.6,1006.2 1601.0,1006.0 1601.3,1005.9 1601.6,1005.7 1601.9,1005.6 1602.3,1005.4 1602.6,1005.3 1603.0,1005.1 1603.3,1005.0 1603.7,1004.8 1604.0,1004.7 1604.4,1004.5 1604.8,1004.4 1605.2,1004.2 1605.6,1004.1 1605.9,1003.9 1606.3,1003.8 1606.7,1003.6 1607.1,1003.5 1607.5,1003.3 1608.0,1003.2 1608.4,1003.0 1608.8,1002.9 1609.2,1002.7Z"/>
<path fill="#A6DDEA" d="M1743.1,990.0 1743.0,990.2 1742.9,990.3 1742.9,990.5 1742.8,990.6 1742.7,990.8 1742.7,990.9 1742.6,991.1 1742.6,991.2 1742.5,991.4 1742.4,991.5 1742.4,991.7 1742.3,991.8 1742.3,992.0 1742.2,992.1 1742.2,992.3 1742.1,992.4 1742.1,992.6 1742.0,992.7 1742.0,992.9 1742.0,993.0 1741.9,993.2 1741.9,993.3 1741.9,993.5 1741.9,993.6 1741.9,993.8 1741.9,993.9 1741.9,994.1 1741.9,994.2 1741.8,994.4 1741.8,994.5 1741.8,994.7 1741.8,994.8 1741.8,995.0 1741.8,995.1 1741.8,995.3 1741.8,995.4 1741.8,995.6 1741.8,995.7 1741.8,995.9 1741.8,996.0 1741.8,996.2 1741.8,996.3 1741.8,996.5 1741.8,996.6 1741.8,996.8 1741.8,996.9 1741.8,997.1 1741.8,997.2 1741.8,997.4 1741.8,997.5 1741.8,997.7 1741.8,997.8 1741.8,998.0 1741.8,998.1 1741.8,998.3 1741.8,998.4 1741.8,998.6 1741.8,998.7 1741.8,998.9 1741.8,999.0 1741.8,999.2 1741.8,999.3 1741.8,999.5 1741.8,999.6 1741.8,999.8 1741.8,999.9 1741.8,1000.1 1741.8,1000.2 1741.8,1000.4 1741.8,1000.5 1741.8,1000.7 1741.8,1000.8 1741.8,1001.0 1741.9,1001.1 1741.9,1001.3 1741.9,1001.4 1742.0,1001.6 1742.0,1001.7 1742.1,1001.9 1742.1,1002.0 1742.2,1002.2 1742.2,1002.3 1742.3,1002.5 1742.4,1002.6 1742.5,1002.8 1742.5,1002.9 1742.6,1003.1 1742.7,1003.2 1742.8,1003.4 1742.9,1003.5 1743.0,1003.7 1743.1,1003.8 1743.2,1004.0 1743.3,1004.1 1743.4,1004.3 1743.5,1004.4 1743.6,1004.6 1743.8,1004.7 1743.9,1004.9 1744.1,1005.1 1744.2,1005.2 1744.4,1005.4 1744.6,1005.5 1744.8,1005.7 1745.0,1005.8 1745.2,1006.0 1745.4,1006.1 1745.6,1006.3 1745.9,1006.4 1746.1,1006.6 1746.3,1006.7 1746.5,1006.9 1746.7,1007.0 1746.9,1007.2 1747.1,1007.3 1747.3,1007.5 1747.5,1007.6 1747.7,1007.8 1747.9,1007.9 1748.1,1008.1 1748.2,1008.2 1748.4,1008.4 1748.5,1008.5 1748.6,1008.7 1748.8,1008.8 1748.9,1009.0 1749.0,1009.1 1749.1,1009.3 1749.2,1009.4 1749.3,1009.6 1749.4,1009.7 1749.5,1009.9 1749.6,1010.0 1749.7,1010.2 1749.8,1010.3 1749.9,1010.5 1750.0,1010.6 1750.2,1010.8 1750.3,1010.9 1750.4,1011.1 1750.5,1011.2 1750.6,1011.4 1750.8,1011.5 1750.9,1011.7 1751.0,1011.8 1751.2,1012.0 1751.3,1012.1 1751.5,1012.3 1751.7,1012.4 1751.9,1012.6 1752.1,1012.7 1752.3,1012.9 1752.5,1013.0 1752.7,1013.2 1752.9,1013.3 1753.1,1013.5 1753.3,1013.6 1753.6,1013.8 1753.8,1013.9 1754.1,1014.1 1754.3,1014.2 1754.6,1014.4 1754.8,1014.5 1755.1,1014.7 1755.3,1014.8 1755.6,1015.0 1755.9,1015.1 1756.2,1015.3 1756.4,1015.4 1756.7,1015.6 1757.0,1015.7 1757.3,1015.9 1757.6,1016.0 1757.9,1016.2 1758.2,1016.3 1758.5,1016.5 1758.8,1016.6 1759.1,1016.8 1759.4,1016.9 1759.7,1017.1 1760.1,1017.2 1760.4,1017.4 1760.7,1017.5 1761.1,1017.7 1761.4,1017.8 1761.8,1018.0 1762.2,1018.1 1762.5,1018.3 1762.9,1018.4 1763.3,1018.6 1763.7,1018.7 1764.1,1018.9 1764.4,1019.0 1764.8,1019.2 1765.2,1019.3 1765.7,1019.5 1766.1,1019.6 1766.5,1019.8 1766.9,1019.9 1767.3,1020.1 1767.7,1020.3 1768.2,1020.4 1768.7,1020.6 1769.1,1020.7 1769.6,1020.9 1770.2,1021.0 1770.7,1021.2 1771.3,1021.3 1771.9,1021.5 1772.5,1021.6 1773.2,1021.8 1773.8,1021.9 1774.5,1022.1 1775.1,1022.2 1775.8,1022.4 1776.4,1022.5 1777.1,1022.7 1777.7,1022.8 1778.4,1023.0 1779.0,1023.1 1779.6,1023.3 1780.2,1023.4 1780.7,1023.6 1781.2,1023.7 1781.7,1023.9 1782.2,1024.0 1782.6,1024.2 1782.9,1024.3 1783.2,1024.5 1783.5,1024.6 1783.7,1024.8 1783.8,1024.9 1783.9,1025.1 1783.8,1025.2 1783.7,1025.4 1783.5,1025.5 1783.3,1025.7 1782.9,1025.8 1782.5,1026.0 1782.0,1026.1 1781.4,1026.3 1780.7,1026.4 1780.0,1026.6 1779.3,1026.7 1778.5,1026.9 1777.7,1027.0 1776.8,1027.2 1775.9,1027.3 1775.0,1027.5 1774.1,1027.6 1773.2,1027.8 1772.4,1027.9 1771.5,1028.1 1770.6,1028.2 1769.8,1028.4 1769.1,1028.5 1768.3,1028.7 1767.6,1028.8 1766.9,1029.0 1766.3,1029.1 1765.7,1029.3 1765.1,1029.4 1764.5,1029.6 1764.0,1029.7 1763.5,1029.9 1762.9,1030.0 1762.4,1030.2 1761.9,1030.3 1761.4,1030.5 1760.9,1030.6 1760.4,1030.8 1759.9,1030.9 1759.4,1031.1 1758.9,1031.2 1758.4,1031.4 1757.9,1031.5 1757.4,1031.7 1756.8,1031.8 1756.3,1032.0 1755.8,1032.1 1755.2,1032.3 1754.7,1032.4 1754.2,1032.6 1753.6,1032.7 1753.0,1032.9 1752.5,1033.0 1751.9,1033.2 1751.3,1033.3 1750.7,1033.5 1750.1,1033.6 1749.5,1033.8 1748.9,1033.9 1748.3,1034.1 1747.7,1034.2 1747.1,1034.4 1746.5,1034.5 1745.9,1034.7 1745.3,1034.8 1744.7,1035.0 1738.6,1035.0 1738.0,1034.8 1737.4,1034.7 1736.8,1034.5 1736.2,1034.4 1735.6,1034.2 1735.0,1034.1 1734.4,1033.9 1733.8,1033.8 1733.2,1033.6 1732.6,1033.5 1732.0,1033.3 1731.4,1033.2 1730.8,1033.0 1730.3,1032.9 1729.7,1032.7 1729.1,1032.6 1728.6,1032.4 1728.1,1032.3 1727.5,1032.1 1727.0,1032.0 1726.5,1031.8 1725.9,1031.7 1725.4,1031.5 1724.9,1031.4 1724.4,1031.2 1723.9,1031.1 1723.4,1030.9 1722.9,1030.8 1722.4,1030.6 1721.9,1030.5 1721.4,1030.3 1720.9,1030.2 1720.4,1030.0 1719.8,1029.9 1719.3,1029.7 1718.8,1029.6 1718.2,1029.4 1717.6,1029.3 1717.0,1029.1 1716.4,1029.0 1715.7,1028.8 1715.0,1028.7 1714.2,1028.5 1713.5,1028.4 1712.7,1028.2 1711.8,1028.1 1710.9,1027.9 1710.1,1027.8 1709.2,1027.6 1708.3,1027.5 1707.4,1027.3 1706.5,1027.2 1705.6,1027.0 1704.8,1026.9 1704.0,1026.7 1703.3,1026.6 1702.6,1026.4 1701.9,1026.3 1701.3,1026.1 1700.8,1026.0 1700.4,1025.8 1700.0,1025.7 1699.8,1025.5 1699.6,1025.4 1699.5,1025.2 1699.5,1025.1 1699.5,1024.9 1699.6,1024.8 1699.8,1024.6 1700.1,1024.5 1700.4,1024.3 1700.7,1024.2 1701.1,1024.0 1701.6,1023.9 1702.1,1023.7 1702.6,1023.6 1703.1,1023.4 1703.7,1023.3 1704.3,1023.1 1704.9,1023.0 1705.6,1022.8 1706.2,1022.7 1706.9,1022.5 1707.5,1022.4 1708.2,1022.2 1708.8,1022.1 1709.5,1021.9 1710.1,1021.8 1710.8,1021.6 1711.4,1021.5 1712.0,1021.3 1712.6,1021.2 1713.1,1021.0 1713.7,1020.9 1714.2,1020.7 1714.6,1020.6 1715.1,1020.4 1715.6,1020.3 1716.0,1020.1 1716.4,1019.9 1716.8,1019.8 1717.2,1019.6 1717.6,1019.5 1718.1,1019.3 1718.5,1019.2 1718.9,1019.0 1719.2,1018.9 1719.6,1018.7 1720.0,1018.6 1720.4,1018.4 1720.8,1018.3 1721.1,1018.1 1721.5,1018.0 1721.9,1017.8 1722.2,1017.7 1722.6,1017.5 1722.9,1017.4 1723.2,1017.2 1723.6,1017.1 1723.9,1016.9 1724.2,1016.8 1724.5,1016.6 1724.8,1016.5 1725.1,1016.3 1725.4,1016.2 1725.7,1016.0 1726.0,1015.9 1726.3,1015.7 1726.6,1015.6 1726.9,1015.4 1727.1,1015.3 1727.4,1015.1 1727.7,1015.0 1728.0,1014.8 1728.2,1014.7 1728.5,1014.5 1728.7,1014.4 1729.0,1014.2 1729.2,1014.1 1729.5,1013.9 1729.7,1013.8 1730.0,1013.6 1730.2,1013.5 1730.4,1013.3 1730.6,1013.2 1730.8,1013.0 1731.0,1012.9 1731.2,1012.7 1731.4,1012.6 1731.6,1012.4 1731.8,1012.3 1732.0,1012.1 1732.1,1012.0 1732.3,1011.8 1732.4,1011.7 1732.5,1011.5 1732.7,1011.4 1732.8,1011.2 1732.9,1011.1 1733.0,1010.9 1733.1,1010.8 1733.3,1010.6 1733.4,1010.5 1733.5,1010.3 1733.6,1010.2 1733.7,1010.0 1733.8,1009.9 1733.9,1009.7 1734.0,1009.6 1734.1,1009.4 1734.2,1009.3 1734.3,1009.1 1734.4,1009.0 1734.5,1008.8 1734.7,1008.7 1734.8,1008.5 1734.9,1008.4 1735.1,1008.2 1735.2,1008.1 1735.4,1007.9 1735.6,1007.8 1735.8,1007.6 1736.0,1007.5 1736.2,1007.3 1736.4,1007.2 1736.6,1007.0 1736.8,1006.9 1737.0,1006.7 1737.2,1006.6 1737.4,1006.4 1737.7,1006.3 1737.9,1006.1 1738.1,1006.0 1738.3,1005.8 1738.5,1005.7 1738.7,1005.5 1738.9,1005.4 1739.1,1005.2 1739.2,1005.1 1739.4,1004.9 1739.5,1004.7 1739.7,1004.6 1739.8,1004.4 1739.9,1004.3 1740.0,1004.1 1740.1,1004.0 1740.2,1003.8 1740.3,1003.7 1740.4,1003.5 1740.5,1003.4 1740.6,1003.2 1740.7,1003.1 1740.8,1002.9 1740.8,1002.8 1740.9,1002.6 1741.0,1002.5 1741.1,1002.3 1741.1,1002.2 1741.2,1002.0 1741.2,1001.9 1741.3,1001.7 1741.3,1001.6 1741.4,1001.4 1741.4,1001.3 1741.4,1001.1 1741.5,1001.0 1741.5,1000.8 1741.5,1000.7 1741.5,1000.5 1741.5,1000.4 1741.5,1000.2 1741.5,1000.1 1741.5,999.9 1741.5,999.8 1741.5,999.6 1741.5,999.5 1741.5,999.3 1741.5,999.2 1741.5,999.0 1741.5,998.9 1741.5,998.7 1741.5,998.6 1741.5,998.4 1741.5,998.3 1741.5,998.1 1741.5,998.0 1741.5,997.8 1741.5,997.7 1741.5,997.5 1741.5,997.4 1741.5,997.2 1741.5,997.1 1741.5,996.9 1741.5,996.8 1741.5,996.6 1741.5,996.5 1741.5,996.3 1741.5,996.2 1741.5,996.0 1741.5,995.9 1741.5,995.7 1741.5,995.6 1741.5,995.4 1741.5,995.3 1741.5,995.1 1741.5,995.0 1741.5,994.8 1741.5,994.7 1741.5,994.5 1741.5,994.4 1741.4,994.2 1741.4,994.1 1741.4,993.9 1741.4,993.8 1741.4,993.6 1741.4,993.5 1741.4,993.3 1741.4,993.2 1741.3,993.0 1741.3,992.9 1741.3,992.7 1741.2,992.6 1741.2,992.4 1741.1,992.3 1741.1,992.1 1741.0,992.0 1741.0,991.8 1740.9,991.7 1740.9,991.5 1740.8,991.4 1740.7,991.2 1740.7,991.1 1740.6,990.9 1740.6,990.8 1740.5,990.6 1740.4,990.5 1740.4,990.3 1740.3,990.2 1740.2,990.0Z"/>
<path fill="#F3A59A" d="M1828.2,1018.0 1828.8,1018.2 1829.3,1018.3 1829.9,1018.5 1830.5,1018.6 1831.1,1018.8 1831.7,1018.9 1832.3,1019.1 1832.9,1019.2 1833.6,1019.4 1834.3,1019.5 1835.0,1019.7 1835.7,1019.8 1836.4,1020.0 1837.1,1020.1 1837.9,1020.3 1838.6,1020.4 1839.4,1020.6 1840.2,1020.7 1841.0,1020.9 1841.9,1021.0 1842.8,1021.2 1843.7,1021.4 1844.6,1021.5 1845.5,1021.7 1846.4,1021.8 1847.4,1022.0 1848.3,1022.1 1849.3,1022.3 1850.3,1022.4 1851.4,1022.6 1852.4,1022.7 1853.5,1022.9 1854.6,1023.0 1855.7,1023.2 1856.8,1023.3 1857.9,1023.5 1858.9,1023.6 1859.9,1023.8 1860.9,1023.9 1861.8,1024.1 1862.6,1024.2 1863.3,1024.4 1864.0,1024.6 1864.6,1024.7 1865.1,1024.9 1865.6,1025.0 1866.1,1025.2 1866.6,1025.3 1867.0,1025.5 1867.3,1025.6 1867.6,1025.8 1867.9,1025.9 1868.1,1026.1 1868.2,1026.2 1868.3,1026.4 1868.4,1026.5 1868.3,1026.7 1868.2,1026.8 1868.0,1027.0 1867.8,1027.1 1867.5,1027.3 1867.2,1027.4 1866.8,1027.6 1866.4,1027.8 1865.9,1027.9 1865.4,1028.1 1864.9,1028.2 1864.4,1028.4 1863.8,1028.5 1863.1,1028.7 1862.4,1028.8 1861.6,1029.0 1860.8,1029.1 1859.9,1029.3 1858.9,1029.4 1857.8,1029.6 1856.7,1029.7 1855.6,1029.9 1854.4,1030.0 1853.1,1030.2 1851.7,1030.3 1850.3,1030.5 1848.8,1030.6 1847.3,1030.8 1845.7,1031.0 1844.1,1031.1 1842.6,1031.3 1841.2,1031.4 1839.8,1031.6 1838.5,1031.7 1837.4,1031.9 1836.3,1032.0 1835.3,1032.2 1834.4,1032.3 1833.5,1032.5 1832.7,1032.6 1831.9,1032.8 1831.2,1032.9 1830.6,1033.1 1830.0,1033.2 1829.5,1033.4 1829.1,1033.5 1828.8,1033.7 1828.5,1033.8 1828.2,1034.0 1824.1,1034.0 1823.8,1033.8 1823.5,1033.7 1823.2,1033.5 1822.8,1033.4 1822.3,1033.2 1821.7,1033.1 1821.1,1032.9 1820.4,1032.8 1819.6,1032.6 1818.8,1032.5 1817.9,1032.3 1817.0,1032.2 1816.0,1032.0 1814.9,1031.9 1813.8,1031.7 1812.5,1031.6 1811.1,1031.4 1809.7,1031.3 1808.2,1031.1 1806.6,1031.0 1805.0,1030.8 1803.5,1030.6 1802.0,1030.5 1800.6,1030.3 1799.2,1030.2 1797.9,1030.0 1796.7,1029.9 1795.6,1029.7 1794.5,1029.6 1793.4,1029.4 1792.4,1029.3 1791.5,1029.1 1790.7,1029.0 1789.9,1028.8 1789.2,1028.7 1788.5,1028.5 1787.9,1028.4 1787.4,1028.2 1786.9,1028.1 1786.4,1027.9 1785.9,1027.8 1785.5,1027.6 1785.1,1027.4 1784.8,1027.3 1784.5,1027.1 1784.3,1027.0 1784.1,1026.8 1784.0,1026.7 1784.0,1026.5 1784.0,1026.4 1784.1,1026.2 1784.2,1026.1 1784.4,1025.9 1784.7,1025.8 1785.0,1025.6 1785.3,1025.5 1785.7,1025.3 1786.2,1025.2 1786.7,1025.0 1787.2,1024.9 1787.7,1024.7 1788.3,1024.6 1789.0,1024.4 1789.7,1024.2 1790.5,1024.1 1791.4,1023.9 1792.4,1023.8 1793.4,1023.6 1794.4,1023.5 1795.5,1023.3 1796.6,1023.2 1797.7,1023.0 1798.8,1022.9 1799.9,1022.7 1800.9,1022.6 1802.0,1022.4 1803.0,1022.3 1804.0,1022.1 1804.9,1022.0 1805.9,1021.8 1806.8,1021.7 1807.7,1021.5 1808.6,1021.4 1809.5,1021.2 1810.4,1021.0 1811.3,1020.9 1812.1,1020.7 1812.9,1020.6 1813.7,1020.4 1814.4,1020.3 1815.2,1020.1 1815.9,1020.0 1816.6,1019.8 1817.3,1019.7 1818.0,1019.5 1818.7,1019.4 1819.4,1019.2 1820.0,1019.1 1820.6,1018.9 1821.2,1018.8 1821.8,1018.6 1822.4,1018.5 1823.0,1018.3 1823.5,1018.2 1824.1,1018.0Z"/>
<path fill="#A6DDEA" d="M1954.2,936.7 1953.9,937.5 1953.7,938.2 1953.4,939.0 1953.3,939.7 1953.1,940.5 1953.0,941.3 1953.0,942.0 1952.9,942.8 1952.9,943.5 1953.0,944.3 1953.1,945.1 1953.3,945.8 1953.6,946.6 1953.8,947.3 1954.0,948.1 1954.1,948.8 1954.2,949.6 1954.1,950.4 1953.9,951.1 1953.6,951.9 1953.4,952.6 1953.1,953.4 1953.0,954.2 1953.0,954.9 1953.0,955.7 1953.0,956.4 1953.0,957.2 1953.0,958.0 1953.0,958.7 1953.0,959.5 1953.0,960.2 1953.0,961.0 1953.0,961.8 1953.0,962.5 1953.0,963.3 1953.0,964.0 1953.0,964.8 1953.0,965.6 1953.0,966.3 1953.0,967.1 1953.0,967.8 1953.0,968.6 1953.0,969.3 1953.0,970.1 1953.0,970.9 1953.0,971.6 1953.0,972.4 1953.0,973.1 1953.0,973.9 1953.0,974.7 1953.0,975.4 1953.0,976.2 1953.0,976.9 1953.0,977.7 1953.0,978.5 1953.0,979.2 1953.0,980.0 1953.0,980.7 1953.0,981.5 1953.0,982.3 1953.0,983.0 1953.0,983.8 1953.0,984.5 1953.0,985.3 1953.0,986.1 1953.0,986.8 1953.0,987.6 1953.0,988.3 1953.0,989.1 1953.0,989.9 1953.0,990.6 1953.0,991.4 1953.0,992.1 1953.0,992.9 1953.0,993.6 1953.0,994.4 1953.0,995.2 1953.0,995.9 1953.0,996.7 1953.0,997.4 1953.0,998.2 1953.0,999.0 1953.0,999.7 1953.0,1000.5 1953.0,1001.2 1953.0,1002.0 1953.0,1002.8 1953.0,1003.5 1953.0,1004.3 1953.0,1005.0 1953.1,1005.8 1953.4,1006.6 1953.8,1007.3 1954.2,1008.1 1954.6,1008.8 1954.9,1009.6 1955.1,1010.4 1955.2,1011.1 1955.4,1011.9 1955.5,1012.6 1955.7,1013.4 1956.0,1014.1 1956.4,1014.9 1957.1,1015.7 1958.0,1016.4 1958.9,1017.2 1959.8,1017.9 1960.5,1018.7 1961.1,1019.5 1961.7,1020.2 1962.3,1021.0 1962.9,1021.7 1963.7,1022.5 1964.6,1023.3 1965.9,1024.0 1968.0,1024.8 1970.7,1025.5 1973.4,1026.3 1975.7,1027.1 1977.7,1027.8 1979.6,1028.6 1981.4,1029.3 1983.2,1030.1 1985.1,1030.9 1987.1,1031.6 1989.3,1032.4 1991.4,1033.1 1993.2,1033.9 1994.5,1034.6 1995.0,1035.4 1993.6,1036.2 1990.3,1036.9 1985.9,1037.7 1981.7,1038.4 1978.1,1039.2 1974.7,1040.0 1971.1,1040.7 1967.3,1041.5 1963.2,1042.2 1958.9,1043.0 1946.6,1043.0 1942.3,1042.2 1938.2,1041.5 1934.4,1040.7 1930.8,1040.0 1927.4,1039.2 1923.8,1038.4 1919.6,1037.7 1915.2,1036.9 1911.9,1036.2 1910.5,1035.4 1911.0,1034.6 1912.3,1033.9 1914.1,1033.1 1916.2,1032.4 1918.4,1031.6 1920.4,1030.9 1922.3,1030.1 1924.1,1029.3 1925.9,1028.6 1927.8,1027.8 1929.8,1027.1 1932.1,1026.3 1934.8,1025.5 1937.5,1024.8 1939.6,1024.0 1940.9,1023.3 1941.8,1022.5 1942.6,1021.7 1943.2,1021.0 1943.8,1020.2 1944.4,1019.5 1945.0,1018.7 1945.7,1017.9 1946.6,1017.2 1947.5,1016.4 1948.4,1015.7 1949.1,1014.9 1949.5,1014.1 1949.8,1013.4 1950.0,1012.6 1950.1,1011.9 1950.3,1011.1 1950.4,1010.4 1950.6,1009.6 1950.9,1008.8 1951.3,1008.1 1951.7,1007.3 1952.1,1006.6 1952.4,1005.8 1952.5,1005.0 1952.5,1004.3 1952.5,1003.5 1952.5,1002.8 1952.5,1002.0 1952.5,1001.2 1952.5,1000.5 1952.5,999.7 1952.5,999.0 1952.5,998.2 1952.5,997.4 1952.5,996.7 1952.5,995.9 1952.5,995.2 1952.5,994.4 1952.5,993.6 1952.5,992.9 1952.5,992.1 1952.5,991.4 1952.5,990.6 1952.5,989.9 1952.5,989.1 1952.5,988.3 1952.5,987.6 1952.5,986.8 1952.5,986.1 1952.5,985.3 1952.5,984.5 1952.5,983.8 1952.5,983.0 1952.5,982.3 1952.5,981.5 1952.5,980.7 1952.5,980.0 1952.5,979.2 1952.5,978.5 1952.5,977.7 1952.5,976.9 1952.5,976.2 1952.5,975.4 1952.5,974.7 1952.5,973.9 1952.5,973.1 1952.5,972.4 1952.5,971.6 1952.5,970.9 1952.5,970.1 1952.5,969.3 1952.5,968.6 1952.5,967.8 1952.5,967.1 1952.5,966.3 1952.5,965.6 1952.5,964.8 1952.5,964.0 1952.5,963.3 1952.5,962.5 1952.5,961.8 1952.5,961.0 1952.5,960.2 1952.5,959.5 1952.5,958.7 1952.5,958.0 1952.5,957.2 1952.5,956.4 1952.5,955.7 1952.5,954.9 1952.5,954.2 1952.4,953.4 1952.1,952.6 1951.9,951.9 1951.6,951.1 1951.4,950.4 1951.3,949.6 1951.4,948.8 1951.5,948.1 1951.7,947.3 1951.9,946.6 1952.2,945.8 1952.4,945.1 1952.5,944.3 1952.6,943.5 1952.6,942.8 1952.5,942.0 1952.5,941.3 1952.4,940.5 1952.2,939.7 1952.1,939.0 1951.8,938.2 1951.6,937.5 1951.3,936.7Z"/>
<path fill="#F3A59A" d="M2038.3,1028.0 2038.8,1028.2 2039.2,1028.3 2039.7,1028.5 2040.2,1028.6 2040.8,1028.8 2041.3,1028.9 2041.8,1029.1 2042.4,1029.2 2042.9,1029.4 2043.5,1029.5 2044.1,1029.7 2044.6,1029.8 2045.2,1030.0 2045.8,1030.1 2046.5,1030.3 2047.1,1030.4 2047.7,1030.6 2048.4,1030.7 2049.0,1030.9 2049.7,1031.0 2050.4,1031.2 2051.1,1031.4 2051.8,1031.5 2052.5,1031.7 2053.2,1031.8 2054.0,1032.0 2054.7,1032.1 2055.5,1032.3 2056.3,1032.4 2057.1,1032.6 2057.9,1032.7 2058.8,1032.9 2059.6,1033.0 2060.4,1033.2 2061.3,1033.3 2062.2,1033.5 2063.0,1033.6 2063.9,1033.8 2064.8,1033.9 2065.8,1034.1 2066.8,1034.2 2067.8,1034.4 2068.9,1034.6 2069.9,1034.7 2071.1,1034.9 2072.2,1035.0 2073.3,1035.2 2074.3,1035.3 2075.4,1035.5 2076.3,1035.6 2077.2,1035.8 2077.9,1035.9 2078.5,1036.1 2079.0,1036.2 2079.3,1036.4 2079.4,1036.5 2079.4,1036.7 2079.2,1036.8 2078.8,1037.0 2078.3,1037.1 2077.6,1037.3 2076.7,1037.4 2075.8,1037.6 2074.8,1037.8 2073.6,1037.9 2072.5,1038.1 2071.3,1038.2 2070.1,1038.4 2068.8,1038.5 2067.6,1038.7 2066.4,1038.8 2065.3,1039.0 2064.1,1039.1 2062.9,1039.3 2061.7,1039.4 2060.6,1039.6 2059.4,1039.7 2058.2,1039.9 2057.0,1040.0 2055.9,1040.2 2054.8,1040.3 2053.7,1040.5 2052.7,1040.6 2051.7,1040.8 2050.8,1041.0 2049.9,1041.1 2049.1,1041.3 2048.3,1041.4 2047.5,1041.6 2046.7,1041.7 2046.0,1041.9 2045.3,1042.0 2044.6,1042.2 2043.9,1042.3 2043.3,1042.5 2042.6,1042.6 2042.0,1042.8 2041.5,1042.9 2040.9,1043.1 2040.4,1043.2 2040.0,1043.4 2039.5,1043.5 2039.1,1043.7 2038.7,1043.8 2038.3,1044.0 2036.2,1044.0 2035.8,1043.8 2035.4,1043.7 2035.0,1043.5 2034.5,1043.4 2034.1,1043.2 2033.6,1043.1 2033.0,1042.9 2032.5,1042.8 2031.9,1042.6 2031.2,1042.5 2030.6,1042.3 2029.9,1042.2 2029.2,1042.0 2028.5,1041.9 2027.8,1041.7 2027.0,1041.6 2026.2,1041.4 2025.4,1041.3 2024.6,1041.1 2023.7,1041.0 2022.8,1040.8 2021.8,1040.6 2020.8,1040.5 2019.7,1040.3 2018.6,1040.2 2017.5,1040.0 2016.3,1039.9 2015.1,1039.7 2013.9,1039.6 2012.8,1039.4 2011.6,1039.3 2010.4,1039.1 2009.2,1039.0 2008.1,1038.8 2006.9,1038.7 2005.7,1038.5 2004.4,1038.4 2003.2,1038.2 2002.0,1038.1 2000.9,1037.9 1999.7,1037.8 1998.7,1037.6 1997.8,1037.4 1996.9,1037.3 1996.2,1037.1 1995.7,1037.0 1995.3,1036.8 1995.1,1036.7 1995.0,1036.5 1995.2,1036.4 1995.5,1036.2 1996.0,1036.1 1996.6,1035.9 1997.3,1035.8 1998.2,1035.6 1999.1,1035.5 2000.2,1035.3 2001.2,1035.2 2002.3,1035.0 2003.4,1034.9 2004.6,1034.7 2005.6,1034.6 2006.7,1034.4 2007.7,1034.2 2008.7,1034.1 2009.7,1033.9 2010.6,1033.8 2011.5,1033.6 2012.3,1033.5 2013.2,1033.3 2014.1,1033.2 2014.9,1033.0 2015.7,1032.9 2016.6,1032.7 2017.4,1032.6 2018.2,1032.4 2019.0,1032.3 2019.8,1032.1 2020.5,1032.0 2021.3,1031.8 2022.0,1031.7 2022.7,1031.5 2023.4,1031.4 2024.1,1031.2 2024.8,1031.0 2025.5,1030.9 2026.1,1030.7 2026.8,1030.6 2027.4,1030.4 2028.0,1030.3 2028.7,1030.1 2029.3,1030.0 2029.9,1029.8 2030.4,1029.7 2031.0,1029.5 2031.6,1029.4 2032.1,1029.2 2032.7,1029.1 2033.2,1028.9 2033.7,1028.8 2034.3,1028.6 2034.8,1028.5 2035.3,1028.3 2035.7,1028.2 2036.2,1028.0Z"/>
</g>
<g stroke="#000" fill="none">
<path stroke-width="6.5" d="M253.4,414.1H274.4M263.9,414.1V441.7M253.4,441.7H274.4"/>
<path stroke-width="6.5" stroke-linecap="round" d="M242.8,427.9H285.1"/>
<circle cx="263.9" cy="427.9" r="12.4" fill="#fff" stroke-width="3.9"/>
<path stroke-width="6.5" d="M337.9,307.4H358.9M348.4,307.4V330.6M337.9,330.6H358.9"/>
<path stroke-width="6.5" stroke-linecap="round" d="M327.3,319.0H369.6"/>
<circle cx="348.4" cy="319.0" r="12.4" fill="#fff" stroke-width="3.9"/>
<path stroke-width="6.5" stroke-linecap="round" d="M453.9,1014.5H496.1"/>
<circle cx="475.0" cy="1014.5" r="12.4" fill="#fff" stroke-width="3.9"/>
<path stroke-width="6.5" stroke-linecap="round" d="M538.4,1008.9H580.6"/>
<circle cx="559.5" cy="1008.9" r="12.4" fill="#fff" stroke-width="3.9"/>
<path stroke-width="6.5" stroke-linecap="round" d="M665.0,1013.9H707.2"/>
<circle cx="686.1" cy="1013.9" r="12.4" fill="#fff" stroke-width="3.9"/>
<path stroke-width="6.5" stroke-linecap="round" d="M749.5,1008.7H791.8"/>
<circle cx="770.6" cy="1008.7" r="12.4" fill="#fff" stroke-width="3.9"/>
<path stroke-width="6.5" stroke-linecap="round" d="M876.1,936.0H918.4"/>
<circle cx="897.2" cy="936.0" r="12.4" fill="#fff" stroke-width="3.9"/>
<path stroke-width="6.5" stroke-linecap="round" d="M960.6,951.0H1002.9"/>
<circle cx="981.8" cy="951.0" r="12.4" fill="#fff" stroke-width="3.9"/>
<path stroke-width="6.5" d="M1097.8,742.2H1118.8M1108.3,742.2V763.4M1097.8,763.4H1118.8"/>
<path stroke-width="6.5" stroke-linecap="round" d="M1087.2,752.8H1129.4"/>
<circle cx="1108.3" cy="752.8" r="12.4" fill="#fff" stroke-width="3.9"/>
<path stroke-width="6.5" stroke-linecap="round" d="M1171.8,795.4H1213.9"/>
<circle cx="1192.8" cy="795.4" r="12.4" fill="#fff" stroke-width="3.9"/>
<path stroke-width="6.5" stroke-linecap="round" d="M1298.4,925.6H1340.5"/>
<circle cx="1319.5" cy="925.6" r="12.4" fill="#fff" stroke-width="3.9"/>
<path stroke-width="6.5" stroke-linecap="round" d="M1382.9,952.4H1425.0"/>
<circle cx="1404.0" cy="952.4" r="12.4" fill="#fff" stroke-width="3.9"/>
<path stroke-width="6.5" stroke-linecap="round" d="M1509.5,998.4H1551.6"/>
<circle cx="1530.5" cy="998.4" r="12.4" fill="#fff" stroke-width="3.9"/>
<path stroke-width="6.5" stroke-linecap="round" d="M1594.0,1020.0H1636.1"/>
<circle cx="1615.0" cy="1020.0" r="12.4" fill="#fff" stroke-width="3.9"/>
<path stroke-width="6.5" stroke-linecap="round" d="M1720.6,1023.0H1762.8"/>
<circle cx="1741.7" cy="1023.0" r="12.4" fill="#fff" stroke-width="3.9"/>
<path stroke-width="6.5" stroke-linecap="round" d="M1805.1,1026.5H1847.2"/>
<circle cx="1826.2" cy="1026.5" r="12.4" fill="#fff" stroke-width="3.9"/>
<path stroke-width="6.5" stroke-linecap="round" d="M1931.7,1030.3H1973.8"/>
<circle cx="1952.8" cy="1030.3" r="12.4" fill="#fff" stroke-width="3.9"/>
<path stroke-width="6.5" stroke-linecap="round" d="M2016.2,1036.3H2058.3"/>
<circle cx="2037.2" cy="1036.3" r="12.4" fill="#fff" stroke-width="3.9"/>
</g>
<g stroke="#000" fill="none" stroke-width="6.5" stroke-linecap="round" stroke-linejoin="round">
<path d="M263.9,94.5V80.2H348.4V94.5"/>
<path d="M475.0,978.9V964.4H559.5V978.9"/>
<path d="M686.1,974.2V959.9H770.6V974.2"/>
<path d="M897.2,824.8V811.0H981.8V824.8"/>
<path d="M1108.3,530.4V516.7H1192.8V530.4"/>
<path d="M1319.5,807.8V793.5H1404.0V807.8"/>
<path d="M1530.5,627.8V613.3H1615.0V627.8"/>
<path d="M1741.7,976.0V961.5H1826.2V976.0"/>
<path d="M1952.8,922.8V908.4H2037.2V922.8"/>
</g>
<g font-size="50" text-anchor="middle">
<text x="306.2" y="85.8">***</text>
<text x="517.3" y="970.0">***</text>
<text x="728.4" y="965.5">***</text>
<text x="939.5" y="816.6">**</text>
<text x="1150.6" y="522.3">**</text>
<text x="1361.7" y="799.1">***</text>
<text x="1572.8" y="618.9">***</text>
<text x="1783.9" y="967.1">***</text>
<text x="1995.0" y="914.0">***</text>
</g>
<g stroke="#000" stroke-width="6.5" fill="none">
<path d="M179.8,12.5V1072.7"/>
<path d="M179.8,1072.7H2121.5"/>
<path d="M157,1045.5H177"/>
<path d="M157,793.5H177"/>
<path d="M157,541.5H177"/>
<path d="M157,289.5H177"/>
<path d="M157,37.5H177"/>
<path d="M306.2,1075V1096"/>
<path d="M517.3,1075V1096"/>
<path d="M728.4,1075V1096"/>
<path d="M939.5,1075V1096"/>
<path d="M1150.6,1075V1096"/>
<path d="M1361.7,1075V1096"/>
<path d="M1572.8,1075V1096"/>
<path d="M1783.9,1075V1096"/>
<path d="M1995.0,1075V1096"/>
</g>
<g font-size="50" text-anchor="end">
<text x="139" y="1061.9">0</text>
<text x="139" y="809.9">10</text>
<text x="139" y="557.9">20</text>
<text x="139" y="305.9">30</text>
<text x="139" y="53.9">40</text>
</g>
<g font-size="50" text-anchor="middle">
<text x="306.2" y="1153">APOA2</text>
<text x="517.3" y="1153">APOA1</text>
<text x="728.4" y="1153">HDL</text>
<text x="939.5" y="1153">APOC2</text>
<text x="1150.6" y="1153">APOC3</text>
<text x="1361.7" y="1153">APOE</text>
<text x="1572.8" y="1153">TG</text>
<text x="1783.9" y="1153">APOB</text>
<text x="1995.0" y="1153">RC</text>
</g>
<text font-size="60" text-anchor="middle" transform="translate(54,542.5) rotate(-90)">Value</text>
<g stroke="#000" stroke-width="2">
<rect x="2146.3" y="495.1" width="56.6" height="56.9" fill="#A6DDEA"/>
<rect x="2146.3" y="554.45" width="56.6" height="56.05" fill="#F3A59A"/>
</g>
<g font-size="50">
<text x="2227.7" y="540.5">GBS</text>
<text x="2227.7" y="599">HC</text>
</g>
</svg></body></html>
